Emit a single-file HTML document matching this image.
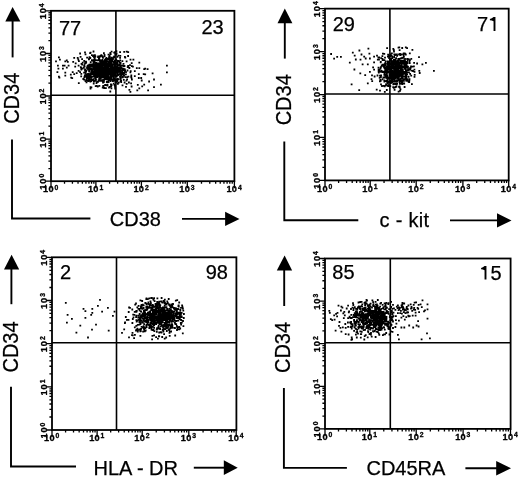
<!DOCTYPE html>
<html><head><meta charset="utf-8"><style>
html,body{margin:0;padding:0;background:#fff;}
svg{display:block;will-change:transform;}
text{font-family:"Liberation Sans", sans-serif;fill:#000;}
.big{stroke:#000;stroke-width:0.25px;}
</style></head><body>
<svg width="520" height="477" viewBox="0 0 520 477">
<rect width="520" height="477" fill="#fff"/>
<rect x="51.0" y="10.8" width="183.40" height="170.40" fill="none" stroke="#000" stroke-width="1.8"/>
<line x1="115.9" y1="10.8" x2="115.9" y2="181.2" stroke="#000" stroke-width="1.6"/>
<line x1="51.0" y1="95.3" x2="234.4" y2="95.3" stroke="#000" stroke-width="1.6"/>
<path d="M64.52 181.20v2.6 M51.00 168.56h-2.6 M72.42 181.20v2.6 M51.00 161.16h-2.6 M78.03 181.20v2.6 M51.00 155.91h-2.6 M82.38 181.20v2.6 M51.00 151.84h-2.6 M85.94 181.20v2.6 M51.00 148.52h-2.6 M88.94 181.20v2.6 M51.00 145.71h-2.6 M91.55 181.20v2.6 M51.00 143.27h-2.6 M93.85 181.20v2.6 M51.00 141.12h-2.6 M109.60 181.20v2.6 M51.00 126.20h-2.6 M117.61 181.20v2.6 M51.00 118.59h-2.6 M123.29 181.20v2.6 M51.00 113.19h-2.6 M127.70 181.20v2.6 M51.00 109.00h-2.6 M131.31 181.20v2.6 M51.00 105.58h-2.6 M134.35 181.20v2.6 M51.00 102.69h-2.6 M136.99 181.20v2.6 M51.00 100.19h-2.6 M139.32 181.20v2.6 M51.00 97.98h-2.6 M155.22 181.20v2.6 M51.00 83.21h-2.6 M163.30 181.20v2.6 M51.00 75.72h-2.6 M169.03 181.20v2.6 M51.00 70.41h-2.6 M173.48 181.20v2.6 M51.00 66.29h-2.6 M177.12 181.20v2.6 M51.00 62.93h-2.6 M180.19 181.20v2.6 M51.00 60.08h-2.6 M182.85 181.20v2.6 M51.00 57.62h-2.6 M185.20 181.20v2.6 M51.00 55.44h-2.6 M201.48 181.20v2.6 M51.00 40.65h-2.6 M209.77 181.20v2.6 M51.00 33.13h-2.6 M215.66 181.20v2.6 M51.00 27.79h-2.6 M220.22 181.20v2.6 M51.00 23.65h-2.6 M223.95 181.20v2.6 M51.00 20.27h-2.6 M227.10 181.20v2.6 M51.00 17.41h-2.6 M229.84 181.20v2.6 M51.00 14.94h-2.6 M232.24 181.20v2.6 M51.00 12.75h-2.6 M51.00 181.20v7 M51.00 181.20h-5.5 M95.90 181.20v7 M51.00 139.20h-5.5 M141.40 181.20v7 M51.00 96.00h-5.5 M187.30 181.20v7 M51.00 53.50h-5.5 M234.40 181.20v7 M51.00 10.80h-5.5" stroke="#000" stroke-width="1.3" fill="none"/>
<g font-family="Liberation Mono, monospace" font-weight="bold" stroke="#000" stroke-width="0.3" text-anchor="middle"><text x="45.60" y="192.40" font-size="9.2">1</text><text x="51.00" y="192.40" font-size="9.2">0</text><text x="56.40" y="189.50" font-size="6.8">0</text></g>
<g font-family="Liberation Mono, monospace" font-weight="bold" stroke="#000" stroke-width="0.3" text-anchor="middle"><text transform="translate(46.10 187.20) rotate(-90)" font-size="9.2">1</text><text transform="translate(46.10 181.20) rotate(-90)" font-size="9.2">0</text><text transform="translate(44.30 175.70) rotate(-90)" font-size="6.8">0</text></g>
<g font-family="Liberation Mono, monospace" font-weight="bold" stroke="#000" stroke-width="0.3" text-anchor="middle"><text x="90.50" y="192.40" font-size="9.2">1</text><text x="95.90" y="192.40" font-size="9.2">0</text><text x="101.30" y="189.50" font-size="6.8">1</text></g>
<g font-family="Liberation Mono, monospace" font-weight="bold" stroke="#000" stroke-width="0.3" text-anchor="middle"><text transform="translate(46.10 145.20) rotate(-90)" font-size="9.2">1</text><text transform="translate(46.10 139.20) rotate(-90)" font-size="9.2">0</text><text transform="translate(44.30 133.70) rotate(-90)" font-size="6.8">1</text></g>
<g font-family="Liberation Mono, monospace" font-weight="bold" stroke="#000" stroke-width="0.3" text-anchor="middle"><text x="136.00" y="192.40" font-size="9.2">1</text><text x="141.40" y="192.40" font-size="9.2">0</text><text x="146.80" y="189.50" font-size="6.8">2</text></g>
<g font-family="Liberation Mono, monospace" font-weight="bold" stroke="#000" stroke-width="0.3" text-anchor="middle"><text transform="translate(46.10 102.00) rotate(-90)" font-size="9.2">1</text><text transform="translate(46.10 96.00) rotate(-90)" font-size="9.2">0</text><text transform="translate(44.30 90.50) rotate(-90)" font-size="6.8">2</text></g>
<g font-family="Liberation Mono, monospace" font-weight="bold" stroke="#000" stroke-width="0.3" text-anchor="middle"><text x="181.90" y="192.40" font-size="9.2">1</text><text x="187.30" y="192.40" font-size="9.2">0</text><text x="192.70" y="189.50" font-size="6.8">3</text></g>
<g font-family="Liberation Mono, monospace" font-weight="bold" stroke="#000" stroke-width="0.3" text-anchor="middle"><text transform="translate(46.10 59.50) rotate(-90)" font-size="9.2">1</text><text transform="translate(46.10 53.50) rotate(-90)" font-size="9.2">0</text><text transform="translate(44.30 48.00) rotate(-90)" font-size="6.8">3</text></g>
<g font-family="Liberation Mono, monospace" font-weight="bold" stroke="#000" stroke-width="0.3" text-anchor="middle"><text x="229.00" y="192.40" font-size="9.2">1</text><text x="234.40" y="192.40" font-size="9.2">0</text><text x="239.80" y="189.50" font-size="6.8">4</text></g>
<g font-family="Liberation Mono, monospace" font-weight="bold" stroke="#000" stroke-width="0.3" text-anchor="middle"><text transform="translate(46.10 16.80) rotate(-90)" font-size="9.2">1</text><text transform="translate(46.10 10.80) rotate(-90)" font-size="9.2">0</text><text transform="translate(44.30 5.30) rotate(-90)" font-size="6.8">4</text></g>
<text class="big" x="58.98" y="34.50" font-size="20.0" >77</text>
<text class="big" x="201.50" y="34.00" font-size="20.0" >23</text>
<path d="M12.6 6.9L20.4 21.4L5.3 21.4Z" fill="#000"/>
<line x1="12.6" y1="20.4" x2="12.6" y2="57.4" stroke="#000" stroke-width="1.9"/>
<text transform="translate(18.90 123.84) rotate(-90) scale(1 1.08)" class="big" font-size="20.0">CD34</text>
<path d="M12.0 139.6V218.5H90.4" stroke="#000" stroke-width="1.9" fill="none"/>
<text class="big" x="109.78" y="226.00" font-size="20.0" >CD38</text>
<line x1="182.0" y1="218.9" x2="226.1" y2="218.9" stroke="#000" stroke-width="1.9"/>
<path d="M239.5 218.9L225.1 211.70L225.1 226.10Z" fill="#000"/>
<rect x="325.0" y="8.65" width="183.70" height="171.75" fill="none" stroke="#000" stroke-width="1.8"/>
<line x1="389.9" y1="8.65" x2="389.9" y2="180.4" stroke="#000" stroke-width="1.6"/>
<line x1="325.0" y1="94.0" x2="508.7" y2="94.0" stroke="#000" stroke-width="1.6"/>
<path d="M338.61 180.40v2.6 M325.00 167.47h-2.6 M346.57 180.40v2.6 M325.00 159.91h-2.6 M352.21 180.40v2.6 M325.00 154.55h-2.6 M356.59 180.40v2.6 M325.00 150.39h-2.6 M360.17 180.40v2.6 M325.00 146.99h-2.6 M363.20 180.40v2.6 M325.00 144.11h-2.6 M365.82 180.40v2.6 M325.00 141.62h-2.6 M368.13 180.40v2.6 M325.00 139.43h-2.6 M384.05 180.40v2.6 M325.00 124.54h-2.6 M392.15 180.40v2.6 M325.00 116.98h-2.6 M397.89 180.40v2.6 M325.00 111.61h-2.6 M402.35 180.40v2.6 M325.00 107.45h-2.6 M405.99 180.40v2.6 M325.00 104.05h-2.6 M409.07 180.40v2.6 M325.00 101.18h-2.6 M411.74 180.40v2.6 M325.00 98.69h-2.6 M414.10 180.40v2.6 M325.00 96.49h-2.6 M430.26 180.40v2.6 M325.00 81.60h-2.6 M438.48 180.40v2.6 M325.00 74.04h-2.6 M444.32 180.40v2.6 M325.00 68.67h-2.6 M448.84 180.40v2.6 M325.00 64.51h-2.6 M452.54 180.40v2.6 M325.00 61.11h-2.6 M455.67 180.40v2.6 M325.00 58.24h-2.6 M458.37 180.40v2.6 M325.00 55.75h-2.6 M460.76 180.40v2.6 M325.00 53.55h-2.6 M476.69 180.40v2.6 M325.00 38.66h-2.6 M484.75 180.40v2.6 M325.00 31.10h-2.6 M490.47 180.40v2.6 M325.00 25.74h-2.6 M494.91 180.40v2.6 M325.00 21.58h-2.6 M498.54 180.40v2.6 M325.00 18.18h-2.6 M501.61 180.40v2.6 M325.00 15.30h-2.6 M504.26 180.40v2.6 M325.00 12.81h-2.6 M506.60 180.40v2.6 M325.00 10.61h-2.6 M325.00 180.40v7 M325.00 180.40h-5.5 M370.20 180.40v7 M325.00 137.46h-5.5 M416.20 180.40v7 M325.00 94.53h-5.5 M462.90 180.40v7 M325.00 51.59h-5.5 M508.70 180.40v7 M325.00 8.65h-5.5" stroke="#000" stroke-width="1.3" fill="none"/>
<g font-family="Liberation Mono, monospace" font-weight="bold" stroke="#000" stroke-width="0.3" text-anchor="middle"><text x="319.60" y="191.60" font-size="9.2">1</text><text x="325.00" y="191.60" font-size="9.2">0</text><text x="330.40" y="188.70" font-size="6.8">0</text></g>
<g font-family="Liberation Mono, monospace" font-weight="bold" stroke="#000" stroke-width="0.3" text-anchor="middle"><text transform="translate(320.10 186.40) rotate(-90)" font-size="9.2">1</text><text transform="translate(320.10 180.40) rotate(-90)" font-size="9.2">0</text><text transform="translate(318.30 174.90) rotate(-90)" font-size="6.8">0</text></g>
<g font-family="Liberation Mono, monospace" font-weight="bold" stroke="#000" stroke-width="0.3" text-anchor="middle"><text x="364.80" y="191.60" font-size="9.2">1</text><text x="370.20" y="191.60" font-size="9.2">0</text><text x="375.60" y="188.70" font-size="6.8">1</text></g>
<g font-family="Liberation Mono, monospace" font-weight="bold" stroke="#000" stroke-width="0.3" text-anchor="middle"><text transform="translate(320.10 143.46) rotate(-90)" font-size="9.2">1</text><text transform="translate(320.10 137.46) rotate(-90)" font-size="9.2">0</text><text transform="translate(318.30 131.96) rotate(-90)" font-size="6.8">1</text></g>
<g font-family="Liberation Mono, monospace" font-weight="bold" stroke="#000" stroke-width="0.3" text-anchor="middle"><text x="410.80" y="191.60" font-size="9.2">1</text><text x="416.20" y="191.60" font-size="9.2">0</text><text x="421.60" y="188.70" font-size="6.8">2</text></g>
<g font-family="Liberation Mono, monospace" font-weight="bold" stroke="#000" stroke-width="0.3" text-anchor="middle"><text transform="translate(320.10 100.53) rotate(-90)" font-size="9.2">1</text><text transform="translate(320.10 94.53) rotate(-90)" font-size="9.2">0</text><text transform="translate(318.30 89.03) rotate(-90)" font-size="6.8">2</text></g>
<g font-family="Liberation Mono, monospace" font-weight="bold" stroke="#000" stroke-width="0.3" text-anchor="middle"><text x="457.50" y="191.60" font-size="9.2">1</text><text x="462.90" y="191.60" font-size="9.2">0</text><text x="468.30" y="188.70" font-size="6.8">3</text></g>
<g font-family="Liberation Mono, monospace" font-weight="bold" stroke="#000" stroke-width="0.3" text-anchor="middle"><text transform="translate(320.10 57.59) rotate(-90)" font-size="9.2">1</text><text transform="translate(320.10 51.59) rotate(-90)" font-size="9.2">0</text><text transform="translate(318.30 46.09) rotate(-90)" font-size="6.8">3</text></g>
<g font-family="Liberation Mono, monospace" font-weight="bold" stroke="#000" stroke-width="0.3" text-anchor="middle"><text x="503.30" y="191.60" font-size="9.2">1</text><text x="508.70" y="191.60" font-size="9.2">0</text><text x="514.10" y="188.70" font-size="6.8">4</text></g>
<g font-family="Liberation Mono, monospace" font-weight="bold" stroke="#000" stroke-width="0.3" text-anchor="middle"><text transform="translate(320.10 14.65) rotate(-90)" font-size="9.2">1</text><text transform="translate(320.10 8.65) rotate(-90)" font-size="9.2">0</text><text transform="translate(318.30 3.15) rotate(-90)" font-size="6.8">4</text></g>
<text class="big" x="332.70" y="30.90" font-size="20.0" >29</text>
<text class="big" x="477.08" y="31.00" font-size="20.0" >7</text>
<path d="M495.45 17.00V31.00H493.55V21.20Q491.90 20.40 489.90 20.30V18.90Q491.90 18.60 493.55 17.00Z" fill="#000"/>
<path d="M284.8 8.6L292.4 23.3L277.5 23.3Z" fill="#000"/>
<line x1="284.8" y1="22.3" x2="284.8" y2="58.6" stroke="#000" stroke-width="1.9"/>
<text transform="translate(291.30 125.34) rotate(-90) scale(1 1.08)" class="big" font-size="20.0">CD34</text>
<path d="M284.3 141.4V220.2H358.3" stroke="#000" stroke-width="1.9" fill="none"/>
<text class="big" x="379.56" y="227.30" font-size="20.0" letter-spacing="0.3">c - kit</text>
<line x1="450.0" y1="220.4" x2="498.0" y2="220.4" stroke="#000" stroke-width="1.9"/>
<path d="M511.5 220.4L497.0 213.20L497.0 227.60Z" fill="#000"/>
<rect x="52.0" y="257.3" width="184.40" height="172.70" fill="none" stroke="#000" stroke-width="1.8"/>
<line x1="116.5" y1="257.3" x2="116.5" y2="430.0" stroke="#000" stroke-width="1.6"/>
<line x1="52.0" y1="342.7" x2="236.4" y2="342.7" stroke="#000" stroke-width="1.6"/>
<path d="M65.58 430.00v2.6 M52.00 417.00h-2.6 M73.52 430.00v2.6 M52.00 409.40h-2.6 M79.15 430.00v2.6 M52.00 404.01h-2.6 M83.52 430.00v2.6 M52.00 399.82h-2.6 M87.09 430.00v2.6 M52.00 396.40h-2.6 M90.11 430.00v2.6 M52.00 393.51h-2.6 M92.73 430.00v2.6 M52.00 391.01h-2.6 M95.04 430.00v2.6 M52.00 388.80h-2.6 M110.68 430.00v2.6 M52.00 373.83h-2.6 M118.62 430.00v2.6 M52.00 366.23h-2.6 M124.25 430.00v2.6 M52.00 360.83h-2.6 M128.62 430.00v2.6 M52.00 356.65h-2.6 M132.19 430.00v2.6 M52.00 353.23h-2.6 M135.21 430.00v2.6 M52.00 350.34h-2.6 M137.83 430.00v2.6 M52.00 347.83h-2.6 M140.14 430.00v2.6 M52.00 345.63h-2.6 M156.23 430.00v2.6 M52.00 330.65h-2.6 M164.43 430.00v2.6 M52.00 323.05h-2.6 M170.26 430.00v2.6 M52.00 317.66h-2.6 M174.77 430.00v2.6 M52.00 313.47h-2.6 M178.46 430.00v2.6 M52.00 310.05h-2.6 M181.58 430.00v2.6 M52.00 307.16h-2.6 M184.28 430.00v2.6 M52.00 304.66h-2.6 M186.67 430.00v2.6 M52.00 302.45h-2.6 M203.07 430.00v2.6 M52.00 287.48h-2.6 M211.42 430.00v2.6 M52.00 279.88h-2.6 M217.34 430.00v2.6 M52.00 274.48h-2.6 M221.93 430.00v2.6 M52.00 270.30h-2.6 M225.68 430.00v2.6 M52.00 266.88h-2.6 M228.86 430.00v2.6 M52.00 263.99h-2.6 M231.61 430.00v2.6 M52.00 261.48h-2.6 M234.03 430.00v2.6 M52.00 259.28h-2.6 M52.00 430.00v7 M52.00 430.00h-5.5 M97.10 430.00v7 M52.00 386.82h-5.5 M142.20 430.00v7 M52.00 343.65h-5.5 M188.80 430.00v7 M52.00 300.48h-5.5 M236.20 430.00v7 M52.00 257.30h-5.5" stroke="#000" stroke-width="1.3" fill="none"/>
<g font-family="Liberation Mono, monospace" font-weight="bold" stroke="#000" stroke-width="0.3" text-anchor="middle"><text x="46.60" y="441.20" font-size="9.2">1</text><text x="52.00" y="441.20" font-size="9.2">0</text><text x="57.40" y="438.30" font-size="6.8">0</text></g>
<g font-family="Liberation Mono, monospace" font-weight="bold" stroke="#000" stroke-width="0.3" text-anchor="middle"><text transform="translate(47.10 436.00) rotate(-90)" font-size="9.2">1</text><text transform="translate(47.10 430.00) rotate(-90)" font-size="9.2">0</text><text transform="translate(45.30 424.50) rotate(-90)" font-size="6.8">0</text></g>
<g font-family="Liberation Mono, monospace" font-weight="bold" stroke="#000" stroke-width="0.3" text-anchor="middle"><text x="91.70" y="441.20" font-size="9.2">1</text><text x="97.10" y="441.20" font-size="9.2">0</text><text x="102.50" y="438.30" font-size="6.8">1</text></g>
<g font-family="Liberation Mono, monospace" font-weight="bold" stroke="#000" stroke-width="0.3" text-anchor="middle"><text transform="translate(47.10 392.82) rotate(-90)" font-size="9.2">1</text><text transform="translate(47.10 386.82) rotate(-90)" font-size="9.2">0</text><text transform="translate(45.30 381.32) rotate(-90)" font-size="6.8">1</text></g>
<g font-family="Liberation Mono, monospace" font-weight="bold" stroke="#000" stroke-width="0.3" text-anchor="middle"><text x="136.80" y="441.20" font-size="9.2">1</text><text x="142.20" y="441.20" font-size="9.2">0</text><text x="147.60" y="438.30" font-size="6.8">2</text></g>
<g font-family="Liberation Mono, monospace" font-weight="bold" stroke="#000" stroke-width="0.3" text-anchor="middle"><text transform="translate(47.10 349.65) rotate(-90)" font-size="9.2">1</text><text transform="translate(47.10 343.65) rotate(-90)" font-size="9.2">0</text><text transform="translate(45.30 338.15) rotate(-90)" font-size="6.8">2</text></g>
<g font-family="Liberation Mono, monospace" font-weight="bold" stroke="#000" stroke-width="0.3" text-anchor="middle"><text x="183.40" y="441.20" font-size="9.2">1</text><text x="188.80" y="441.20" font-size="9.2">0</text><text x="194.20" y="438.30" font-size="6.8">3</text></g>
<g font-family="Liberation Mono, monospace" font-weight="bold" stroke="#000" stroke-width="0.3" text-anchor="middle"><text transform="translate(47.10 306.48) rotate(-90)" font-size="9.2">1</text><text transform="translate(47.10 300.48) rotate(-90)" font-size="9.2">0</text><text transform="translate(45.30 294.98) rotate(-90)" font-size="6.8">3</text></g>
<g font-family="Liberation Mono, monospace" font-weight="bold" stroke="#000" stroke-width="0.3" text-anchor="middle"><text x="230.80" y="441.20" font-size="9.2">1</text><text x="236.20" y="441.20" font-size="9.2">0</text><text x="241.60" y="438.30" font-size="6.8">4</text></g>
<g font-family="Liberation Mono, monospace" font-weight="bold" stroke="#000" stroke-width="0.3" text-anchor="middle"><text transform="translate(47.10 263.30) rotate(-90)" font-size="9.2">1</text><text transform="translate(47.10 257.30) rotate(-90)" font-size="9.2">0</text><text transform="translate(45.30 251.80) rotate(-90)" font-size="6.8">4</text></g>
<text class="big" x="60.10" y="279.40" font-size="20.0" >2</text>
<text class="big" x="205.76" y="278.90" font-size="20.0" >98</text>
<path d="M11.6 254.8L19.2 269.6L4.0 269.6Z" fill="#000"/>
<line x1="11.4" y1="268.6" x2="11.4" y2="304.2" stroke="#000" stroke-width="1.9"/>
<text transform="translate(18.30 372.49) rotate(-90) scale(1 1.08)" class="big" font-size="20.0">CD34</text>
<path d="M11.0 386.8V466.5H76.0" stroke="#000" stroke-width="1.9" fill="none"/>
<text class="big" x="93.56" y="475.00" font-size="20.0" >HLA - DR</text>
<line x1="193.8" y1="467.7" x2="224.8" y2="467.7" stroke="#000" stroke-width="1.9"/>
<path d="M237.7 467.7L223.8 460.30L223.8 475.10Z" fill="#000"/>
<rect x="325.0" y="258.5" width="185.60" height="170.40" fill="none" stroke="#000" stroke-width="1.8"/>
<line x1="390.3" y1="258.5" x2="390.3" y2="428.9" stroke="#000" stroke-width="1.6"/>
<line x1="325.0" y1="342.7" x2="510.6" y2="342.7" stroke="#000" stroke-width="1.6"/>
<path d="M338.49 428.90v2.6 M325.00 416.08h-2.6 M346.38 428.90v2.6 M325.00 408.57h-2.6 M351.97 428.90v2.6 M325.00 403.25h-2.6 M356.31 428.90v2.6 M325.00 399.12h-2.6 M359.86 428.90v2.6 M325.00 395.75h-2.6 M362.86 428.90v2.6 M325.00 392.90h-2.6 M365.46 428.90v2.6 M325.00 390.43h-2.6 M367.75 428.90v2.6 M325.00 388.25h-2.6 M383.77 428.90v2.6 M325.00 373.48h-2.6 M391.94 428.90v2.6 M325.00 365.97h-2.6 M397.74 428.90v2.6 M325.00 360.65h-2.6 M402.23 428.90v2.6 M325.00 356.52h-2.6 M405.91 428.90v2.6 M325.00 353.15h-2.6 M409.01 428.90v2.6 M325.00 350.30h-2.6 M411.70 428.90v2.6 M325.00 347.83h-2.6 M414.08 428.90v2.6 M325.00 345.65h-2.6 M430.32 428.90v2.6 M325.00 330.88h-2.6 M438.58 428.90v2.6 M325.00 323.37h-2.6 M444.44 428.90v2.6 M325.00 318.05h-2.6 M448.98 428.90v2.6 M325.00 313.92h-2.6 M452.70 428.90v2.6 M325.00 310.55h-2.6 M455.84 428.90v2.6 M325.00 307.70h-2.6 M458.55 428.90v2.6 M325.00 305.23h-2.6 M460.95 428.90v2.6 M325.00 303.05h-2.6 M477.37 428.90v2.6 M325.00 288.28h-2.6 M485.72 428.90v2.6 M325.00 280.77h-2.6 M491.64 428.90v2.6 M325.00 275.45h-2.6 M496.23 428.90v2.6 M325.00 271.32h-2.6 M499.98 428.90v2.6 M325.00 267.95h-2.6 M503.16 428.90v2.6 M325.00 265.10h-2.6 M505.91 428.90v2.6 M325.00 262.63h-2.6 M508.33 428.90v2.6 M325.00 260.45h-2.6 M325.00 428.90v7 M325.00 428.90h-5.5 M369.80 428.90v7 M325.00 386.30h-5.5 M416.20 428.90v7 M325.00 343.70h-5.5 M463.10 428.90v7 M325.00 301.10h-5.5 M510.50 428.90v7 M325.00 258.50h-5.5" stroke="#000" stroke-width="1.3" fill="none"/>
<g font-family="Liberation Mono, monospace" font-weight="bold" stroke="#000" stroke-width="0.3" text-anchor="middle"><text x="319.60" y="440.10" font-size="9.2">1</text><text x="325.00" y="440.10" font-size="9.2">0</text><text x="330.40" y="437.20" font-size="6.8">0</text></g>
<g font-family="Liberation Mono, monospace" font-weight="bold" stroke="#000" stroke-width="0.3" text-anchor="middle"><text transform="translate(320.10 434.90) rotate(-90)" font-size="9.2">1</text><text transform="translate(320.10 428.90) rotate(-90)" font-size="9.2">0</text><text transform="translate(318.30 423.40) rotate(-90)" font-size="6.8">0</text></g>
<g font-family="Liberation Mono, monospace" font-weight="bold" stroke="#000" stroke-width="0.3" text-anchor="middle"><text x="364.40" y="440.10" font-size="9.2">1</text><text x="369.80" y="440.10" font-size="9.2">0</text><text x="375.20" y="437.20" font-size="6.8">1</text></g>
<g font-family="Liberation Mono, monospace" font-weight="bold" stroke="#000" stroke-width="0.3" text-anchor="middle"><text transform="translate(320.10 392.30) rotate(-90)" font-size="9.2">1</text><text transform="translate(320.10 386.30) rotate(-90)" font-size="9.2">0</text><text transform="translate(318.30 380.80) rotate(-90)" font-size="6.8">1</text></g>
<g font-family="Liberation Mono, monospace" font-weight="bold" stroke="#000" stroke-width="0.3" text-anchor="middle"><text x="410.80" y="440.10" font-size="9.2">1</text><text x="416.20" y="440.10" font-size="9.2">0</text><text x="421.60" y="437.20" font-size="6.8">2</text></g>
<g font-family="Liberation Mono, monospace" font-weight="bold" stroke="#000" stroke-width="0.3" text-anchor="middle"><text transform="translate(320.10 349.70) rotate(-90)" font-size="9.2">1</text><text transform="translate(320.10 343.70) rotate(-90)" font-size="9.2">0</text><text transform="translate(318.30 338.20) rotate(-90)" font-size="6.8">2</text></g>
<g font-family="Liberation Mono, monospace" font-weight="bold" stroke="#000" stroke-width="0.3" text-anchor="middle"><text x="457.70" y="440.10" font-size="9.2">1</text><text x="463.10" y="440.10" font-size="9.2">0</text><text x="468.50" y="437.20" font-size="6.8">3</text></g>
<g font-family="Liberation Mono, monospace" font-weight="bold" stroke="#000" stroke-width="0.3" text-anchor="middle"><text transform="translate(320.10 307.10) rotate(-90)" font-size="9.2">1</text><text transform="translate(320.10 301.10) rotate(-90)" font-size="9.2">0</text><text transform="translate(318.30 295.60) rotate(-90)" font-size="6.8">3</text></g>
<g font-family="Liberation Mono, monospace" font-weight="bold" stroke="#000" stroke-width="0.3" text-anchor="middle"><text x="505.10" y="440.10" font-size="9.2">1</text><text x="510.50" y="440.10" font-size="9.2">0</text><text x="515.90" y="437.20" font-size="6.8">4</text></g>
<g font-family="Liberation Mono, monospace" font-weight="bold" stroke="#000" stroke-width="0.3" text-anchor="middle"><text transform="translate(320.10 264.50) rotate(-90)" font-size="9.2">1</text><text transform="translate(320.10 258.50) rotate(-90)" font-size="9.2">0</text><text transform="translate(318.30 253.00) rotate(-90)" font-size="6.8">4</text></g>
<text class="big" x="332.34" y="278.90" font-size="20.0" >85</text>
<path d="M486.45 266.00V279.60H484.55V270.20Q482.90 269.40 481.10 269.30V267.90Q482.90 267.60 484.55 266.00Z" fill="#000"/>
<text class="big" x="490.45" y="279.70" font-size="20.0" >5</text>
<path d="M284.6 255.6L292.1 270.6L276.8 270.6Z" fill="#000"/>
<line x1="284.2" y1="269.6" x2="284.2" y2="306.0" stroke="#000" stroke-width="1.9"/>
<text transform="translate(289.70 372.99) rotate(-90) scale(1 1.08)" class="big" font-size="20.0">CD34</text>
<path d="M283.9 388.0V467.9H346.9" stroke="#000" stroke-width="1.9" fill="none"/>
<text class="big" x="366.48" y="475.20" font-size="20.0" >CD45RA</text>
<line x1="465.4" y1="468.2" x2="497.2" y2="468.2" stroke="#000" stroke-width="1.9"/>
<path d="M511.0 468.2L496.2 460.90L496.2 475.50Z" fill="#000"/>
<path d="M101.3 72.6h1.8v1.8h-1.8zM101.6 66.8h1.8v1.8h-1.8zM94.2 67.5h1.8v1.8h-1.8zM115.7 72.0h1.8v1.8h-1.8zM114.9 70.7h1.8v1.8h-1.8zM108.1 70.3h1.8v1.8h-1.8zM86.5 75.0h1.8v1.8h-1.8zM109.3 72.5h1.8v1.8h-1.8zM86.2 56.8h1.8v1.8h-1.8zM94.7 65.7h1.8v1.8h-1.8zM107.2 68.7h1.8v1.8h-1.8zM109.5 64.5h1.8v1.8h-1.8zM107.2 71.8h1.8v1.8h-1.8zM97.1 81.0h1.8v1.8h-1.8zM109.8 77.4h1.8v1.8h-1.8zM97.5 63.8h1.8v1.8h-1.8zM100.4 68.3h1.8v1.8h-1.8zM110.6 70.7h1.8v1.8h-1.8zM99.3 62.3h1.8v1.8h-1.8zM98.5 77.5h1.8v1.8h-1.8zM95.5 70.7h1.8v1.8h-1.8zM108.5 58.6h1.8v1.8h-1.8zM104.5 78.1h1.8v1.8h-1.8zM82.8 66.7h1.8v1.8h-1.8zM102.9 63.3h1.8v1.8h-1.8zM109.2 68.6h1.8v1.8h-1.8zM88.6 74.8h1.8v1.8h-1.8zM111.0 75.6h1.8v1.8h-1.8zM119.1 71.5h1.8v1.8h-1.8zM105.3 59.9h1.8v1.8h-1.8zM110.5 64.7h1.8v1.8h-1.8zM99.2 60.1h1.8v1.8h-1.8zM93.8 65.3h1.8v1.8h-1.8zM117.5 54.8h1.8v1.8h-1.8zM88.7 70.7h1.8v1.8h-1.8zM119.2 73.0h1.8v1.8h-1.8zM84.1 51.4h1.8v1.8h-1.8zM107.8 63.8h1.8v1.8h-1.8zM92.2 75.8h1.8v1.8h-1.8zM115.6 70.1h1.8v1.8h-1.8zM106.6 72.0h1.8v1.8h-1.8zM120.7 73.3h1.8v1.8h-1.8zM109.4 72.8h1.8v1.8h-1.8zM87.5 78.0h1.8v1.8h-1.8zM114.0 72.7h1.8v1.8h-1.8zM83.3 64.6h1.8v1.8h-1.8zM112.8 56.3h1.8v1.8h-1.8zM102.1 76.1h1.8v1.8h-1.8zM90.2 80.3h1.8v1.8h-1.8zM109.8 67.9h1.8v1.8h-1.8zM107.4 73.5h1.8v1.8h-1.8zM105.3 77.0h1.8v1.8h-1.8zM97.1 66.1h1.8v1.8h-1.8zM114.9 69.2h1.8v1.8h-1.8zM94.8 75.6h1.8v1.8h-1.8zM119.4 65.9h1.8v1.8h-1.8zM89.5 68.1h1.8v1.8h-1.8zM102.4 66.9h1.8v1.8h-1.8zM118.8 61.8h1.8v1.8h-1.8zM117.2 60.1h1.8v1.8h-1.8zM95.7 73.4h1.8v1.8h-1.8zM115.9 75.0h1.8v1.8h-1.8zM107.6 70.0h1.8v1.8h-1.8zM105.6 73.0h1.8v1.8h-1.8zM102.1 70.9h1.8v1.8h-1.8zM110.0 69.0h1.8v1.8h-1.8zM112.0 73.0h1.8v1.8h-1.8zM125.1 71.3h1.8v1.8h-1.8zM99.5 66.4h1.8v1.8h-1.8zM103.9 75.5h1.8v1.8h-1.8zM100.5 71.7h1.8v1.8h-1.8zM123.3 51.0h1.8v1.8h-1.8zM92.2 70.7h1.8v1.8h-1.8zM108.2 70.7h1.8v1.8h-1.8zM99.5 73.6h1.8v1.8h-1.8zM107.0 65.3h1.8v1.8h-1.8zM129.5 71.5h1.8v1.8h-1.8zM98.2 68.3h1.8v1.8h-1.8zM101.6 68.6h1.8v1.8h-1.8zM114.6 60.8h1.8v1.8h-1.8zM103.3 75.7h1.8v1.8h-1.8zM113.0 79.4h1.8v1.8h-1.8zM86.1 66.5h1.8v1.8h-1.8zM100.4 73.4h1.8v1.8h-1.8zM115.5 50.2h1.8v1.8h-1.8zM115.4 58.9h1.8v1.8h-1.8zM111.2 58.6h1.8v1.8h-1.8zM105.8 77.4h1.8v1.8h-1.8zM102.4 70.3h1.8v1.8h-1.8zM112.4 70.0h1.8v1.8h-1.8zM103.1 79.7h1.8v1.8h-1.8zM115.0 66.9h1.8v1.8h-1.8zM113.6 67.1h1.8v1.8h-1.8zM105.4 73.9h1.8v1.8h-1.8zM106.3 73.5h1.8v1.8h-1.8zM88.0 58.4h1.8v1.8h-1.8zM110.5 62.3h1.8v1.8h-1.8zM93.2 58.7h1.8v1.8h-1.8zM117.3 74.2h1.8v1.8h-1.8zM119.5 62.4h1.8v1.8h-1.8zM104.0 61.0h1.8v1.8h-1.8zM112.0 80.1h1.8v1.8h-1.8zM94.7 79.9h1.8v1.8h-1.8zM114.4 67.8h1.8v1.8h-1.8zM83.3 78.8h1.8v1.8h-1.8zM103.0 64.8h1.8v1.8h-1.8zM108.2 71.9h1.8v1.8h-1.8zM119.7 61.9h1.8v1.8h-1.8zM115.9 79.4h1.8v1.8h-1.8zM119.2 67.7h1.8v1.8h-1.8zM96.2 76.1h1.8v1.8h-1.8zM105.2 69.9h1.8v1.8h-1.8zM119.0 67.2h1.8v1.8h-1.8zM79.9 66.3h1.8v1.8h-1.8zM84.5 74.7h1.8v1.8h-1.8zM107.3 64.7h1.8v1.8h-1.8zM103.9 74.8h1.8v1.8h-1.8zM104.8 78.3h1.8v1.8h-1.8zM103.4 76.3h1.8v1.8h-1.8zM119.7 80.3h1.8v1.8h-1.8zM96.9 75.2h1.8v1.8h-1.8zM84.3 61.4h1.8v1.8h-1.8zM83.4 76.5h1.8v1.8h-1.8zM91.1 68.9h1.8v1.8h-1.8zM102.0 68.8h1.8v1.8h-1.8zM97.8 70.6h1.8v1.8h-1.8zM122.8 69.3h1.8v1.8h-1.8zM109.6 76.0h1.8v1.8h-1.8zM101.9 60.2h1.8v1.8h-1.8zM98.2 76.5h1.8v1.8h-1.8zM86.7 64.8h1.8v1.8h-1.8zM114.6 74.5h1.8v1.8h-1.8zM104.1 74.6h1.8v1.8h-1.8zM105.7 60.7h1.8v1.8h-1.8zM87.6 64.5h1.8v1.8h-1.8zM113.7 65.0h1.8v1.8h-1.8zM94.5 63.6h1.8v1.8h-1.8zM87.9 68.2h1.8v1.8h-1.8zM91.6 71.5h1.8v1.8h-1.8zM79.2 71.3h1.8v1.8h-1.8zM97.3 55.4h1.8v1.8h-1.8zM111.6 67.1h1.8v1.8h-1.8zM80.6 62.9h1.8v1.8h-1.8zM107.1 65.8h1.8v1.8h-1.8zM112.2 74.2h1.8v1.8h-1.8zM111.0 71.3h1.8v1.8h-1.8zM118.0 73.6h1.8v1.8h-1.8zM108.7 54.4h1.8v1.8h-1.8zM113.4 78.2h1.8v1.8h-1.8zM100.9 65.7h1.8v1.8h-1.8zM124.4 56.7h1.8v1.8h-1.8zM108.9 86.0h1.8v1.8h-1.8zM94.3 73.8h1.8v1.8h-1.8zM123.8 68.2h1.8v1.8h-1.8zM109.9 75.3h1.8v1.8h-1.8zM94.5 68.4h1.8v1.8h-1.8zM107.1 74.8h1.8v1.8h-1.8zM103.6 67.6h1.8v1.8h-1.8zM93.3 66.5h1.8v1.8h-1.8zM113.4 69.7h1.8v1.8h-1.8zM95.0 63.1h1.8v1.8h-1.8zM110.7 50.8h1.8v1.8h-1.8zM110.5 72.4h1.8v1.8h-1.8zM121.7 72.0h1.8v1.8h-1.8zM103.3 72.7h1.8v1.8h-1.8zM83.6 76.2h1.8v1.8h-1.8zM107.4 64.1h1.8v1.8h-1.8zM117.9 81.7h1.8v1.8h-1.8zM89.3 64.3h1.8v1.8h-1.8zM107.1 70.3h1.8v1.8h-1.8zM99.8 62.2h1.8v1.8h-1.8zM126.3 76.3h1.8v1.8h-1.8zM91.5 59.6h1.8v1.8h-1.8zM121.9 75.9h1.8v1.8h-1.8zM123.1 74.7h1.8v1.8h-1.8zM94.8 70.8h1.8v1.8h-1.8zM81.3 63.8h1.8v1.8h-1.8zM103.4 72.7h1.8v1.8h-1.8zM96.4 68.1h1.8v1.8h-1.8zM108.8 71.6h1.8v1.8h-1.8zM110.7 70.5h1.8v1.8h-1.8zM100.6 74.5h1.8v1.8h-1.8zM104.5 63.2h1.8v1.8h-1.8zM97.4 69.0h1.8v1.8h-1.8zM102.8 70.1h1.8v1.8h-1.8zM104.0 70.2h1.8v1.8h-1.8zM102.6 60.2h1.8v1.8h-1.8zM108.4 76.4h1.8v1.8h-1.8zM108.6 67.7h1.8v1.8h-1.8zM108.7 62.2h1.8v1.8h-1.8zM84.1 69.4h1.8v1.8h-1.8zM94.2 74.2h1.8v1.8h-1.8zM92.6 50.6h1.8v1.8h-1.8zM93.1 80.0h1.8v1.8h-1.8zM100.0 59.4h1.8v1.8h-1.8zM96.0 72.6h1.8v1.8h-1.8zM109.2 70.2h1.8v1.8h-1.8zM119.6 73.9h1.8v1.8h-1.8zM103.8 73.2h1.8v1.8h-1.8zM121.4 75.8h1.8v1.8h-1.8zM114.7 61.4h1.8v1.8h-1.8zM102.4 74.1h1.8v1.8h-1.8zM100.9 76.5h1.8v1.8h-1.8zM110.3 75.4h1.8v1.8h-1.8zM101.8 86.8h1.8v1.8h-1.8zM117.0 67.5h1.8v1.8h-1.8zM105.0 87.2h1.8v1.8h-1.8zM100.4 75.1h1.8v1.8h-1.8zM114.3 69.0h1.8v1.8h-1.8zM91.7 70.3h1.8v1.8h-1.8zM107.8 76.9h1.8v1.8h-1.8zM112.2 69.2h1.8v1.8h-1.8zM113.0 72.8h1.8v1.8h-1.8zM106.2 69.4h1.8v1.8h-1.8zM101.4 73.8h1.8v1.8h-1.8zM92.9 64.6h1.8v1.8h-1.8zM104.1 58.8h1.8v1.8h-1.8zM99.4 54.9h1.8v1.8h-1.8zM96.8 73.0h1.8v1.8h-1.8zM109.9 68.6h1.8v1.8h-1.8zM101.6 59.1h1.8v1.8h-1.8zM123.2 72.6h1.8v1.8h-1.8zM115.5 62.8h1.8v1.8h-1.8zM102.1 56.3h1.8v1.8h-1.8zM112.2 75.5h1.8v1.8h-1.8zM84.1 68.6h1.8v1.8h-1.8zM110.6 56.7h1.8v1.8h-1.8zM84.8 61.5h1.8v1.8h-1.8zM97.4 59.2h1.8v1.8h-1.8zM104.3 70.7h1.8v1.8h-1.8zM110.7 73.9h1.8v1.8h-1.8zM119.8 77.2h1.8v1.8h-1.8zM90.2 65.5h1.8v1.8h-1.8zM92.9 61.5h1.8v1.8h-1.8zM103.1 69.0h1.8v1.8h-1.8zM109.1 57.9h1.8v1.8h-1.8zM91.0 68.8h1.8v1.8h-1.8zM101.9 66.8h1.8v1.8h-1.8zM103.3 63.7h1.8v1.8h-1.8zM111.4 71.5h1.8v1.8h-1.8zM103.1 64.3h1.8v1.8h-1.8zM93.7 69.3h1.8v1.8h-1.8zM88.2 70.4h1.8v1.8h-1.8zM105.5 59.4h1.8v1.8h-1.8zM101.4 66.8h1.8v1.8h-1.8zM108.8 73.3h1.8v1.8h-1.8zM103.6 63.0h1.8v1.8h-1.8zM102.5 68.5h1.8v1.8h-1.8zM111.7 71.1h1.8v1.8h-1.8zM96.4 59.5h1.8v1.8h-1.8zM100.1 63.8h1.8v1.8h-1.8zM92.3 68.2h1.8v1.8h-1.8zM98.8 69.7h1.8v1.8h-1.8zM109.5 66.1h1.8v1.8h-1.8zM128.4 66.7h1.8v1.8h-1.8zM115.6 69.9h1.8v1.8h-1.8zM115.7 52.4h1.8v1.8h-1.8zM96.1 70.7h1.8v1.8h-1.8zM110.3 85.4h1.8v1.8h-1.8zM107.4 78.0h1.8v1.8h-1.8zM112.0 75.6h1.8v1.8h-1.8zM109.4 67.9h1.8v1.8h-1.8zM109.3 61.5h1.8v1.8h-1.8zM116.4 61.9h1.8v1.8h-1.8zM106.6 83.8h1.8v1.8h-1.8zM101.7 69.1h1.8v1.8h-1.8zM116.2 69.2h1.8v1.8h-1.8zM95.5 70.8h1.8v1.8h-1.8zM110.1 74.0h1.8v1.8h-1.8zM95.9 81.3h1.8v1.8h-1.8zM121.5 69.1h1.8v1.8h-1.8zM106.8 66.0h1.8v1.8h-1.8zM118.8 64.1h1.8v1.8h-1.8zM111.1 65.6h1.8v1.8h-1.8zM96.7 74.0h1.8v1.8h-1.8zM118.0 68.9h1.8v1.8h-1.8zM96.9 74.7h1.8v1.8h-1.8zM103.5 71.2h1.8v1.8h-1.8zM120.0 76.9h1.8v1.8h-1.8zM98.5 85.0h1.8v1.8h-1.8zM104.0 74.5h1.8v1.8h-1.8zM97.2 68.7h1.8v1.8h-1.8zM85.6 81.5h1.8v1.8h-1.8zM118.3 60.5h1.8v1.8h-1.8zM88.2 57.7h1.8v1.8h-1.8zM116.3 65.8h1.8v1.8h-1.8zM103.4 66.8h1.8v1.8h-1.8zM102.7 61.4h1.8v1.8h-1.8zM104.3 58.9h1.8v1.8h-1.8zM103.2 71.2h1.8v1.8h-1.8zM108.9 67.4h1.8v1.8h-1.8zM94.5 70.1h1.8v1.8h-1.8zM98.9 80.0h1.8v1.8h-1.8zM112.1 68.2h1.8v1.8h-1.8zM99.1 64.1h1.8v1.8h-1.8zM94.2 66.5h1.8v1.8h-1.8zM107.1 72.6h1.8v1.8h-1.8zM110.0 83.7h1.8v1.8h-1.8zM96.6 69.1h1.8v1.8h-1.8zM98.5 70.2h1.8v1.8h-1.8zM105.6 71.9h1.8v1.8h-1.8zM101.5 71.6h1.8v1.8h-1.8zM104.6 74.4h1.8v1.8h-1.8zM84.1 62.8h1.8v1.8h-1.8zM104.0 61.8h1.8v1.8h-1.8zM93.0 73.4h1.8v1.8h-1.8zM97.2 73.4h1.8v1.8h-1.8zM111.8 71.1h1.8v1.8h-1.8zM109.3 68.3h1.8v1.8h-1.8zM89.2 68.8h1.8v1.8h-1.8zM108.8 65.3h1.8v1.8h-1.8zM103.0 74.2h1.8v1.8h-1.8zM94.8 73.5h1.8v1.8h-1.8zM123.6 65.1h1.8v1.8h-1.8zM105.5 67.9h1.8v1.8h-1.8zM120.2 71.2h1.8v1.8h-1.8zM113.4 64.2h1.8v1.8h-1.8zM103.8 68.9h1.8v1.8h-1.8zM85.4 79.1h1.8v1.8h-1.8zM113.4 56.8h1.8v1.8h-1.8zM111.8 68.1h1.8v1.8h-1.8zM108.7 71.6h1.8v1.8h-1.8zM88.3 67.5h1.8v1.8h-1.8zM119.7 65.0h1.8v1.8h-1.8zM93.3 59.5h1.8v1.8h-1.8zM91.2 71.3h1.8v1.8h-1.8zM121.8 72.0h1.8v1.8h-1.8zM106.6 84.6h1.8v1.8h-1.8zM98.5 64.3h1.8v1.8h-1.8zM109.5 72.8h1.8v1.8h-1.8zM93.3 60.8h1.8v1.8h-1.8zM107.1 70.7h1.8v1.8h-1.8zM90.3 67.6h1.8v1.8h-1.8zM98.3 72.2h1.8v1.8h-1.8zM102.8 68.4h1.8v1.8h-1.8zM100.3 76.4h1.8v1.8h-1.8zM118.6 66.4h1.8v1.8h-1.8zM112.9 63.7h1.8v1.8h-1.8zM104.8 74.2h1.8v1.8h-1.8zM119.9 66.3h1.8v1.8h-1.8zM103.2 70.4h1.8v1.8h-1.8zM88.3 69.1h1.8v1.8h-1.8zM96.9 71.6h1.8v1.8h-1.8zM92.1 55.2h1.8v1.8h-1.8zM104.4 70.8h1.8v1.8h-1.8zM98.2 75.2h1.8v1.8h-1.8zM101.1 64.8h1.8v1.8h-1.8zM109.0 58.0h1.8v1.8h-1.8zM96.9 68.9h1.8v1.8h-1.8zM112.9 67.9h1.8v1.8h-1.8zM107.2 64.4h1.8v1.8h-1.8zM107.2 80.6h1.8v1.8h-1.8zM96.8 85.6h1.8v1.8h-1.8zM97.2 69.1h1.8v1.8h-1.8zM105.8 76.2h1.8v1.8h-1.8zM91.0 54.3h1.8v1.8h-1.8zM110.4 74.6h1.8v1.8h-1.8zM110.5 87.4h1.8v1.8h-1.8zM106.2 70.8h1.8v1.8h-1.8zM113.8 71.6h1.8v1.8h-1.8zM121.5 60.3h1.8v1.8h-1.8zM112.5 66.4h1.8v1.8h-1.8zM113.7 84.1h1.8v1.8h-1.8zM103.9 67.2h1.8v1.8h-1.8zM98.8 63.1h1.8v1.8h-1.8zM97.4 73.5h1.8v1.8h-1.8zM104.4 69.5h1.8v1.8h-1.8zM102.2 75.4h1.8v1.8h-1.8zM109.2 68.0h1.8v1.8h-1.8zM111.0 67.9h1.8v1.8h-1.8zM91.9 79.2h1.8v1.8h-1.8zM108.9 62.3h1.8v1.8h-1.8zM115.3 71.4h1.8v1.8h-1.8zM87.6 80.3h1.8v1.8h-1.8zM107.5 75.2h1.8v1.8h-1.8zM106.1 68.0h1.8v1.8h-1.8zM87.7 75.8h1.8v1.8h-1.8zM104.3 67.0h1.8v1.8h-1.8zM107.7 69.5h1.8v1.8h-1.8zM111.1 66.4h1.8v1.8h-1.8zM103.6 54.0h1.8v1.8h-1.8zM99.6 73.7h1.8v1.8h-1.8zM118.0 66.5h1.8v1.8h-1.8zM102.7 80.1h1.8v1.8h-1.8zM100.6 74.1h1.8v1.8h-1.8zM121.6 69.3h1.8v1.8h-1.8zM116.9 64.0h1.8v1.8h-1.8zM106.2 68.5h1.8v1.8h-1.8zM105.2 76.9h1.8v1.8h-1.8zM129.1 64.3h1.8v1.8h-1.8zM98.0 72.5h1.8v1.8h-1.8zM92.9 72.5h1.8v1.8h-1.8zM110.0 67.1h1.8v1.8h-1.8zM109.6 58.2h1.8v1.8h-1.8zM112.0 58.2h1.8v1.8h-1.8zM96.7 65.1h1.8v1.8h-1.8zM99.8 75.0h1.8v1.8h-1.8zM104.9 66.2h1.8v1.8h-1.8zM109.7 80.1h1.8v1.8h-1.8zM104.1 71.6h1.8v1.8h-1.8zM117.0 70.9h1.8v1.8h-1.8zM90.5 86.4h1.8v1.8h-1.8zM127.2 55.1h1.8v1.8h-1.8zM103.6 71.9h1.8v1.8h-1.8zM114.1 73.7h1.8v1.8h-1.8zM101.1 61.6h1.8v1.8h-1.8zM105.1 76.2h1.8v1.8h-1.8zM92.6 61.8h1.8v1.8h-1.8zM103.7 55.4h1.8v1.8h-1.8zM101.3 65.9h1.8v1.8h-1.8zM108.7 64.1h1.8v1.8h-1.8zM94.7 66.2h1.8v1.8h-1.8zM103.5 64.3h1.8v1.8h-1.8zM104.1 74.3h1.8v1.8h-1.8zM116.4 80.9h1.8v1.8h-1.8zM95.8 66.1h1.8v1.8h-1.8zM77.9 82.3h1.8v1.8h-1.8zM96.4 68.8h1.8v1.8h-1.8zM109.5 59.5h1.8v1.8h-1.8zM108.9 68.8h1.8v1.8h-1.8zM84.8 71.0h1.8v1.8h-1.8zM116.5 55.9h1.8v1.8h-1.8zM112.5 70.5h1.8v1.8h-1.8zM109.0 72.1h1.8v1.8h-1.8zM117.7 67.4h1.8v1.8h-1.8zM113.2 66.1h1.8v1.8h-1.8zM111.6 63.3h1.8v1.8h-1.8zM102.9 81.1h1.8v1.8h-1.8zM108.7 67.9h1.8v1.8h-1.8zM92.0 63.5h1.8v1.8h-1.8zM106.0 75.6h1.8v1.8h-1.8zM108.5 72.7h1.8v1.8h-1.8zM103.6 78.5h1.8v1.8h-1.8zM99.9 65.2h1.8v1.8h-1.8zM113.3 69.4h1.8v1.8h-1.8zM101.1 65.0h1.8v1.8h-1.8zM101.3 73.4h1.8v1.8h-1.8zM107.7 60.5h1.8v1.8h-1.8zM108.5 70.3h1.8v1.8h-1.8zM93.5 74.4h1.8v1.8h-1.8zM101.1 66.7h1.8v1.8h-1.8zM112.4 78.2h1.8v1.8h-1.8zM96.8 72.1h1.8v1.8h-1.8zM94.8 85.2h1.8v1.8h-1.8zM98.8 77.4h1.8v1.8h-1.8zM97.2 74.7h1.8v1.8h-1.8zM127.3 51.2h1.8v1.8h-1.8zM99.4 72.5h1.8v1.8h-1.8zM103.0 64.3h1.8v1.8h-1.8zM126.6 69.6h1.8v1.8h-1.8zM86.7 75.0h1.8v1.8h-1.8zM85.9 77.1h1.8v1.8h-1.8zM97.9 70.0h1.8v1.8h-1.8zM117.2 69.8h1.8v1.8h-1.8zM89.4 57.1h1.8v1.8h-1.8zM116.4 74.2h1.8v1.8h-1.8zM95.4 75.0h1.8v1.8h-1.8zM109.2 73.5h1.8v1.8h-1.8zM80.3 66.9h1.8v1.8h-1.8zM113.5 74.1h1.8v1.8h-1.8zM113.3 51.8h1.8v1.8h-1.8zM105.8 72.4h1.8v1.8h-1.8zM130.8 62.3h1.8v1.8h-1.8zM100.5 69.3h1.8v1.8h-1.8zM113.3 65.9h1.8v1.8h-1.8zM116.0 63.5h1.8v1.8h-1.8zM106.8 65.3h1.8v1.8h-1.8zM105.7 64.2h1.8v1.8h-1.8zM87.2 76.7h1.8v1.8h-1.8zM107.2 65.1h1.8v1.8h-1.8zM106.1 75.9h1.8v1.8h-1.8zM93.7 68.2h1.8v1.8h-1.8zM109.7 72.7h1.8v1.8h-1.8zM100.5 54.3h1.8v1.8h-1.8zM117.1 71.3h1.8v1.8h-1.8zM104.1 67.1h1.8v1.8h-1.8zM106.8 66.0h1.8v1.8h-1.8zM93.2 63.8h1.8v1.8h-1.8zM97.7 64.7h1.8v1.8h-1.8zM91.8 73.5h1.8v1.8h-1.8zM90.2 73.6h1.8v1.8h-1.8zM93.3 71.5h1.8v1.8h-1.8zM118.4 70.4h1.8v1.8h-1.8zM96.3 69.3h1.8v1.8h-1.8zM105.6 56.9h1.8v1.8h-1.8zM97.6 70.1h1.8v1.8h-1.8zM99.1 69.6h1.8v1.8h-1.8zM111.7 74.4h1.8v1.8h-1.8zM113.5 73.1h1.8v1.8h-1.8zM101.0 68.9h1.8v1.8h-1.8zM101.2 66.8h1.8v1.8h-1.8zM102.1 56.9h1.8v1.8h-1.8zM100.5 68.8h1.8v1.8h-1.8zM93.8 68.8h1.8v1.8h-1.8zM109.4 67.8h1.8v1.8h-1.8zM125.8 50.8h1.8v1.8h-1.8zM101.8 56.2h1.8v1.8h-1.8zM114.3 87.6h1.8v1.8h-1.8zM77.7 69.9h1.8v1.8h-1.8zM109.5 66.9h1.8v1.8h-1.8zM109.8 53.3h1.8v1.8h-1.8zM112.9 71.6h1.8v1.8h-1.8zM104.2 64.9h1.8v1.8h-1.8zM110.7 65.6h1.8v1.8h-1.8zM106.3 65.4h1.8v1.8h-1.8zM80.4 68.8h1.8v1.8h-1.8zM106.1 74.3h1.8v1.8h-1.8zM94.8 68.8h1.8v1.8h-1.8zM110.5 70.0h1.8v1.8h-1.8zM117.0 82.9h1.8v1.8h-1.8zM94.5 55.6h1.8v1.8h-1.8zM113.0 79.7h1.8v1.8h-1.8zM113.7 74.7h1.8v1.8h-1.8zM97.5 64.0h1.8v1.8h-1.8zM113.3 62.6h1.8v1.8h-1.8zM85.0 62.0h1.8v1.8h-1.8zM130.2 82.5h1.8v1.8h-1.8zM96.8 63.9h1.8v1.8h-1.8zM106.4 63.8h1.8v1.8h-1.8zM117.8 68.5h1.8v1.8h-1.8zM92.6 78.2h1.8v1.8h-1.8zM97.9 70.5h1.8v1.8h-1.8zM103.9 66.8h1.8v1.8h-1.8zM107.4 64.2h1.8v1.8h-1.8zM84.6 53.5h1.8v1.8h-1.8zM90.7 63.7h1.8v1.8h-1.8zM103.8 69.4h1.8v1.8h-1.8zM109.8 69.8h1.8v1.8h-1.8zM95.7 64.0h1.8v1.8h-1.8zM81.8 67.8h1.8v1.8h-1.8zM109.1 72.7h1.8v1.8h-1.8zM102.7 67.8h1.8v1.8h-1.8zM113.8 69.1h1.8v1.8h-1.8zM111.7 73.1h1.8v1.8h-1.8zM106.2 78.1h1.8v1.8h-1.8zM98.0 66.5h1.8v1.8h-1.8zM95.5 63.4h1.8v1.8h-1.8zM120.3 81.3h1.8v1.8h-1.8zM104.2 73.0h1.8v1.8h-1.8zM116.3 74.7h1.8v1.8h-1.8zM116.7 60.2h1.8v1.8h-1.8zM97.3 72.2h1.8v1.8h-1.8zM119.1 69.7h1.8v1.8h-1.8zM95.0 66.5h1.8v1.8h-1.8zM97.1 63.0h1.8v1.8h-1.8zM119.8 64.6h1.8v1.8h-1.8zM104.2 84.1h1.8v1.8h-1.8zM116.4 71.4h1.8v1.8h-1.8zM97.6 71.9h1.8v1.8h-1.8zM121.0 73.4h1.8v1.8h-1.8zM117.2 69.7h1.8v1.8h-1.8zM109.4 67.6h1.8v1.8h-1.8zM108.5 78.1h1.8v1.8h-1.8zM89.0 68.6h1.8v1.8h-1.8zM106.5 65.0h1.8v1.8h-1.8zM100.8 74.5h1.8v1.8h-1.8zM125.0 73.4h1.8v1.8h-1.8zM107.4 58.1h1.8v1.8h-1.8zM124.2 69.5h1.8v1.8h-1.8zM103.6 61.2h1.8v1.8h-1.8zM103.4 61.3h1.8v1.8h-1.8zM104.7 72.3h1.8v1.8h-1.8zM104.3 71.0h1.8v1.8h-1.8zM95.1 79.0h1.8v1.8h-1.8zM97.1 56.3h1.8v1.8h-1.8zM102.0 63.7h1.8v1.8h-1.8zM93.4 66.5h1.8v1.8h-1.8zM107.1 60.7h1.8v1.8h-1.8zM102.6 79.0h1.8v1.8h-1.8zM111.2 67.9h1.8v1.8h-1.8zM105.3 68.2h1.8v1.8h-1.8zM103.5 74.1h1.8v1.8h-1.8zM103.0 52.2h1.8v1.8h-1.8zM103.8 62.8h1.8v1.8h-1.8zM110.8 64.7h1.8v1.8h-1.8zM105.6 84.2h1.8v1.8h-1.8zM93.0 61.1h1.8v1.8h-1.8zM89.2 52.2h1.8v1.8h-1.8zM84.3 71.6h1.8v1.8h-1.8zM97.3 55.9h1.8v1.8h-1.8zM88.4 73.3h1.8v1.8h-1.8zM95.9 66.4h1.8v1.8h-1.8zM107.5 78.5h1.8v1.8h-1.8zM124.4 76.2h1.8v1.8h-1.8zM105.5 70.3h1.8v1.8h-1.8zM122.9 79.0h1.8v1.8h-1.8zM100.7 72.2h1.8v1.8h-1.8zM107.0 69.4h1.8v1.8h-1.8zM98.7 59.7h1.8v1.8h-1.8zM98.4 58.2h1.8v1.8h-1.8zM116.8 72.8h1.8v1.8h-1.8zM91.3 78.8h1.8v1.8h-1.8zM113.4 55.6h1.8v1.8h-1.8zM123.3 74.7h1.8v1.8h-1.8zM125.7 60.4h1.8v1.8h-1.8zM109.6 72.0h1.8v1.8h-1.8zM106.1 70.2h1.8v1.8h-1.8zM115.1 58.5h1.8v1.8h-1.8zM91.0 59.2h1.8v1.8h-1.8zM98.1 64.8h1.8v1.8h-1.8zM107.9 70.9h1.8v1.8h-1.8zM104.3 64.3h1.8v1.8h-1.8zM99.4 75.7h1.8v1.8h-1.8zM112.0 69.7h1.8v1.8h-1.8zM100.6 79.9h1.8v1.8h-1.8zM97.8 73.5h1.8v1.8h-1.8zM116.1 67.1h1.8v1.8h-1.8zM112.7 61.2h1.8v1.8h-1.8zM114.6 70.4h1.8v1.8h-1.8zM87.3 73.7h1.8v1.8h-1.8zM94.6 78.0h1.8v1.8h-1.8zM96.9 67.8h1.8v1.8h-1.8zM107.0 66.7h1.8v1.8h-1.8zM106.7 65.1h1.8v1.8h-1.8zM111.1 69.0h1.8v1.8h-1.8zM116.2 69.2h1.8v1.8h-1.8zM85.3 69.7h1.8v1.8h-1.8zM108.9 76.5h1.8v1.8h-1.8zM92.6 79.8h1.8v1.8h-1.8zM102.3 85.8h1.8v1.8h-1.8zM102.5 73.8h1.8v1.8h-1.8zM100.2 61.2h1.8v1.8h-1.8zM115.5 75.3h1.8v1.8h-1.8zM120.2 75.0h1.8v1.8h-1.8zM98.0 57.4h1.8v1.8h-1.8zM97.2 64.3h1.8v1.8h-1.8zM95.4 73.1h1.8v1.8h-1.8zM107.4 67.1h1.8v1.8h-1.8zM105.8 68.0h1.8v1.8h-1.8zM106.2 74.3h1.8v1.8h-1.8zM114.1 64.2h1.8v1.8h-1.8zM88.2 79.0h1.8v1.8h-1.8zM105.2 76.7h1.8v1.8h-1.8zM86.7 66.7h1.8v1.8h-1.8zM104.3 58.9h1.8v1.8h-1.8zM98.6 74.1h1.8v1.8h-1.8zM115.3 80.2h1.8v1.8h-1.8zM94.9 59.2h1.8v1.8h-1.8zM109.5 75.6h1.8v1.8h-1.8zM106.0 59.9h1.8v1.8h-1.8zM112.2 74.5h1.8v1.8h-1.8zM109.8 65.6h1.8v1.8h-1.8zM107.2 74.5h1.8v1.8h-1.8zM98.1 56.1h1.8v1.8h-1.8zM107.5 72.4h1.8v1.8h-1.8zM104.1 75.2h1.8v1.8h-1.8zM97.8 68.4h1.8v1.8h-1.8zM100.8 73.0h1.8v1.8h-1.8zM120.8 67.2h1.8v1.8h-1.8zM125.6 79.7h1.8v1.8h-1.8zM112.3 73.1h1.8v1.8h-1.8zM122.6 67.7h1.8v1.8h-1.8zM102.8 61.6h1.8v1.8h-1.8zM109.0 78.4h1.8v1.8h-1.8zM109.6 72.0h1.8v1.8h-1.8zM101.9 70.2h1.8v1.8h-1.8zM89.0 76.3h1.8v1.8h-1.8zM99.7 61.3h1.8v1.8h-1.8zM96.1 63.2h1.8v1.8h-1.8zM113.0 76.4h1.8v1.8h-1.8zM89.7 75.5h1.8v1.8h-1.8zM113.3 64.9h1.8v1.8h-1.8zM88.4 63.8h1.8v1.8h-1.8zM97.3 71.4h1.8v1.8h-1.8zM100.2 54.8h1.8v1.8h-1.8zM106.5 58.3h1.8v1.8h-1.8zM113.5 60.6h1.8v1.8h-1.8zM96.7 63.0h1.8v1.8h-1.8zM98.3 78.1h1.8v1.8h-1.8zM112.9 73.2h1.8v1.8h-1.8zM107.4 58.2h1.8v1.8h-1.8zM98.5 65.1h1.8v1.8h-1.8zM93.7 72.6h1.8v1.8h-1.8zM96.2 64.0h1.8v1.8h-1.8zM93.0 54.6h1.8v1.8h-1.8zM110.3 78.3h1.8v1.8h-1.8zM105.8 62.2h1.8v1.8h-1.8zM116.8 71.1h1.8v1.8h-1.8zM113.7 79.3h1.8v1.8h-1.8zM115.8 65.9h1.8v1.8h-1.8zM115.1 74.4h1.8v1.8h-1.8zM87.9 66.2h1.8v1.8h-1.8zM89.0 68.2h1.8v1.8h-1.8zM110.1 61.5h1.8v1.8h-1.8zM82.4 78.1h1.8v1.8h-1.8zM108.0 79.3h1.8v1.8h-1.8zM90.1 76.4h1.8v1.8h-1.8zM125.8 83.0h1.8v1.8h-1.8zM101.8 70.9h1.8v1.8h-1.8zM102.4 76.0h1.8v1.8h-1.8zM114.9 69.6h1.8v1.8h-1.8zM89.7 74.2h1.8v1.8h-1.8zM99.1 73.4h1.8v1.8h-1.8zM106.8 80.4h1.8v1.8h-1.8zM115.9 65.8h1.8v1.8h-1.8zM107.7 81.3h1.8v1.8h-1.8zM98.4 72.0h1.8v1.8h-1.8zM116.5 77.8h1.8v1.8h-1.8zM109.4 59.8h1.8v1.8h-1.8zM90.8 70.7h1.8v1.8h-1.8zM108.1 86.8h1.8v1.8h-1.8zM95.0 77.0h1.8v1.8h-1.8zM112.1 57.3h1.8v1.8h-1.8zM95.4 70.2h1.8v1.8h-1.8zM98.8 67.9h1.8v1.8h-1.8zM108.9 63.3h1.8v1.8h-1.8zM108.9 64.5h1.8v1.8h-1.8zM98.3 72.8h1.8v1.8h-1.8zM98.0 71.0h1.8v1.8h-1.8zM120.8 69.2h1.8v1.8h-1.8zM102.5 74.1h1.8v1.8h-1.8zM100.2 76.6h1.8v1.8h-1.8zM90.5 73.3h1.8v1.8h-1.8zM98.6 63.4h1.8v1.8h-1.8zM122.6 63.0h1.8v1.8h-1.8zM122.4 73.6h1.8v1.8h-1.8zM119.3 62.2h1.8v1.8h-1.8zM116.6 79.2h1.8v1.8h-1.8zM102.8 68.1h1.8v1.8h-1.8zM129.8 70.2h1.8v1.8h-1.8zM99.6 64.6h1.8v1.8h-1.8zM108.7 71.3h1.8v1.8h-1.8zM105.9 81.1h1.8v1.8h-1.8zM100.6 72.3h1.8v1.8h-1.8zM119.3 62.0h1.8v1.8h-1.8zM114.9 81.8h1.8v1.8h-1.8zM89.8 61.3h1.8v1.8h-1.8zM93.1 56.1h1.8v1.8h-1.8zM108.8 56.0h1.8v1.8h-1.8zM109.2 79.2h1.8v1.8h-1.8zM87.0 66.8h1.8v1.8h-1.8zM83.9 74.5h1.8v1.8h-1.8zM96.3 67.1h1.8v1.8h-1.8zM104.6 72.8h1.8v1.8h-1.8zM100.4 69.1h1.8v1.8h-1.8zM98.3 69.8h1.8v1.8h-1.8zM91.7 69.4h1.8v1.8h-1.8zM83.7 65.6h1.8v1.8h-1.8zM124.1 69.6h1.8v1.8h-1.8zM90.8 70.8h1.8v1.8h-1.8zM93.8 57.4h1.8v1.8h-1.8zM96.3 74.2h1.8v1.8h-1.8zM108.0 68.3h1.8v1.8h-1.8zM94.3 61.4h1.8v1.8h-1.8zM118.2 70.7h1.8v1.8h-1.8zM94.0 54.2h1.8v1.8h-1.8zM89.6 86.3h1.8v1.8h-1.8zM91.9 68.5h1.8v1.8h-1.8zM106.2 67.9h1.8v1.8h-1.8zM101.1 59.4h1.8v1.8h-1.8zM93.0 80.8h1.8v1.8h-1.8zM96.1 74.9h1.8v1.8h-1.8zM86.2 67.1h1.8v1.8h-1.8zM106.7 76.3h1.8v1.8h-1.8zM92.2 73.2h1.8v1.8h-1.8zM108.1 63.8h1.8v1.8h-1.8zM109.0 62.7h1.8v1.8h-1.8zM95.6 68.9h1.8v1.8h-1.8zM93.5 58.8h1.8v1.8h-1.8zM99.5 74.3h1.8v1.8h-1.8zM99.8 77.9h1.8v1.8h-1.8zM91.8 59.8h1.8v1.8h-1.8zM120.3 71.8h1.8v1.8h-1.8zM113.9 63.2h1.8v1.8h-1.8zM112.4 70.8h1.8v1.8h-1.8zM110.8 69.2h1.8v1.8h-1.8zM116.7 64.5h1.8v1.8h-1.8zM93.9 58.7h1.8v1.8h-1.8zM116.2 63.8h1.8v1.8h-1.8zM93.0 62.4h1.8v1.8h-1.8zM99.3 60.1h1.8v1.8h-1.8zM101.0 64.6h1.8v1.8h-1.8zM98.2 62.3h1.8v1.8h-1.8zM104.4 65.8h1.8v1.8h-1.8zM105.2 70.7h1.8v1.8h-1.8zM107.6 53.7h1.8v1.8h-1.8zM98.4 63.4h1.8v1.8h-1.8zM112.1 58.0h1.8v1.8h-1.8zM96.5 66.9h1.8v1.8h-1.8zM100.5 75.9h1.8v1.8h-1.8zM99.4 75.8h1.8v1.8h-1.8zM88.6 56.3h1.8v1.8h-1.8zM116.8 72.0h1.8v1.8h-1.8zM109.1 69.9h1.8v1.8h-1.8zM109.1 60.5h1.8v1.8h-1.8zM114.0 65.3h1.8v1.8h-1.8zM114.3 69.6h1.8v1.8h-1.8zM83.3 60.0h1.8v1.8h-1.8zM115.8 68.0h1.8v1.8h-1.8zM99.8 70.7h1.8v1.8h-1.8zM99.5 65.2h1.8v1.8h-1.8zM105.1 70.0h1.8v1.8h-1.8zM119.9 69.3h1.8v1.8h-1.8zM123.7 81.6h1.8v1.8h-1.8zM122.0 76.4h1.8v1.8h-1.8zM105.4 70.0h1.8v1.8h-1.8zM102.5 63.9h1.8v1.8h-1.8zM103.3 64.5h1.8v1.8h-1.8zM121.2 72.7h1.8v1.8h-1.8zM99.3 55.6h1.8v1.8h-1.8zM103.4 66.1h1.8v1.8h-1.8zM92.6 61.0h1.8v1.8h-1.8zM80.4 73.0h1.8v1.8h-1.8zM103.3 87.1h1.8v1.8h-1.8zM103.7 68.0h1.8v1.8h-1.8zM119.2 69.9h1.8v1.8h-1.8zM105.8 66.4h1.8v1.8h-1.8zM97.6 79.5h1.8v1.8h-1.8zM114.5 81.0h1.8v1.8h-1.8zM100.3 69.2h1.8v1.8h-1.8zM94.8 75.8h1.8v1.8h-1.8zM89.4 73.0h1.8v1.8h-1.8zM115.5 78.9h1.8v1.8h-1.8zM94.1 76.6h1.8v1.8h-1.8zM96.5 63.7h1.8v1.8h-1.8zM90.1 77.1h1.8v1.8h-1.8zM121.3 64.8h1.8v1.8h-1.8zM96.0 66.6h1.8v1.8h-1.8zM130.3 76.0h1.8v1.8h-1.8zM98.3 56.4h1.8v1.8h-1.8zM92.9 80.7h1.8v1.8h-1.8zM92.6 65.4h1.8v1.8h-1.8zM86.7 79.6h1.8v1.8h-1.8zM77.4 58.6h1.8v1.8h-1.8zM107.3 63.1h1.8v1.8h-1.8zM114.7 70.1h1.8v1.8h-1.8zM85.4 75.6h1.8v1.8h-1.8zM115.6 52.8h1.8v1.8h-1.8zM130.4 74.5h1.8v1.8h-1.8zM114.4 53.3h1.8v1.8h-1.8zM92.2 66.9h1.8v1.8h-1.8zM119.2 56.9h1.8v1.8h-1.8zM89.7 51.7h1.8v1.8h-1.8zM99.4 73.1h1.8v1.8h-1.8zM77.7 64.7h1.8v1.8h-1.8zM110.7 84.3h1.8v1.8h-1.8zM113.0 67.3h1.8v1.8h-1.8zM85.3 61.6h1.8v1.8h-1.8zM93.0 71.3h1.8v1.8h-1.8zM102.3 85.0h1.8v1.8h-1.8zM107.3 60.4h1.8v1.8h-1.8zM126.2 78.5h1.8v1.8h-1.8zM104.5 63.5h1.8v1.8h-1.8zM116.7 62.8h1.8v1.8h-1.8zM83.2 71.8h1.8v1.8h-1.8zM106.7 75.5h1.8v1.8h-1.8zM112.8 82.7h1.8v1.8h-1.8zM90.4 78.8h1.8v1.8h-1.8zM88.2 76.2h1.8v1.8h-1.8zM105.7 72.2h1.8v1.8h-1.8zM117.5 69.8h1.8v1.8h-1.8zM119.7 77.9h1.8v1.8h-1.8zM105.0 64.9h1.8v1.8h-1.8zM91.7 65.3h1.8v1.8h-1.8zM100.0 69.8h1.8v1.8h-1.8zM114.5 62.3h1.8v1.8h-1.8zM92.3 67.1h1.8v1.8h-1.8zM105.9 60.7h1.8v1.8h-1.8zM127.2 64.9h1.8v1.8h-1.8zM102.9 72.5h1.8v1.8h-1.8zM105.9 75.4h1.8v1.8h-1.8zM107.2 71.5h1.8v1.8h-1.8zM107.6 68.2h1.8v1.8h-1.8zM90.7 64.8h1.8v1.8h-1.8zM130.7 85.6h1.8v1.8h-1.8zM102.1 81.6h1.8v1.8h-1.8zM79.2 52.6h1.8v1.8h-1.8zM95.8 62.1h1.8v1.8h-1.8zM94.6 71.7h1.8v1.8h-1.8zM103.7 72.5h1.8v1.8h-1.8zM102.5 78.4h1.8v1.8h-1.8zM129.6 58.8h1.8v1.8h-1.8zM105.4 67.6h1.8v1.8h-1.8zM108.3 56.2h1.8v1.8h-1.8zM110.9 71.7h1.8v1.8h-1.8zM97.4 63.2h1.8v1.8h-1.8zM81.8 61.8h1.8v1.8h-1.8zM113.5 74.9h1.8v1.8h-1.8zM102.7 74.6h1.8v1.8h-1.8zM93.9 70.6h1.8v1.8h-1.8zM103.6 75.0h1.8v1.8h-1.8zM102.0 68.7h1.8v1.8h-1.8zM101.0 64.2h1.8v1.8h-1.8zM109.4 90.6h1.8v1.8h-1.8zM124.0 56.0h1.8v1.8h-1.8zM113.4 77.5h1.8v1.8h-1.8zM114.6 59.4h1.8v1.8h-1.8zM89.9 72.4h1.8v1.8h-1.8zM110.6 60.8h1.8v1.8h-1.8zM97.2 66.4h1.8v1.8h-1.8zM103.9 73.0h1.8v1.8h-1.8zM98.7 58.9h1.8v1.8h-1.8zM121.6 84.4h1.8v1.8h-1.8zM101.4 79.2h1.8v1.8h-1.8zM109.7 75.9h1.8v1.8h-1.8zM110.2 63.1h1.8v1.8h-1.8zM111.6 79.1h1.8v1.8h-1.8zM89.6 87.7h1.8v1.8h-1.8zM97.9 64.6h1.8v1.8h-1.8zM90.8 71.0h1.8v1.8h-1.8zM102.5 76.0h1.8v1.8h-1.8zM113.1 74.3h1.8v1.8h-1.8zM107.1 68.1h1.8v1.8h-1.8zM101.2 62.6h1.8v1.8h-1.8zM105.7 69.8h1.8v1.8h-1.8zM107.8 62.3h1.8v1.8h-1.8zM103.6 70.4h1.8v1.8h-1.8zM112.1 60.4h1.8v1.8h-1.8zM109.3 78.8h1.8v1.8h-1.8zM112.0 66.7h1.8v1.8h-1.8zM95.6 67.9h1.8v1.8h-1.8zM113.9 84.0h1.8v1.8h-1.8zM100.6 64.2h1.8v1.8h-1.8zM108.6 71.8h1.8v1.8h-1.8zM89.4 63.4h1.8v1.8h-1.8zM101.5 76.0h1.8v1.8h-1.8zM85.1 60.8h1.8v1.8h-1.8zM110.5 59.0h1.8v1.8h-1.8zM104.6 73.2h1.8v1.8h-1.8zM101.3 60.8h1.8v1.8h-1.8zM102.1 67.0h1.8v1.8h-1.8zM108.0 62.5h1.8v1.8h-1.8zM119.4 54.9h1.8v1.8h-1.8zM100.4 70.1h1.8v1.8h-1.8zM117.4 64.5h1.8v1.8h-1.8zM111.2 64.9h1.8v1.8h-1.8zM114.1 85.6h1.8v1.8h-1.8zM97.0 74.0h1.8v1.8h-1.8zM89.1 78.8h1.8v1.8h-1.8zM121.2 70.3h1.8v1.8h-1.8zM86.0 73.6h1.8v1.8h-1.8zM120.2 79.8h1.8v1.8h-1.8zM115.2 53.5h1.8v1.8h-1.8zM92.8 82.8h1.8v1.8h-1.8zM84.6 80.2h1.8v1.8h-1.8zM119.8 67.0h1.8v1.8h-1.8zM84.6 69.1h1.8v1.8h-1.8zM100.0 69.6h1.8v1.8h-1.8zM113.5 68.7h1.8v1.8h-1.8zM105.9 73.8h1.8v1.8h-1.8zM102.9 86.6h1.8v1.8h-1.8zM109.6 70.8h1.8v1.8h-1.8zM99.9 64.4h1.8v1.8h-1.8zM123.2 71.4h1.8v1.8h-1.8zM86.8 64.9h1.8v1.8h-1.8zM101.0 66.0h1.8v1.8h-1.8zM119.3 59.5h1.8v1.8h-1.8zM110.4 71.3h1.8v1.8h-1.8zM85.3 70.4h1.8v1.8h-1.8zM101.6 74.5h1.8v1.8h-1.8zM96.2 72.7h1.8v1.8h-1.8zM78.0 60.2h1.8v1.8h-1.8zM114.8 79.4h1.8v1.8h-1.8zM102.8 64.6h1.8v1.8h-1.8zM119.2 51.2h1.8v1.8h-1.8zM91.0 76.0h1.8v1.8h-1.8zM112.8 60.7h1.8v1.8h-1.8zM105.3 61.9h1.8v1.8h-1.8zM103.8 78.1h1.8v1.8h-1.8zM114.1 51.3h1.8v1.8h-1.8zM114.6 54.0h1.8v1.8h-1.8zM120.1 73.6h1.8v1.8h-1.8zM103.1 79.4h1.8v1.8h-1.8zM93.4 63.7h1.8v1.8h-1.8zM97.4 69.3h1.8v1.8h-1.8zM86.8 74.4h1.8v1.8h-1.8zM111.1 70.6h1.8v1.8h-1.8zM128.5 67.1h1.8v1.8h-1.8zM122.6 65.1h1.8v1.8h-1.8zM114.3 52.6h1.8v1.8h-1.8zM106.0 68.4h1.8v1.8h-1.8zM95.6 64.5h1.8v1.8h-1.8zM97.8 63.5h1.8v1.8h-1.8zM94.8 65.3h1.8v1.8h-1.8zM87.1 68.8h1.8v1.8h-1.8zM114.8 67.7h1.8v1.8h-1.8zM95.6 82.2h1.8v1.8h-1.8zM117.7 78.3h1.8v1.8h-1.8zM120.3 67.1h1.8v1.8h-1.8zM101.1 80.0h1.8v1.8h-1.8zM94.7 68.9h1.8v1.8h-1.8zM108.7 73.4h1.8v1.8h-1.8zM98.9 78.9h1.8v1.8h-1.8zM100.3 76.5h1.8v1.8h-1.8zM119.1 75.9h1.8v1.8h-1.8zM114.0 59.6h1.8v1.8h-1.8zM83.3 64.4h1.8v1.8h-1.8zM110.1 83.5h1.8v1.8h-1.8zM84.7 72.8h1.8v1.8h-1.8zM90.2 63.4h1.8v1.8h-1.8zM98.9 76.2h1.8v1.8h-1.8zM106.2 80.6h1.8v1.8h-1.8zM88.2 78.0h1.8v1.8h-1.8zM117.0 70.6h1.8v1.8h-1.8zM110.2 64.9h1.8v1.8h-1.8zM86.7 66.4h1.8v1.8h-1.8zM95.7 84.9h1.8v1.8h-1.8zM106.0 72.8h1.8v1.8h-1.8zM114.2 63.0h1.8v1.8h-1.8zM116.7 73.4h1.8v1.8h-1.8zM80.3 75.4h1.8v1.8h-1.8zM111.3 74.1h1.8v1.8h-1.8zM126.8 66.3h1.8v1.8h-1.8zM110.7 76.7h1.8v1.8h-1.8zM89.5 80.8h1.8v1.8h-1.8zM81.2 58.3h1.8v1.8h-1.8zM110.8 60.2h1.8v1.8h-1.8zM101.3 55.2h1.8v1.8h-1.8zM104.0 59.8h1.8v1.8h-1.8zM108.1 56.2h1.8v1.8h-1.8zM109.7 67.6h1.8v1.8h-1.8zM104.0 69.4h1.8v1.8h-1.8zM105.0 58.1h1.8v1.8h-1.8zM89.0 65.9h1.8v1.8h-1.8zM109.4 52.1h1.8v1.8h-1.8zM91.6 64.5h1.8v1.8h-1.8zM87.1 72.9h1.8v1.8h-1.8zM100.9 62.6h1.8v1.8h-1.8zM88.2 77.3h1.8v1.8h-1.8zM93.1 75.3h1.8v1.8h-1.8zM58.0 56.5h1.8v1.8h-1.8zM59.0 58.7h1.8v1.8h-1.8zM55.1 60.4h1.8v1.8h-1.8zM57.0 64.7h1.8v1.8h-1.8zM57.5 67.8h1.8v1.8h-1.8zM56.5 71.3h1.8v1.8h-1.8zM58.0 75.7h1.8v1.8h-1.8zM58.5 76.7h1.8v1.8h-1.8zM62.0 64.7h1.8v1.8h-1.8zM63.7 64.7h1.8v1.8h-1.8zM64.4 60.4h1.8v1.8h-1.8zM65.9 59.4h1.8v1.8h-1.8zM66.9 60.9h1.8v1.8h-1.8zM67.7 64.7h1.8v1.8h-1.8zM62.0 67.8h1.8v1.8h-1.8zM64.4 71.8h1.8v1.8h-1.8zM64.4 74.7h1.8v1.8h-1.8zM65.9 66.8h1.8v1.8h-1.8zM69.9 73.7h1.8v1.8h-1.8zM71.3 77.2h1.8v1.8h-1.8zM70.3 76.7h1.8v1.8h-1.8zM72.3 60.9h1.8v1.8h-1.8zM73.3 57.0h1.8v1.8h-1.8zM74.8 62.4h1.8v1.8h-1.8zM74.3 65.8h1.8v1.8h-1.8zM71.8 71.3h1.8v1.8h-1.8zM73.3 73.2h1.8v1.8h-1.8zM75.8 72.2h1.8v1.8h-1.8zM76.8 57.0h1.8v1.8h-1.8zM79.7 56.0h1.8v1.8h-1.8zM132.5 58.7h1.8v1.8h-1.8zM138.4 61.7h1.8v1.8h-1.8zM131.0 65.3h1.8v1.8h-1.8zM132.0 65.8h1.8v1.8h-1.8zM135.9 67.3h1.8v1.8h-1.8zM138.4 67.3h1.8v1.8h-1.8zM143.3 68.3h1.8v1.8h-1.8zM144.3 67.8h1.8v1.8h-1.8zM146.7 68.3h1.8v1.8h-1.8zM133.9 70.3h1.8v1.8h-1.8zM137.9 73.2h1.8v1.8h-1.8zM142.8 73.2h1.8v1.8h-1.8zM144.3 73.5h1.8v1.8h-1.8zM151.7 72.5h1.8v1.8h-1.8zM133.9 75.2h1.8v1.8h-1.8zM137.9 77.1h1.8v1.8h-1.8zM140.3 77.1h1.8v1.8h-1.8zM140.8 79.6h1.8v1.8h-1.8zM148.2 80.6h1.8v1.8h-1.8zM153.1 78.6h1.8v1.8h-1.8zM136.9 84.0h1.8v1.8h-1.8zM143.3 83.8h1.8v1.8h-1.8zM141.3 85.5h1.8v1.8h-1.8zM138.4 87.5h1.8v1.8h-1.8zM136.4 89.5h1.8v1.8h-1.8zM147.2 89.5h1.8v1.8h-1.8zM153.1 86.3h1.8v1.8h-1.8zM160.0 83.8h1.8v1.8h-1.8zM166.0 64.8h1.8v1.8h-1.8zM166.0 71.5h1.8v1.8h-1.8zM130.5 76.7h1.8v1.8h-1.8zM131.0 78.6h1.8v1.8h-1.8zM127.5 75.7h1.8v1.8h-1.8zM128.0 81.6h1.8v1.8h-1.8zM125.1 86.0h1.8v1.8h-1.8zM128.5 89.0h1.8v1.8h-1.8zM129.5 90.9h1.8v1.8h-1.8z" fill="#000"/>
<path d="M398.1 53.5h1.8v1.8h-1.8zM385.8 69.0h1.8v1.8h-1.8zM397.2 75.4h1.8v1.8h-1.8zM400.9 77.5h1.8v1.8h-1.8zM391.5 67.3h1.8v1.8h-1.8zM400.7 65.5h1.8v1.8h-1.8zM403.0 56.0h1.8v1.8h-1.8zM399.7 67.6h1.8v1.8h-1.8zM378.8 77.0h1.8v1.8h-1.8zM397.0 69.2h1.8v1.8h-1.8zM385.9 65.2h1.8v1.8h-1.8zM406.6 62.2h1.8v1.8h-1.8zM384.9 67.9h1.8v1.8h-1.8zM391.4 61.5h1.8v1.8h-1.8zM387.8 77.6h1.8v1.8h-1.8zM383.0 85.0h1.8v1.8h-1.8zM390.1 60.0h1.8v1.8h-1.8zM400.8 73.6h1.8v1.8h-1.8zM386.2 75.1h1.8v1.8h-1.8zM379.8 61.4h1.8v1.8h-1.8zM403.5 66.9h1.8v1.8h-1.8zM384.1 73.2h1.8v1.8h-1.8zM401.8 68.8h1.8v1.8h-1.8zM380.0 66.2h1.8v1.8h-1.8zM397.8 75.3h1.8v1.8h-1.8zM409.3 66.9h1.8v1.8h-1.8zM390.6 68.7h1.8v1.8h-1.8zM404.1 61.3h1.8v1.8h-1.8zM404.9 46.5h1.8v1.8h-1.8zM400.9 63.5h1.8v1.8h-1.8zM398.2 74.6h1.8v1.8h-1.8zM385.0 68.3h1.8v1.8h-1.8zM396.4 73.8h1.8v1.8h-1.8zM387.1 60.9h1.8v1.8h-1.8zM379.1 89.8h1.8v1.8h-1.8zM393.0 67.2h1.8v1.8h-1.8zM382.5 76.6h1.8v1.8h-1.8zM390.2 80.8h1.8v1.8h-1.8zM401.3 69.2h1.8v1.8h-1.8zM400.3 59.9h1.8v1.8h-1.8zM391.9 64.3h1.8v1.8h-1.8zM384.3 69.1h1.8v1.8h-1.8zM393.3 80.8h1.8v1.8h-1.8zM387.2 65.2h1.8v1.8h-1.8zM397.9 72.3h1.8v1.8h-1.8zM394.7 65.1h1.8v1.8h-1.8zM398.5 72.0h1.8v1.8h-1.8zM379.8 66.8h1.8v1.8h-1.8zM383.5 59.3h1.8v1.8h-1.8zM395.7 69.5h1.8v1.8h-1.8zM395.4 61.8h1.8v1.8h-1.8zM392.9 61.5h1.8v1.8h-1.8zM397.6 74.6h1.8v1.8h-1.8zM408.5 79.4h1.8v1.8h-1.8zM388.1 65.2h1.8v1.8h-1.8zM387.0 71.5h1.8v1.8h-1.8zM410.3 74.8h1.8v1.8h-1.8zM376.9 58.7h1.8v1.8h-1.8zM384.2 73.2h1.8v1.8h-1.8zM394.5 71.5h1.8v1.8h-1.8zM408.8 62.2h1.8v1.8h-1.8zM387.7 85.1h1.8v1.8h-1.8zM397.2 62.6h1.8v1.8h-1.8zM378.3 56.5h1.8v1.8h-1.8zM394.9 77.1h1.8v1.8h-1.8zM393.4 63.3h1.8v1.8h-1.8zM388.6 84.6h1.8v1.8h-1.8zM380.4 70.4h1.8v1.8h-1.8zM394.7 74.1h1.8v1.8h-1.8zM391.3 73.1h1.8v1.8h-1.8zM401.0 67.8h1.8v1.8h-1.8zM390.8 67.5h1.8v1.8h-1.8zM386.8 67.3h1.8v1.8h-1.8zM392.1 70.7h1.8v1.8h-1.8zM405.2 79.7h1.8v1.8h-1.8zM390.9 73.9h1.8v1.8h-1.8zM396.9 75.2h1.8v1.8h-1.8zM394.7 71.2h1.8v1.8h-1.8zM390.7 62.6h1.8v1.8h-1.8zM401.5 79.7h1.8v1.8h-1.8zM399.8 72.6h1.8v1.8h-1.8zM396.6 65.3h1.8v1.8h-1.8zM380.2 74.4h1.8v1.8h-1.8zM396.1 64.5h1.8v1.8h-1.8zM386.8 79.5h1.8v1.8h-1.8zM380.1 83.4h1.8v1.8h-1.8zM399.6 88.4h1.8v1.8h-1.8zM388.8 68.8h1.8v1.8h-1.8zM390.4 70.3h1.8v1.8h-1.8zM392.8 62.9h1.8v1.8h-1.8zM403.1 62.6h1.8v1.8h-1.8zM390.4 73.5h1.8v1.8h-1.8zM390.2 65.4h1.8v1.8h-1.8zM397.3 66.0h1.8v1.8h-1.8zM384.5 68.2h1.8v1.8h-1.8zM392.7 83.0h1.8v1.8h-1.8zM385.7 76.9h1.8v1.8h-1.8zM388.2 66.1h1.8v1.8h-1.8zM391.9 71.2h1.8v1.8h-1.8zM401.4 83.3h1.8v1.8h-1.8zM389.4 79.9h1.8v1.8h-1.8zM402.5 75.7h1.8v1.8h-1.8zM388.4 76.4h1.8v1.8h-1.8zM393.6 71.9h1.8v1.8h-1.8zM392.3 74.4h1.8v1.8h-1.8zM403.4 78.3h1.8v1.8h-1.8zM392.9 77.2h1.8v1.8h-1.8zM406.1 61.3h1.8v1.8h-1.8zM406.3 58.1h1.8v1.8h-1.8zM398.8 73.9h1.8v1.8h-1.8zM406.4 71.3h1.8v1.8h-1.8zM390.7 62.5h1.8v1.8h-1.8zM384.5 75.3h1.8v1.8h-1.8zM392.6 63.1h1.8v1.8h-1.8zM398.8 62.7h1.8v1.8h-1.8zM391.0 65.2h1.8v1.8h-1.8zM407.7 81.0h1.8v1.8h-1.8zM393.2 56.1h1.8v1.8h-1.8zM396.7 69.6h1.8v1.8h-1.8zM397.3 73.6h1.8v1.8h-1.8zM391.9 76.6h1.8v1.8h-1.8zM401.2 70.7h1.8v1.8h-1.8zM391.2 65.1h1.8v1.8h-1.8zM400.0 60.0h1.8v1.8h-1.8zM393.2 62.9h1.8v1.8h-1.8zM383.4 74.0h1.8v1.8h-1.8zM394.3 69.3h1.8v1.8h-1.8zM401.5 56.7h1.8v1.8h-1.8zM394.0 71.4h1.8v1.8h-1.8zM401.2 60.1h1.8v1.8h-1.8zM400.2 70.8h1.8v1.8h-1.8zM405.3 78.3h1.8v1.8h-1.8zM398.9 86.6h1.8v1.8h-1.8zM394.5 65.5h1.8v1.8h-1.8zM391.8 61.3h1.8v1.8h-1.8zM394.3 53.6h1.8v1.8h-1.8zM393.8 72.5h1.8v1.8h-1.8zM402.4 66.2h1.8v1.8h-1.8zM405.6 63.7h1.8v1.8h-1.8zM393.4 53.6h1.8v1.8h-1.8zM388.4 62.5h1.8v1.8h-1.8zM406.2 73.2h1.8v1.8h-1.8zM385.9 73.3h1.8v1.8h-1.8zM398.3 67.1h1.8v1.8h-1.8zM394.7 66.6h1.8v1.8h-1.8zM390.3 54.8h1.8v1.8h-1.8zM393.8 79.3h1.8v1.8h-1.8zM405.7 66.8h1.8v1.8h-1.8zM388.7 67.3h1.8v1.8h-1.8zM401.5 71.8h1.8v1.8h-1.8zM389.9 71.9h1.8v1.8h-1.8zM392.9 73.1h1.8v1.8h-1.8zM391.3 57.2h1.8v1.8h-1.8zM395.0 75.1h1.8v1.8h-1.8zM385.9 68.1h1.8v1.8h-1.8zM401.3 66.0h1.8v1.8h-1.8zM389.4 85.2h1.8v1.8h-1.8zM401.0 77.2h1.8v1.8h-1.8zM387.1 82.0h1.8v1.8h-1.8zM381.6 64.9h1.8v1.8h-1.8zM400.3 79.6h1.8v1.8h-1.8zM387.3 63.7h1.8v1.8h-1.8zM396.0 53.6h1.8v1.8h-1.8zM399.5 73.5h1.8v1.8h-1.8zM391.0 73.3h1.8v1.8h-1.8zM400.5 71.5h1.8v1.8h-1.8zM398.6 81.1h1.8v1.8h-1.8zM390.8 70.3h1.8v1.8h-1.8zM390.4 77.2h1.8v1.8h-1.8zM391.3 72.8h1.8v1.8h-1.8zM395.6 69.5h1.8v1.8h-1.8zM407.8 68.3h1.8v1.8h-1.8zM405.5 75.6h1.8v1.8h-1.8zM404.7 67.7h1.8v1.8h-1.8zM401.7 75.0h1.8v1.8h-1.8zM389.7 71.1h1.8v1.8h-1.8zM393.5 68.7h1.8v1.8h-1.8zM404.6 63.3h1.8v1.8h-1.8zM381.5 55.2h1.8v1.8h-1.8zM391.0 63.9h1.8v1.8h-1.8zM394.6 73.5h1.8v1.8h-1.8zM408.1 71.4h1.8v1.8h-1.8zM398.1 63.2h1.8v1.8h-1.8zM399.0 79.8h1.8v1.8h-1.8zM404.8 53.5h1.8v1.8h-1.8zM401.4 81.5h1.8v1.8h-1.8zM400.9 57.2h1.8v1.8h-1.8zM392.1 73.6h1.8v1.8h-1.8zM397.7 62.6h1.8v1.8h-1.8zM387.6 76.6h1.8v1.8h-1.8zM384.2 80.3h1.8v1.8h-1.8zM394.7 71.4h1.8v1.8h-1.8zM384.2 64.3h1.8v1.8h-1.8zM399.8 57.4h1.8v1.8h-1.8zM410.4 57.9h1.8v1.8h-1.8zM385.1 69.3h1.8v1.8h-1.8zM398.2 74.8h1.8v1.8h-1.8zM391.6 67.4h1.8v1.8h-1.8zM392.7 64.5h1.8v1.8h-1.8zM396.4 70.3h1.8v1.8h-1.8zM389.7 71.0h1.8v1.8h-1.8zM394.4 68.4h1.8v1.8h-1.8zM403.0 55.4h1.8v1.8h-1.8zM396.4 60.6h1.8v1.8h-1.8zM392.1 80.8h1.8v1.8h-1.8zM386.2 68.2h1.8v1.8h-1.8zM390.0 76.5h1.8v1.8h-1.8zM387.0 55.7h1.8v1.8h-1.8zM398.4 66.2h1.8v1.8h-1.8zM392.0 77.5h1.8v1.8h-1.8zM387.7 66.1h1.8v1.8h-1.8zM395.6 72.3h1.8v1.8h-1.8zM390.5 77.2h1.8v1.8h-1.8zM411.7 65.8h1.8v1.8h-1.8zM408.9 52.4h1.8v1.8h-1.8zM405.3 66.3h1.8v1.8h-1.8zM395.6 66.3h1.8v1.8h-1.8zM389.6 58.9h1.8v1.8h-1.8zM391.5 79.2h1.8v1.8h-1.8zM403.3 66.3h1.8v1.8h-1.8zM390.4 63.5h1.8v1.8h-1.8zM385.3 83.2h1.8v1.8h-1.8zM399.6 69.9h1.8v1.8h-1.8zM390.7 61.0h1.8v1.8h-1.8zM404.6 75.1h1.8v1.8h-1.8zM387.2 76.8h1.8v1.8h-1.8zM386.0 74.1h1.8v1.8h-1.8zM387.1 65.7h1.8v1.8h-1.8zM398.3 72.4h1.8v1.8h-1.8zM402.3 62.4h1.8v1.8h-1.8zM406.6 79.6h1.8v1.8h-1.8zM394.4 72.7h1.8v1.8h-1.8zM388.5 67.8h1.8v1.8h-1.8zM384.4 69.7h1.8v1.8h-1.8zM396.0 79.6h1.8v1.8h-1.8zM401.8 75.4h1.8v1.8h-1.8zM391.7 67.2h1.8v1.8h-1.8zM391.9 70.7h1.8v1.8h-1.8zM379.7 75.1h1.8v1.8h-1.8zM382.5 64.9h1.8v1.8h-1.8zM394.7 65.0h1.8v1.8h-1.8zM407.3 68.2h1.8v1.8h-1.8zM406.6 78.2h1.8v1.8h-1.8zM390.7 72.2h1.8v1.8h-1.8zM404.5 66.4h1.8v1.8h-1.8zM395.2 64.6h1.8v1.8h-1.8zM395.0 66.2h1.8v1.8h-1.8zM395.1 76.9h1.8v1.8h-1.8zM405.2 70.0h1.8v1.8h-1.8zM396.1 75.7h1.8v1.8h-1.8zM392.3 60.7h1.8v1.8h-1.8zM403.0 61.6h1.8v1.8h-1.8zM401.6 61.4h1.8v1.8h-1.8zM408.6 60.8h1.8v1.8h-1.8zM401.0 80.8h1.8v1.8h-1.8zM387.1 80.7h1.8v1.8h-1.8zM388.2 55.1h1.8v1.8h-1.8zM400.0 74.5h1.8v1.8h-1.8zM392.9 49.1h1.8v1.8h-1.8zM394.1 66.6h1.8v1.8h-1.8zM391.6 66.7h1.8v1.8h-1.8zM380.8 64.5h1.8v1.8h-1.8zM408.3 81.2h1.8v1.8h-1.8zM391.7 63.4h1.8v1.8h-1.8zM397.5 77.4h1.8v1.8h-1.8zM400.1 59.8h1.8v1.8h-1.8zM395.7 70.1h1.8v1.8h-1.8zM405.5 78.4h1.8v1.8h-1.8zM398.5 78.6h1.8v1.8h-1.8zM391.5 81.1h1.8v1.8h-1.8zM391.2 72.1h1.8v1.8h-1.8zM401.6 61.8h1.8v1.8h-1.8zM389.1 55.2h1.8v1.8h-1.8zM395.8 68.6h1.8v1.8h-1.8zM392.0 72.9h1.8v1.8h-1.8zM378.2 68.8h1.8v1.8h-1.8zM395.2 66.9h1.8v1.8h-1.8zM400.6 82.8h1.8v1.8h-1.8zM391.1 61.6h1.8v1.8h-1.8zM389.9 69.7h1.8v1.8h-1.8zM399.0 62.2h1.8v1.8h-1.8zM402.2 60.9h1.8v1.8h-1.8zM400.9 72.4h1.8v1.8h-1.8zM398.1 86.0h1.8v1.8h-1.8zM392.5 67.7h1.8v1.8h-1.8zM398.2 75.8h1.8v1.8h-1.8zM384.2 71.2h1.8v1.8h-1.8zM388.8 74.0h1.8v1.8h-1.8zM405.0 69.4h1.8v1.8h-1.8zM393.7 70.4h1.8v1.8h-1.8zM398.8 70.3h1.8v1.8h-1.8zM391.5 63.2h1.8v1.8h-1.8zM393.1 78.6h1.8v1.8h-1.8zM393.7 79.6h1.8v1.8h-1.8zM396.6 68.9h1.8v1.8h-1.8zM381.8 63.8h1.8v1.8h-1.8zM404.1 58.8h1.8v1.8h-1.8zM386.9 60.4h1.8v1.8h-1.8zM390.3 74.1h1.8v1.8h-1.8zM399.1 53.0h1.8v1.8h-1.8zM405.7 64.3h1.8v1.8h-1.8zM390.0 82.1h1.8v1.8h-1.8zM393.9 59.2h1.8v1.8h-1.8zM389.6 63.3h1.8v1.8h-1.8zM386.7 66.4h1.8v1.8h-1.8zM401.2 71.8h1.8v1.8h-1.8zM383.9 90.9h1.8v1.8h-1.8zM386.9 69.9h1.8v1.8h-1.8zM394.7 75.0h1.8v1.8h-1.8zM392.0 72.6h1.8v1.8h-1.8zM410.7 69.8h1.8v1.8h-1.8zM386.2 71.6h1.8v1.8h-1.8zM388.3 66.1h1.8v1.8h-1.8zM395.9 71.7h1.8v1.8h-1.8zM392.3 75.7h1.8v1.8h-1.8zM393.0 58.7h1.8v1.8h-1.8zM401.2 66.1h1.8v1.8h-1.8zM403.8 63.8h1.8v1.8h-1.8zM398.9 71.5h1.8v1.8h-1.8zM385.9 80.1h1.8v1.8h-1.8zM380.0 76.2h1.8v1.8h-1.8zM402.9 72.9h1.8v1.8h-1.8zM399.7 65.1h1.8v1.8h-1.8zM394.4 70.8h1.8v1.8h-1.8zM397.7 74.6h1.8v1.8h-1.8zM392.9 63.5h1.8v1.8h-1.8zM390.2 72.2h1.8v1.8h-1.8zM381.7 59.1h1.8v1.8h-1.8zM391.3 64.6h1.8v1.8h-1.8zM392.4 48.0h1.8v1.8h-1.8zM391.9 67.0h1.8v1.8h-1.8zM400.5 53.4h1.8v1.8h-1.8zM392.1 72.7h1.8v1.8h-1.8zM398.3 78.4h1.8v1.8h-1.8zM402.6 60.7h1.8v1.8h-1.8zM399.4 66.4h1.8v1.8h-1.8zM388.3 81.1h1.8v1.8h-1.8zM389.7 62.3h1.8v1.8h-1.8zM391.4 62.3h1.8v1.8h-1.8zM402.2 72.0h1.8v1.8h-1.8zM405.3 72.2h1.8v1.8h-1.8zM389.8 77.3h1.8v1.8h-1.8zM389.5 65.4h1.8v1.8h-1.8zM393.2 69.3h1.8v1.8h-1.8zM403.7 64.2h1.8v1.8h-1.8zM397.2 68.8h1.8v1.8h-1.8zM384.8 60.4h1.8v1.8h-1.8zM392.8 72.2h1.8v1.8h-1.8zM397.0 72.8h1.8v1.8h-1.8zM394.9 65.5h1.8v1.8h-1.8zM397.8 61.1h1.8v1.8h-1.8zM384.2 66.4h1.8v1.8h-1.8zM383.5 64.9h1.8v1.8h-1.8zM388.7 64.6h1.8v1.8h-1.8zM394.2 62.7h1.8v1.8h-1.8zM391.2 55.5h1.8v1.8h-1.8zM395.6 62.0h1.8v1.8h-1.8zM397.6 46.7h1.8v1.8h-1.8zM388.3 70.9h1.8v1.8h-1.8zM395.2 69.8h1.8v1.8h-1.8zM383.0 70.8h1.8v1.8h-1.8zM395.6 61.3h1.8v1.8h-1.8zM400.2 68.6h1.8v1.8h-1.8zM394.6 65.4h1.8v1.8h-1.8zM398.7 69.8h1.8v1.8h-1.8zM403.3 72.6h1.8v1.8h-1.8zM389.7 67.2h1.8v1.8h-1.8zM401.6 66.1h1.8v1.8h-1.8zM397.5 73.1h1.8v1.8h-1.8zM393.1 50.6h1.8v1.8h-1.8zM395.5 70.7h1.8v1.8h-1.8zM395.5 63.0h1.8v1.8h-1.8zM403.8 67.9h1.8v1.8h-1.8zM389.7 63.3h1.8v1.8h-1.8zM397.3 60.4h1.8v1.8h-1.8zM386.8 84.9h1.8v1.8h-1.8zM404.6 77.4h1.8v1.8h-1.8zM405.1 73.7h1.8v1.8h-1.8zM381.5 78.5h1.8v1.8h-1.8zM404.1 72.9h1.8v1.8h-1.8zM379.4 78.9h1.8v1.8h-1.8zM405.1 65.1h1.8v1.8h-1.8zM395.5 75.2h1.8v1.8h-1.8zM393.8 77.7h1.8v1.8h-1.8zM395.1 74.5h1.8v1.8h-1.8zM395.2 57.3h1.8v1.8h-1.8zM396.7 79.4h1.8v1.8h-1.8zM403.3 82.6h1.8v1.8h-1.8zM398.8 64.3h1.8v1.8h-1.8zM394.6 53.7h1.8v1.8h-1.8zM393.0 76.2h1.8v1.8h-1.8zM377.7 70.6h1.8v1.8h-1.8zM400.9 79.6h1.8v1.8h-1.8zM387.3 63.8h1.8v1.8h-1.8zM379.9 60.9h1.8v1.8h-1.8zM398.6 85.5h1.8v1.8h-1.8zM385.6 80.0h1.8v1.8h-1.8zM397.8 65.1h1.8v1.8h-1.8zM411.5 48.9h1.8v1.8h-1.8zM394.0 70.7h1.8v1.8h-1.8zM411.0 83.3h1.8v1.8h-1.8zM412.1 70.1h1.8v1.8h-1.8zM402.1 79.9h1.8v1.8h-1.8zM398.5 71.9h1.8v1.8h-1.8zM393.1 65.7h1.8v1.8h-1.8zM384.9 84.5h1.8v1.8h-1.8zM391.0 52.4h1.8v1.8h-1.8zM396.6 68.7h1.8v1.8h-1.8zM395.9 83.5h1.8v1.8h-1.8zM393.7 66.9h1.8v1.8h-1.8zM388.7 68.8h1.8v1.8h-1.8zM391.1 70.6h1.8v1.8h-1.8zM418.8 72.1h1.8v1.8h-1.8zM387.8 84.4h1.8v1.8h-1.8zM401.2 75.5h1.8v1.8h-1.8zM400.1 75.5h1.8v1.8h-1.8zM399.8 80.2h1.8v1.8h-1.8zM402.3 79.8h1.8v1.8h-1.8zM390.6 69.0h1.8v1.8h-1.8zM388.8 76.6h1.8v1.8h-1.8zM401.0 65.3h1.8v1.8h-1.8zM399.1 90.0h1.8v1.8h-1.8zM404.1 60.1h1.8v1.8h-1.8zM393.8 74.1h1.8v1.8h-1.8zM394.2 72.1h1.8v1.8h-1.8zM403.7 71.6h1.8v1.8h-1.8zM386.0 74.7h1.8v1.8h-1.8zM393.7 69.9h1.8v1.8h-1.8zM390.1 58.0h1.8v1.8h-1.8zM384.8 66.2h1.8v1.8h-1.8zM386.2 47.3h1.8v1.8h-1.8zM403.4 59.7h1.8v1.8h-1.8zM388.9 73.2h1.8v1.8h-1.8zM388.5 74.3h1.8v1.8h-1.8zM390.7 71.4h1.8v1.8h-1.8zM395.3 69.0h1.8v1.8h-1.8zM380.3 57.3h1.8v1.8h-1.8zM394.2 80.3h1.8v1.8h-1.8zM390.2 73.3h1.8v1.8h-1.8zM395.8 72.9h1.8v1.8h-1.8zM402.2 57.0h1.8v1.8h-1.8zM396.6 67.6h1.8v1.8h-1.8zM392.1 62.2h1.8v1.8h-1.8zM388.4 60.8h1.8v1.8h-1.8zM385.9 89.1h1.8v1.8h-1.8zM407.7 69.1h1.8v1.8h-1.8zM400.3 61.2h1.8v1.8h-1.8zM395.6 80.5h1.8v1.8h-1.8zM394.2 61.0h1.8v1.8h-1.8zM392.6 61.0h1.8v1.8h-1.8zM383.6 67.1h1.8v1.8h-1.8zM391.4 62.5h1.8v1.8h-1.8zM387.6 61.6h1.8v1.8h-1.8zM396.3 80.1h1.8v1.8h-1.8zM392.9 86.9h1.8v1.8h-1.8zM381.9 71.2h1.8v1.8h-1.8zM385.5 67.7h1.8v1.8h-1.8zM395.3 73.5h1.8v1.8h-1.8zM403.3 64.6h1.8v1.8h-1.8zM384.8 67.5h1.8v1.8h-1.8zM396.8 63.4h1.8v1.8h-1.8zM401.5 82.5h1.8v1.8h-1.8zM383.4 71.9h1.8v1.8h-1.8zM402.4 53.6h1.8v1.8h-1.8zM396.1 67.2h1.8v1.8h-1.8zM383.4 79.5h1.8v1.8h-1.8zM396.2 65.2h1.8v1.8h-1.8zM398.0 74.1h1.8v1.8h-1.8zM400.5 73.6h1.8v1.8h-1.8zM397.7 59.6h1.8v1.8h-1.8zM391.2 70.0h1.8v1.8h-1.8zM391.5 60.6h1.8v1.8h-1.8zM380.3 71.0h1.8v1.8h-1.8zM394.8 64.3h1.8v1.8h-1.8zM391.3 61.9h1.8v1.8h-1.8zM388.7 68.2h1.8v1.8h-1.8zM389.5 74.4h1.8v1.8h-1.8zM393.4 70.1h1.8v1.8h-1.8zM397.7 79.2h1.8v1.8h-1.8zM399.2 70.8h1.8v1.8h-1.8zM393.2 62.6h1.8v1.8h-1.8zM391.8 74.5h1.8v1.8h-1.8zM396.3 65.9h1.8v1.8h-1.8zM384.1 56.8h1.8v1.8h-1.8zM397.0 77.2h1.8v1.8h-1.8zM397.4 58.0h1.8v1.8h-1.8zM392.8 70.8h1.8v1.8h-1.8zM387.3 71.8h1.8v1.8h-1.8zM392.9 62.3h1.8v1.8h-1.8zM384.8 75.5h1.8v1.8h-1.8zM397.3 61.9h1.8v1.8h-1.8zM386.6 76.1h1.8v1.8h-1.8zM399.1 66.6h1.8v1.8h-1.8zM406.9 66.7h1.8v1.8h-1.8zM386.3 77.7h1.8v1.8h-1.8zM393.0 71.8h1.8v1.8h-1.8zM394.8 61.0h1.8v1.8h-1.8zM385.2 67.4h1.8v1.8h-1.8zM405.5 61.0h1.8v1.8h-1.8zM405.1 70.8h1.8v1.8h-1.8zM385.8 71.1h1.8v1.8h-1.8zM398.9 61.8h1.8v1.8h-1.8zM377.9 71.8h1.8v1.8h-1.8zM385.9 72.5h1.8v1.8h-1.8zM379.6 67.9h1.8v1.8h-1.8zM388.2 57.2h1.8v1.8h-1.8zM392.6 70.4h1.8v1.8h-1.8zM390.2 59.6h1.8v1.8h-1.8zM396.2 55.0h1.8v1.8h-1.8zM398.7 72.9h1.8v1.8h-1.8zM407.6 76.0h1.8v1.8h-1.8zM397.3 71.1h1.8v1.8h-1.8zM394.7 58.4h1.8v1.8h-1.8zM405.9 73.2h1.8v1.8h-1.8zM392.3 59.9h1.8v1.8h-1.8zM406.0 73.2h1.8v1.8h-1.8zM385.3 74.4h1.8v1.8h-1.8zM409.2 68.8h1.8v1.8h-1.8zM397.6 65.7h1.8v1.8h-1.8zM389.6 77.6h1.8v1.8h-1.8zM418.4 69.9h1.8v1.8h-1.8zM393.5 75.3h1.8v1.8h-1.8zM392.1 74.8h1.8v1.8h-1.8zM400.9 60.9h1.8v1.8h-1.8zM386.2 68.4h1.8v1.8h-1.8zM401.0 71.2h1.8v1.8h-1.8zM404.1 58.0h1.8v1.8h-1.8zM398.3 64.0h1.8v1.8h-1.8zM395.3 71.6h1.8v1.8h-1.8zM387.0 67.2h1.8v1.8h-1.8zM385.5 71.1h1.8v1.8h-1.8zM387.9 65.1h1.8v1.8h-1.8zM396.2 63.8h1.8v1.8h-1.8zM403.4 63.9h1.8v1.8h-1.8zM401.1 71.3h1.8v1.8h-1.8zM386.5 67.3h1.8v1.8h-1.8zM388.0 66.1h1.8v1.8h-1.8zM392.4 83.5h1.8v1.8h-1.8zM391.2 81.5h1.8v1.8h-1.8zM398.0 58.6h1.8v1.8h-1.8zM376.6 74.4h1.8v1.8h-1.8zM379.1 74.7h1.8v1.8h-1.8zM402.5 72.1h1.8v1.8h-1.8zM392.9 67.0h1.8v1.8h-1.8zM396.5 66.6h1.8v1.8h-1.8zM390.4 66.1h1.8v1.8h-1.8zM403.6 64.1h1.8v1.8h-1.8zM397.4 59.9h1.8v1.8h-1.8zM389.0 58.1h1.8v1.8h-1.8zM393.0 74.4h1.8v1.8h-1.8zM396.9 65.1h1.8v1.8h-1.8zM399.2 66.2h1.8v1.8h-1.8zM397.4 71.2h1.8v1.8h-1.8zM398.7 49.3h1.8v1.8h-1.8zM384.4 75.1h1.8v1.8h-1.8zM393.7 86.8h1.8v1.8h-1.8zM392.7 64.6h1.8v1.8h-1.8zM406.1 73.4h1.8v1.8h-1.8zM409.2 73.0h1.8v1.8h-1.8zM392.9 74.7h1.8v1.8h-1.8zM388.4 65.5h1.8v1.8h-1.8zM390.2 67.2h1.8v1.8h-1.8zM400.5 65.2h1.8v1.8h-1.8zM397.0 65.0h1.8v1.8h-1.8zM401.3 47.1h1.8v1.8h-1.8zM392.9 70.3h1.8v1.8h-1.8zM386.2 77.0h1.8v1.8h-1.8zM396.2 79.2h1.8v1.8h-1.8zM401.9 74.1h1.8v1.8h-1.8zM393.3 60.4h1.8v1.8h-1.8zM392.8 65.4h1.8v1.8h-1.8zM396.4 65.3h1.8v1.8h-1.8zM418.1 56.3h1.8v1.8h-1.8zM403.6 65.3h1.8v1.8h-1.8zM392.6 76.3h1.8v1.8h-1.8zM394.5 59.4h1.8v1.8h-1.8zM397.7 67.5h1.8v1.8h-1.8zM378.6 70.6h1.8v1.8h-1.8zM386.3 63.1h1.8v1.8h-1.8zM398.2 71.4h1.8v1.8h-1.8zM392.3 86.2h1.8v1.8h-1.8zM397.7 64.1h1.8v1.8h-1.8zM396.3 68.0h1.8v1.8h-1.8zM377.5 56.5h1.8v1.8h-1.8zM383.8 85.4h1.8v1.8h-1.8zM393.1 66.8h1.8v1.8h-1.8zM390.1 76.8h1.8v1.8h-1.8zM394.7 82.5h1.8v1.8h-1.8zM400.6 82.0h1.8v1.8h-1.8zM393.6 72.0h1.8v1.8h-1.8zM391.2 67.7h1.8v1.8h-1.8zM381.1 64.4h1.8v1.8h-1.8zM387.2 63.8h1.8v1.8h-1.8zM403.9 71.1h1.8v1.8h-1.8zM404.0 75.8h1.8v1.8h-1.8zM401.6 76.9h1.8v1.8h-1.8zM389.8 75.3h1.8v1.8h-1.8zM392.0 64.8h1.8v1.8h-1.8zM403.7 86.1h1.8v1.8h-1.8zM387.0 82.7h1.8v1.8h-1.8zM400.9 62.3h1.8v1.8h-1.8zM396.6 71.9h1.8v1.8h-1.8zM397.4 66.2h1.8v1.8h-1.8zM384.6 69.2h1.8v1.8h-1.8zM401.1 75.2h1.8v1.8h-1.8zM399.6 77.7h1.8v1.8h-1.8zM386.9 68.7h1.8v1.8h-1.8zM397.1 76.9h1.8v1.8h-1.8zM395.7 73.1h1.8v1.8h-1.8zM395.5 85.6h1.8v1.8h-1.8zM377.7 68.8h1.8v1.8h-1.8zM413.6 70.9h1.8v1.8h-1.8zM380.4 70.1h1.8v1.8h-1.8zM383.5 63.6h1.8v1.8h-1.8zM396.2 82.5h1.8v1.8h-1.8zM398.1 74.3h1.8v1.8h-1.8zM402.3 70.6h1.8v1.8h-1.8zM387.9 68.2h1.8v1.8h-1.8zM397.1 66.8h1.8v1.8h-1.8zM389.4 66.2h1.8v1.8h-1.8zM378.1 58.6h1.8v1.8h-1.8zM393.0 65.4h1.8v1.8h-1.8zM394.4 83.2h1.8v1.8h-1.8zM397.2 68.7h1.8v1.8h-1.8zM381.6 58.1h1.8v1.8h-1.8zM398.0 60.2h1.8v1.8h-1.8zM398.5 58.1h1.8v1.8h-1.8zM395.4 68.3h1.8v1.8h-1.8zM404.5 65.0h1.8v1.8h-1.8zM390.1 71.5h1.8v1.8h-1.8zM394.6 86.1h1.8v1.8h-1.8zM391.3 63.6h1.8v1.8h-1.8zM390.6 73.8h1.8v1.8h-1.8zM396.5 76.0h1.8v1.8h-1.8zM413.5 68.7h1.8v1.8h-1.8zM381.2 70.6h1.8v1.8h-1.8zM398.4 46.4h1.8v1.8h-1.8zM394.1 54.1h1.8v1.8h-1.8zM398.9 83.0h1.8v1.8h-1.8zM404.9 53.8h1.8v1.8h-1.8zM408.6 78.2h1.8v1.8h-1.8zM390.2 74.1h1.8v1.8h-1.8zM410.1 65.6h1.8v1.8h-1.8zM393.8 63.3h1.8v1.8h-1.8zM406.2 47.2h1.8v1.8h-1.8zM409.0 59.2h1.8v1.8h-1.8zM403.8 52.6h1.8v1.8h-1.8zM384.1 63.0h1.8v1.8h-1.8zM402.8 52.6h1.8v1.8h-1.8zM400.4 62.6h1.8v1.8h-1.8zM407.1 65.9h1.8v1.8h-1.8zM399.1 67.3h1.8v1.8h-1.8zM413.0 65.4h1.8v1.8h-1.8zM393.7 89.0h1.8v1.8h-1.8zM394.8 75.9h1.8v1.8h-1.8zM386.2 71.0h1.8v1.8h-1.8zM387.2 53.8h1.8v1.8h-1.8zM379.0 80.5h1.8v1.8h-1.8zM398.5 53.7h1.8v1.8h-1.8zM413.2 62.0h1.8v1.8h-1.8zM390.1 71.5h1.8v1.8h-1.8zM382.0 52.7h1.8v1.8h-1.8zM386.1 80.9h1.8v1.8h-1.8zM404.1 53.0h1.8v1.8h-1.8zM406.7 69.3h1.8v1.8h-1.8zM399.3 69.5h1.8v1.8h-1.8zM398.4 58.9h1.8v1.8h-1.8zM384.4 61.9h1.8v1.8h-1.8zM390.1 75.3h1.8v1.8h-1.8zM381.1 85.1h1.8v1.8h-1.8zM387.3 63.1h1.8v1.8h-1.8zM401.4 73.4h1.8v1.8h-1.8zM390.4 58.2h1.8v1.8h-1.8zM383.4 52.9h1.8v1.8h-1.8zM406.1 79.9h1.8v1.8h-1.8zM413.8 74.0h1.8v1.8h-1.8zM397.5 76.7h1.8v1.8h-1.8zM404.1 66.4h1.8v1.8h-1.8zM397.7 90.8h1.8v1.8h-1.8zM376.1 54.8h1.8v1.8h-1.8zM383.8 76.6h1.8v1.8h-1.8zM406.6 65.6h1.8v1.8h-1.8zM401.1 68.5h1.8v1.8h-1.8zM397.2 63.5h1.8v1.8h-1.8zM393.7 69.0h1.8v1.8h-1.8zM393.9 78.8h1.8v1.8h-1.8zM405.2 76.9h1.8v1.8h-1.8zM402.6 59.4h1.8v1.8h-1.8zM406.8 59.4h1.8v1.8h-1.8zM407.7 75.7h1.8v1.8h-1.8zM383.5 80.8h1.8v1.8h-1.8zM386.8 61.5h1.8v1.8h-1.8zM377.6 66.8h1.8v1.8h-1.8zM404.8 62.2h1.8v1.8h-1.8zM413.6 76.0h1.8v1.8h-1.8zM388.3 56.7h1.8v1.8h-1.8zM376.6 74.6h1.8v1.8h-1.8zM407.8 58.3h1.8v1.8h-1.8zM394.0 66.2h1.8v1.8h-1.8zM391.3 74.1h1.8v1.8h-1.8zM416.2 62.6h1.8v1.8h-1.8zM403.0 80.0h1.8v1.8h-1.8zM391.0 67.5h1.8v1.8h-1.8zM379.8 79.9h1.8v1.8h-1.8zM388.4 62.4h1.8v1.8h-1.8zM394.7 60.3h1.8v1.8h-1.8zM382.9 66.0h1.8v1.8h-1.8zM409.8 66.9h1.8v1.8h-1.8zM399.6 54.2h1.8v1.8h-1.8zM389.8 53.4h1.8v1.8h-1.8zM392.9 75.1h1.8v1.8h-1.8zM396.8 59.7h1.8v1.8h-1.8zM402.5 78.7h1.8v1.8h-1.8zM398.7 64.7h1.8v1.8h-1.8zM393.5 62.6h1.8v1.8h-1.8zM392.6 72.2h1.8v1.8h-1.8zM390.8 78.9h1.8v1.8h-1.8zM421.5 63.5h1.8v1.8h-1.8zM397.6 77.3h1.8v1.8h-1.8zM400.8 66.6h1.8v1.8h-1.8zM330.2 53.1h1.8v1.8h-1.8zM333.2 57.8h1.8v1.8h-1.8zM336.3 55.9h1.8v1.8h-1.8zM340.0 55.9h1.8v1.8h-1.8zM351.9 51.7h1.8v1.8h-1.8zM358.5 49.6h1.8v1.8h-1.8zM367.5 47.8h1.8v1.8h-1.8zM353.8 54.8h1.8v1.8h-1.8zM360.6 53.6h1.8v1.8h-1.8zM354.9 58.6h1.8v1.8h-1.8zM348.9 61.7h1.8v1.8h-1.8zM359.6 58.8h1.8v1.8h-1.8zM363.3 55.7h1.8v1.8h-1.8zM364.8 57.6h1.8v1.8h-1.8zM368.5 52.7h1.8v1.8h-1.8zM369.0 57.6h1.8v1.8h-1.8zM361.7 63.5h1.8v1.8h-1.8zM366.9 63.5h1.8v1.8h-1.8zM373.2 55.7h1.8v1.8h-1.8zM353.5 68.6h1.8v1.8h-1.8zM359.4 72.5h1.8v1.8h-1.8zM364.3 74.3h1.8v1.8h-1.8zM369.0 70.9h1.8v1.8h-1.8zM373.2 68.8h1.8v1.8h-1.8zM371.1 74.5h1.8v1.8h-1.8zM370.6 78.2h1.8v1.8h-1.8zM371.3 80.3h1.8v1.8h-1.8zM366.9 82.4h1.8v1.8h-1.8zM350.7 83.5h1.8v1.8h-1.8zM358.3 89.2h1.8v1.8h-1.8zM375.8 88.7h1.8v1.8h-1.8zM373.2 61.4h1.8v1.8h-1.8zM372.2 66.4h1.8v1.8h-1.8zM373.7 75.6h1.8v1.8h-1.8zM425.0 62.0h1.8v1.8h-1.8zM433.0 70.0h1.8v1.8h-1.8z" fill="#000"/>
<path d="M153.9 322.0h1.8v1.8h-1.8zM165.6 318.5h1.8v1.8h-1.8zM150.5 319.4h1.8v1.8h-1.8zM167.4 313.7h1.8v1.8h-1.8zM165.9 330.1h1.8v1.8h-1.8zM139.1 319.2h1.8v1.8h-1.8zM146.6 305.5h1.8v1.8h-1.8zM156.5 318.8h1.8v1.8h-1.8zM159.6 306.9h1.8v1.8h-1.8zM143.7 311.1h1.8v1.8h-1.8zM159.1 309.2h1.8v1.8h-1.8zM143.0 327.2h1.8v1.8h-1.8zM150.1 313.9h1.8v1.8h-1.8zM153.2 310.9h1.8v1.8h-1.8zM159.4 312.9h1.8v1.8h-1.8zM165.6 306.7h1.8v1.8h-1.8zM143.2 328.6h1.8v1.8h-1.8zM158.2 320.4h1.8v1.8h-1.8zM171.6 318.9h1.8v1.8h-1.8zM159.4 304.2h1.8v1.8h-1.8zM142.0 321.8h1.8v1.8h-1.8zM166.2 319.0h1.8v1.8h-1.8zM141.3 300.1h1.8v1.8h-1.8zM147.7 306.8h1.8v1.8h-1.8zM160.7 307.9h1.8v1.8h-1.8zM175.9 310.7h1.8v1.8h-1.8zM153.0 321.0h1.8v1.8h-1.8zM162.5 308.7h1.8v1.8h-1.8zM167.8 328.4h1.8v1.8h-1.8zM145.9 313.3h1.8v1.8h-1.8zM147.5 301.4h1.8v1.8h-1.8zM165.7 319.9h1.8v1.8h-1.8zM169.4 318.0h1.8v1.8h-1.8zM137.5 314.8h1.8v1.8h-1.8zM151.9 306.8h1.8v1.8h-1.8zM147.2 320.3h1.8v1.8h-1.8zM155.8 328.7h1.8v1.8h-1.8zM164.0 301.7h1.8v1.8h-1.8zM168.6 323.7h1.8v1.8h-1.8zM159.3 306.5h1.8v1.8h-1.8zM177.9 305.8h1.8v1.8h-1.8zM158.1 301.7h1.8v1.8h-1.8zM145.6 303.1h1.8v1.8h-1.8zM170.7 323.3h1.8v1.8h-1.8zM154.7 305.5h1.8v1.8h-1.8zM158.4 317.7h1.8v1.8h-1.8zM142.7 306.9h1.8v1.8h-1.8zM157.9 319.9h1.8v1.8h-1.8zM159.8 318.2h1.8v1.8h-1.8zM145.6 297.5h1.8v1.8h-1.8zM162.3 308.6h1.8v1.8h-1.8zM157.7 312.4h1.8v1.8h-1.8zM164.2 309.6h1.8v1.8h-1.8zM174.5 315.2h1.8v1.8h-1.8zM164.7 319.4h1.8v1.8h-1.8zM170.1 317.8h1.8v1.8h-1.8zM140.2 310.6h1.8v1.8h-1.8zM179.0 318.3h1.8v1.8h-1.8zM165.0 318.3h1.8v1.8h-1.8zM152.1 310.2h1.8v1.8h-1.8zM152.0 323.2h1.8v1.8h-1.8zM162.9 327.5h1.8v1.8h-1.8zM164.4 328.3h1.8v1.8h-1.8zM163.9 306.7h1.8v1.8h-1.8zM177.7 317.4h1.8v1.8h-1.8zM171.8 316.5h1.8v1.8h-1.8zM155.5 316.2h1.8v1.8h-1.8zM146.9 306.6h1.8v1.8h-1.8zM149.4 311.3h1.8v1.8h-1.8zM144.4 314.3h1.8v1.8h-1.8zM162.3 329.3h1.8v1.8h-1.8zM178.9 314.6h1.8v1.8h-1.8zM168.5 313.5h1.8v1.8h-1.8zM163.2 314.8h1.8v1.8h-1.8zM153.2 315.5h1.8v1.8h-1.8zM143.0 318.1h1.8v1.8h-1.8zM155.9 307.3h1.8v1.8h-1.8zM155.1 318.9h1.8v1.8h-1.8zM151.7 318.4h1.8v1.8h-1.8zM165.2 326.0h1.8v1.8h-1.8zM147.2 314.2h1.8v1.8h-1.8zM164.5 325.6h1.8v1.8h-1.8zM161.8 320.3h1.8v1.8h-1.8zM143.1 310.9h1.8v1.8h-1.8zM177.0 313.0h1.8v1.8h-1.8zM182.4 309.8h1.8v1.8h-1.8zM156.0 303.7h1.8v1.8h-1.8zM165.9 316.9h1.8v1.8h-1.8zM180.9 316.2h1.8v1.8h-1.8zM156.3 305.0h1.8v1.8h-1.8zM158.1 321.7h1.8v1.8h-1.8zM167.0 323.7h1.8v1.8h-1.8zM168.4 314.7h1.8v1.8h-1.8zM165.6 316.2h1.8v1.8h-1.8zM144.5 327.2h1.8v1.8h-1.8zM163.1 307.5h1.8v1.8h-1.8zM163.2 317.0h1.8v1.8h-1.8zM169.8 325.3h1.8v1.8h-1.8zM126.0 318.9h1.8v1.8h-1.8zM175.6 308.3h1.8v1.8h-1.8zM138.8 317.0h1.8v1.8h-1.8zM162.7 317.5h1.8v1.8h-1.8zM146.9 311.7h1.8v1.8h-1.8zM161.1 320.3h1.8v1.8h-1.8zM182.9 317.1h1.8v1.8h-1.8zM152.4 298.2h1.8v1.8h-1.8zM170.7 314.1h1.8v1.8h-1.8zM157.8 308.0h1.8v1.8h-1.8zM167.0 302.2h1.8v1.8h-1.8zM160.2 315.9h1.8v1.8h-1.8zM162.3 324.3h1.8v1.8h-1.8zM157.9 315.7h1.8v1.8h-1.8zM168.3 303.9h1.8v1.8h-1.8zM155.8 315.5h1.8v1.8h-1.8zM169.4 309.3h1.8v1.8h-1.8zM167.8 317.7h1.8v1.8h-1.8zM142.8 304.4h1.8v1.8h-1.8zM143.4 316.0h1.8v1.8h-1.8zM161.3 320.2h1.8v1.8h-1.8zM168.0 311.1h1.8v1.8h-1.8zM170.7 320.9h1.8v1.8h-1.8zM164.2 318.4h1.8v1.8h-1.8zM144.9 317.6h1.8v1.8h-1.8zM147.7 306.5h1.8v1.8h-1.8zM155.2 316.0h1.8v1.8h-1.8zM158.4 312.6h1.8v1.8h-1.8zM148.1 316.3h1.8v1.8h-1.8zM150.9 304.9h1.8v1.8h-1.8zM160.0 325.4h1.8v1.8h-1.8zM154.6 307.4h1.8v1.8h-1.8zM174.1 327.3h1.8v1.8h-1.8zM155.8 313.5h1.8v1.8h-1.8zM161.3 336.1h1.8v1.8h-1.8zM160.5 322.1h1.8v1.8h-1.8zM163.9 302.0h1.8v1.8h-1.8zM146.9 306.2h1.8v1.8h-1.8zM163.7 315.8h1.8v1.8h-1.8zM178.6 313.1h1.8v1.8h-1.8zM162.4 315.5h1.8v1.8h-1.8zM160.5 331.6h1.8v1.8h-1.8zM162.1 325.6h1.8v1.8h-1.8zM173.2 310.6h1.8v1.8h-1.8zM166.5 312.3h1.8v1.8h-1.8zM160.2 316.1h1.8v1.8h-1.8zM159.2 311.6h1.8v1.8h-1.8zM176.1 313.1h1.8v1.8h-1.8zM166.7 327.0h1.8v1.8h-1.8zM165.9 322.4h1.8v1.8h-1.8zM174.2 322.8h1.8v1.8h-1.8zM177.8 304.8h1.8v1.8h-1.8zM180.5 315.2h1.8v1.8h-1.8zM139.8 310.4h1.8v1.8h-1.8zM143.7 314.8h1.8v1.8h-1.8zM142.7 307.8h1.8v1.8h-1.8zM162.2 316.1h1.8v1.8h-1.8zM150.2 313.3h1.8v1.8h-1.8zM157.9 315.5h1.8v1.8h-1.8zM158.9 313.4h1.8v1.8h-1.8zM168.6 303.5h1.8v1.8h-1.8zM153.6 316.0h1.8v1.8h-1.8zM154.6 311.0h1.8v1.8h-1.8zM154.2 316.5h1.8v1.8h-1.8zM172.7 313.7h1.8v1.8h-1.8zM156.1 317.6h1.8v1.8h-1.8zM156.3 301.1h1.8v1.8h-1.8zM161.9 312.3h1.8v1.8h-1.8zM152.7 319.5h1.8v1.8h-1.8zM159.5 310.9h1.8v1.8h-1.8zM135.1 302.6h1.8v1.8h-1.8zM159.2 314.2h1.8v1.8h-1.8zM163.8 316.6h1.8v1.8h-1.8zM153.7 305.9h1.8v1.8h-1.8zM147.0 314.0h1.8v1.8h-1.8zM146.4 320.4h1.8v1.8h-1.8zM144.4 302.1h1.8v1.8h-1.8zM156.9 302.2h1.8v1.8h-1.8zM176.9 307.9h1.8v1.8h-1.8zM158.4 313.2h1.8v1.8h-1.8zM150.0 302.3h1.8v1.8h-1.8zM138.5 321.2h1.8v1.8h-1.8zM170.2 330.6h1.8v1.8h-1.8zM142.9 319.0h1.8v1.8h-1.8zM158.8 321.1h1.8v1.8h-1.8zM153.3 320.2h1.8v1.8h-1.8zM168.9 319.4h1.8v1.8h-1.8zM174.9 313.7h1.8v1.8h-1.8zM176.0 310.0h1.8v1.8h-1.8zM159.1 309.2h1.8v1.8h-1.8zM159.0 322.4h1.8v1.8h-1.8zM166.9 315.7h1.8v1.8h-1.8zM177.7 304.4h1.8v1.8h-1.8zM150.0 325.9h1.8v1.8h-1.8zM162.6 300.1h1.8v1.8h-1.8zM162.7 306.5h1.8v1.8h-1.8zM175.3 323.2h1.8v1.8h-1.8zM153.0 324.3h1.8v1.8h-1.8zM149.8 321.6h1.8v1.8h-1.8zM165.4 314.1h1.8v1.8h-1.8zM143.4 313.0h1.8v1.8h-1.8zM133.8 310.9h1.8v1.8h-1.8zM138.6 323.8h1.8v1.8h-1.8zM148.4 297.5h1.8v1.8h-1.8zM165.4 317.7h1.8v1.8h-1.8zM153.4 330.2h1.8v1.8h-1.8zM167.5 315.5h1.8v1.8h-1.8zM164.3 321.9h1.8v1.8h-1.8zM152.5 304.8h1.8v1.8h-1.8zM158.5 303.0h1.8v1.8h-1.8zM159.1 320.6h1.8v1.8h-1.8zM175.6 316.9h1.8v1.8h-1.8zM161.2 320.4h1.8v1.8h-1.8zM174.4 312.7h1.8v1.8h-1.8zM145.5 309.3h1.8v1.8h-1.8zM145.2 308.6h1.8v1.8h-1.8zM157.7 317.5h1.8v1.8h-1.8zM160.7 315.5h1.8v1.8h-1.8zM155.1 318.0h1.8v1.8h-1.8zM168.7 320.5h1.8v1.8h-1.8zM175.5 312.9h1.8v1.8h-1.8zM156.2 327.2h1.8v1.8h-1.8zM161.2 318.0h1.8v1.8h-1.8zM155.3 322.0h1.8v1.8h-1.8zM154.6 307.7h1.8v1.8h-1.8zM158.3 311.8h1.8v1.8h-1.8zM168.2 312.3h1.8v1.8h-1.8zM160.4 313.4h1.8v1.8h-1.8zM162.7 310.5h1.8v1.8h-1.8zM171.2 304.7h1.8v1.8h-1.8zM154.8 309.9h1.8v1.8h-1.8zM166.1 315.3h1.8v1.8h-1.8zM164.3 312.6h1.8v1.8h-1.8zM151.1 306.9h1.8v1.8h-1.8zM155.3 311.1h1.8v1.8h-1.8zM162.1 317.6h1.8v1.8h-1.8zM169.7 314.2h1.8v1.8h-1.8zM150.8 307.4h1.8v1.8h-1.8zM159.7 317.6h1.8v1.8h-1.8zM180.4 316.3h1.8v1.8h-1.8zM178.3 328.5h1.8v1.8h-1.8zM147.5 323.7h1.8v1.8h-1.8zM171.5 324.7h1.8v1.8h-1.8zM158.9 321.9h1.8v1.8h-1.8zM153.7 314.5h1.8v1.8h-1.8zM159.2 327.8h1.8v1.8h-1.8zM156.6 321.9h1.8v1.8h-1.8zM159.7 309.9h1.8v1.8h-1.8zM161.7 319.8h1.8v1.8h-1.8zM151.2 319.6h1.8v1.8h-1.8zM151.2 308.7h1.8v1.8h-1.8zM161.4 313.3h1.8v1.8h-1.8zM148.2 303.3h1.8v1.8h-1.8zM159.3 316.8h1.8v1.8h-1.8zM153.9 316.3h1.8v1.8h-1.8zM142.2 317.8h1.8v1.8h-1.8zM163.6 317.0h1.8v1.8h-1.8zM152.3 315.6h1.8v1.8h-1.8zM160.4 322.7h1.8v1.8h-1.8zM162.0 316.8h1.8v1.8h-1.8zM151.0 321.2h1.8v1.8h-1.8zM171.9 311.4h1.8v1.8h-1.8zM166.0 317.2h1.8v1.8h-1.8zM158.5 305.7h1.8v1.8h-1.8zM178.3 301.6h1.8v1.8h-1.8zM162.3 312.3h1.8v1.8h-1.8zM171.6 312.0h1.8v1.8h-1.8zM159.4 319.4h1.8v1.8h-1.8zM164.0 311.3h1.8v1.8h-1.8zM166.5 317.8h1.8v1.8h-1.8zM169.9 311.3h1.8v1.8h-1.8zM158.5 312.2h1.8v1.8h-1.8zM149.8 316.8h1.8v1.8h-1.8zM163.5 325.2h1.8v1.8h-1.8zM155.4 317.8h1.8v1.8h-1.8zM171.5 314.2h1.8v1.8h-1.8zM159.7 316.0h1.8v1.8h-1.8zM151.4 307.9h1.8v1.8h-1.8zM171.3 316.2h1.8v1.8h-1.8zM158.2 306.1h1.8v1.8h-1.8zM160.3 323.4h1.8v1.8h-1.8zM146.4 308.6h1.8v1.8h-1.8zM171.2 325.3h1.8v1.8h-1.8zM176.0 311.0h1.8v1.8h-1.8zM165.6 309.6h1.8v1.8h-1.8zM164.7 312.4h1.8v1.8h-1.8zM161.1 324.6h1.8v1.8h-1.8zM162.7 313.3h1.8v1.8h-1.8zM159.6 316.9h1.8v1.8h-1.8zM153.4 316.5h1.8v1.8h-1.8zM165.6 326.2h1.8v1.8h-1.8zM136.4 306.5h1.8v1.8h-1.8zM145.5 321.3h1.8v1.8h-1.8zM160.3 323.2h1.8v1.8h-1.8zM132.3 313.7h1.8v1.8h-1.8zM124.9 316.1h1.8v1.8h-1.8zM153.4 311.5h1.8v1.8h-1.8zM162.7 310.8h1.8v1.8h-1.8zM171.1 315.0h1.8v1.8h-1.8zM163.2 333.2h1.8v1.8h-1.8zM154.1 321.6h1.8v1.8h-1.8zM150.0 323.9h1.8v1.8h-1.8zM169.5 316.0h1.8v1.8h-1.8zM169.8 326.5h1.8v1.8h-1.8zM174.0 315.0h1.8v1.8h-1.8zM158.4 322.9h1.8v1.8h-1.8zM142.9 310.7h1.8v1.8h-1.8zM164.3 319.1h1.8v1.8h-1.8zM179.3 327.6h1.8v1.8h-1.8zM162.5 318.2h1.8v1.8h-1.8zM144.6 313.7h1.8v1.8h-1.8zM161.8 313.4h1.8v1.8h-1.8zM159.7 319.3h1.8v1.8h-1.8zM148.6 311.0h1.8v1.8h-1.8zM139.6 323.2h1.8v1.8h-1.8zM147.5 302.9h1.8v1.8h-1.8zM167.4 313.5h1.8v1.8h-1.8zM169.5 312.4h1.8v1.8h-1.8zM182.1 320.1h1.8v1.8h-1.8zM160.6 315.8h1.8v1.8h-1.8zM156.8 320.8h1.8v1.8h-1.8zM180.8 312.0h1.8v1.8h-1.8zM147.2 319.3h1.8v1.8h-1.8zM170.6 304.4h1.8v1.8h-1.8zM151.5 307.9h1.8v1.8h-1.8zM165.1 318.6h1.8v1.8h-1.8zM151.0 307.0h1.8v1.8h-1.8zM166.4 300.4h1.8v1.8h-1.8zM166.0 313.9h1.8v1.8h-1.8zM179.9 322.1h1.8v1.8h-1.8zM152.7 313.1h1.8v1.8h-1.8zM156.0 309.8h1.8v1.8h-1.8zM159.9 321.9h1.8v1.8h-1.8zM142.6 313.4h1.8v1.8h-1.8zM175.2 320.3h1.8v1.8h-1.8zM150.2 309.3h1.8v1.8h-1.8zM149.7 303.6h1.8v1.8h-1.8zM171.5 315.5h1.8v1.8h-1.8zM151.4 304.8h1.8v1.8h-1.8zM154.8 311.4h1.8v1.8h-1.8zM177.7 311.7h1.8v1.8h-1.8zM160.3 322.6h1.8v1.8h-1.8zM166.2 313.7h1.8v1.8h-1.8zM135.4 324.9h1.8v1.8h-1.8zM165.5 311.9h1.8v1.8h-1.8zM158.0 308.2h1.8v1.8h-1.8zM149.3 304.5h1.8v1.8h-1.8zM164.4 318.7h1.8v1.8h-1.8zM160.9 320.5h1.8v1.8h-1.8zM164.8 315.9h1.8v1.8h-1.8zM149.4 319.2h1.8v1.8h-1.8zM171.8 319.5h1.8v1.8h-1.8zM172.5 311.7h1.8v1.8h-1.8zM148.4 323.9h1.8v1.8h-1.8zM152.7 316.7h1.8v1.8h-1.8zM156.9 315.2h1.8v1.8h-1.8zM156.1 311.2h1.8v1.8h-1.8zM139.7 328.5h1.8v1.8h-1.8zM161.2 301.4h1.8v1.8h-1.8zM149.2 307.0h1.8v1.8h-1.8zM151.0 297.0h1.8v1.8h-1.8zM165.2 326.6h1.8v1.8h-1.8zM156.3 320.3h1.8v1.8h-1.8zM165.5 306.2h1.8v1.8h-1.8zM172.1 303.1h1.8v1.8h-1.8zM152.8 312.5h1.8v1.8h-1.8zM172.5 315.8h1.8v1.8h-1.8zM157.7 309.3h1.8v1.8h-1.8zM160.0 315.3h1.8v1.8h-1.8zM166.9 324.8h1.8v1.8h-1.8zM166.9 315.1h1.8v1.8h-1.8zM157.4 326.3h1.8v1.8h-1.8zM161.2 314.9h1.8v1.8h-1.8zM178.4 326.1h1.8v1.8h-1.8zM165.1 314.2h1.8v1.8h-1.8zM152.2 322.5h1.8v1.8h-1.8zM154.1 321.8h1.8v1.8h-1.8zM150.6 315.7h1.8v1.8h-1.8zM163.3 316.0h1.8v1.8h-1.8zM161.5 317.7h1.8v1.8h-1.8zM146.9 307.2h1.8v1.8h-1.8zM157.4 327.7h1.8v1.8h-1.8zM157.7 308.5h1.8v1.8h-1.8zM151.9 315.2h1.8v1.8h-1.8zM171.7 311.0h1.8v1.8h-1.8zM165.0 316.3h1.8v1.8h-1.8zM155.2 308.4h1.8v1.8h-1.8zM157.4 309.9h1.8v1.8h-1.8zM164.8 302.6h1.8v1.8h-1.8zM171.1 320.3h1.8v1.8h-1.8zM165.2 325.5h1.8v1.8h-1.8zM165.5 303.0h1.8v1.8h-1.8zM159.6 318.2h1.8v1.8h-1.8zM151.7 307.0h1.8v1.8h-1.8zM163.7 318.6h1.8v1.8h-1.8zM154.4 313.3h1.8v1.8h-1.8zM153.6 311.0h1.8v1.8h-1.8zM158.4 322.5h1.8v1.8h-1.8zM141.7 312.6h1.8v1.8h-1.8zM176.3 317.2h1.8v1.8h-1.8zM160.7 320.9h1.8v1.8h-1.8zM148.2 306.5h1.8v1.8h-1.8zM141.2 304.8h1.8v1.8h-1.8zM161.7 321.0h1.8v1.8h-1.8zM154.5 310.2h1.8v1.8h-1.8zM163.3 319.3h1.8v1.8h-1.8zM161.8 301.6h1.8v1.8h-1.8zM153.2 297.2h1.8v1.8h-1.8zM161.6 309.0h1.8v1.8h-1.8zM152.0 325.5h1.8v1.8h-1.8zM173.2 318.4h1.8v1.8h-1.8zM162.0 316.2h1.8v1.8h-1.8zM152.7 314.6h1.8v1.8h-1.8zM179.5 308.9h1.8v1.8h-1.8zM151.9 316.1h1.8v1.8h-1.8zM168.6 320.8h1.8v1.8h-1.8zM148.6 314.1h1.8v1.8h-1.8zM156.2 306.4h1.8v1.8h-1.8zM159.8 311.6h1.8v1.8h-1.8zM168.8 318.0h1.8v1.8h-1.8zM150.7 315.6h1.8v1.8h-1.8zM155.2 310.6h1.8v1.8h-1.8zM153.8 322.5h1.8v1.8h-1.8zM154.6 303.0h1.8v1.8h-1.8zM150.7 320.7h1.8v1.8h-1.8zM182.0 307.6h1.8v1.8h-1.8zM155.2 312.7h1.8v1.8h-1.8zM143.9 317.8h1.8v1.8h-1.8zM158.5 317.0h1.8v1.8h-1.8zM183.0 313.1h1.8v1.8h-1.8zM167.5 320.8h1.8v1.8h-1.8zM152.2 310.9h1.8v1.8h-1.8zM175.7 320.0h1.8v1.8h-1.8zM160.5 307.3h1.8v1.8h-1.8zM168.4 318.7h1.8v1.8h-1.8zM182.5 325.3h1.8v1.8h-1.8zM167.6 316.9h1.8v1.8h-1.8zM159.7 311.1h1.8v1.8h-1.8zM162.3 316.7h1.8v1.8h-1.8zM166.0 322.6h1.8v1.8h-1.8zM162.3 311.2h1.8v1.8h-1.8zM167.6 325.9h1.8v1.8h-1.8zM150.1 317.9h1.8v1.8h-1.8zM164.9 318.8h1.8v1.8h-1.8zM164.4 314.4h1.8v1.8h-1.8zM157.9 326.8h1.8v1.8h-1.8zM177.5 305.2h1.8v1.8h-1.8zM131.9 318.1h1.8v1.8h-1.8zM151.8 311.4h1.8v1.8h-1.8zM142.0 317.5h1.8v1.8h-1.8zM158.4 311.2h1.8v1.8h-1.8zM168.6 332.0h1.8v1.8h-1.8zM174.8 323.2h1.8v1.8h-1.8zM154.6 319.6h1.8v1.8h-1.8zM158.6 323.1h1.8v1.8h-1.8zM165.2 314.8h1.8v1.8h-1.8zM164.9 310.0h1.8v1.8h-1.8zM167.5 325.5h1.8v1.8h-1.8zM155.1 318.9h1.8v1.8h-1.8zM141.2 321.6h1.8v1.8h-1.8zM168.4 307.9h1.8v1.8h-1.8zM177.6 315.8h1.8v1.8h-1.8zM140.5 305.4h1.8v1.8h-1.8zM168.3 313.1h1.8v1.8h-1.8zM170.8 304.2h1.8v1.8h-1.8zM157.9 321.8h1.8v1.8h-1.8zM151.8 319.8h1.8v1.8h-1.8zM155.2 317.4h1.8v1.8h-1.8zM162.5 330.6h1.8v1.8h-1.8zM145.8 320.5h1.8v1.8h-1.8zM173.0 307.1h1.8v1.8h-1.8zM159.9 331.2h1.8v1.8h-1.8zM156.5 303.0h1.8v1.8h-1.8zM162.2 309.9h1.8v1.8h-1.8zM153.0 309.1h1.8v1.8h-1.8zM162.1 311.7h1.8v1.8h-1.8zM149.3 313.4h1.8v1.8h-1.8zM163.3 309.0h1.8v1.8h-1.8zM170.9 303.4h1.8v1.8h-1.8zM163.4 312.3h1.8v1.8h-1.8zM175.8 310.5h1.8v1.8h-1.8zM151.9 305.6h1.8v1.8h-1.8zM180.2 319.3h1.8v1.8h-1.8zM147.4 312.7h1.8v1.8h-1.8zM148.8 325.7h1.8v1.8h-1.8zM163.5 300.8h1.8v1.8h-1.8zM161.2 321.4h1.8v1.8h-1.8zM159.0 318.3h1.8v1.8h-1.8zM157.8 316.5h1.8v1.8h-1.8zM161.3 310.1h1.8v1.8h-1.8zM162.7 316.2h1.8v1.8h-1.8zM158.6 310.2h1.8v1.8h-1.8zM148.2 316.7h1.8v1.8h-1.8zM167.8 298.1h1.8v1.8h-1.8zM153.3 324.5h1.8v1.8h-1.8zM168.8 310.0h1.8v1.8h-1.8zM173.5 308.1h1.8v1.8h-1.8zM150.6 328.6h1.8v1.8h-1.8zM154.3 313.5h1.8v1.8h-1.8zM141.4 307.9h1.8v1.8h-1.8zM146.4 314.0h1.8v1.8h-1.8zM139.4 322.4h1.8v1.8h-1.8zM155.2 310.8h1.8v1.8h-1.8zM152.2 320.2h1.8v1.8h-1.8zM175.4 312.1h1.8v1.8h-1.8zM176.3 326.3h1.8v1.8h-1.8zM173.4 317.1h1.8v1.8h-1.8zM143.1 319.7h1.8v1.8h-1.8zM154.6 316.4h1.8v1.8h-1.8zM138.8 313.0h1.8v1.8h-1.8zM161.5 308.4h1.8v1.8h-1.8zM162.1 326.7h1.8v1.8h-1.8zM161.5 310.2h1.8v1.8h-1.8zM149.2 317.9h1.8v1.8h-1.8zM152.7 298.9h1.8v1.8h-1.8zM161.8 320.8h1.8v1.8h-1.8zM150.5 325.3h1.8v1.8h-1.8zM164.4 323.4h1.8v1.8h-1.8zM142.7 315.0h1.8v1.8h-1.8zM176.1 329.1h1.8v1.8h-1.8zM173.1 315.0h1.8v1.8h-1.8zM161.0 310.6h1.8v1.8h-1.8zM170.8 310.1h1.8v1.8h-1.8zM160.3 300.5h1.8v1.8h-1.8zM142.9 327.5h1.8v1.8h-1.8zM159.6 316.5h1.8v1.8h-1.8zM135.5 314.8h1.8v1.8h-1.8zM181.2 304.5h1.8v1.8h-1.8zM133.5 313.9h1.8v1.8h-1.8zM153.3 313.5h1.8v1.8h-1.8zM145.5 305.5h1.8v1.8h-1.8zM145.7 319.5h1.8v1.8h-1.8zM158.5 320.8h1.8v1.8h-1.8zM147.4 319.1h1.8v1.8h-1.8zM154.3 315.6h1.8v1.8h-1.8zM169.0 315.2h1.8v1.8h-1.8zM155.2 303.3h1.8v1.8h-1.8zM159.7 320.5h1.8v1.8h-1.8zM152.2 314.5h1.8v1.8h-1.8zM140.0 305.6h1.8v1.8h-1.8zM163.3 324.1h1.8v1.8h-1.8zM155.7 303.2h1.8v1.8h-1.8zM154.9 304.0h1.8v1.8h-1.8zM156.0 328.6h1.8v1.8h-1.8zM162.2 313.9h1.8v1.8h-1.8zM170.2 312.3h1.8v1.8h-1.8zM162.6 316.4h1.8v1.8h-1.8zM163.8 304.6h1.8v1.8h-1.8zM166.7 321.2h1.8v1.8h-1.8zM149.3 325.5h1.8v1.8h-1.8zM159.2 319.8h1.8v1.8h-1.8zM165.0 321.3h1.8v1.8h-1.8zM152.1 310.9h1.8v1.8h-1.8zM163.1 319.3h1.8v1.8h-1.8zM165.2 317.4h1.8v1.8h-1.8zM153.8 322.8h1.8v1.8h-1.8zM164.1 322.5h1.8v1.8h-1.8zM131.5 322.1h1.8v1.8h-1.8zM132.6 316.5h1.8v1.8h-1.8zM151.8 315.9h1.8v1.8h-1.8zM153.8 312.8h1.8v1.8h-1.8zM161.1 317.5h1.8v1.8h-1.8zM150.4 297.1h1.8v1.8h-1.8zM150.6 318.8h1.8v1.8h-1.8zM149.9 318.0h1.8v1.8h-1.8zM155.0 308.3h1.8v1.8h-1.8zM171.7 326.8h1.8v1.8h-1.8zM157.9 314.6h1.8v1.8h-1.8zM169.4 305.6h1.8v1.8h-1.8zM149.5 323.0h1.8v1.8h-1.8zM168.8 311.5h1.8v1.8h-1.8zM150.6 317.5h1.8v1.8h-1.8zM143.7 311.5h1.8v1.8h-1.8zM156.5 297.5h1.8v1.8h-1.8zM165.4 320.4h1.8v1.8h-1.8zM170.6 304.8h1.8v1.8h-1.8zM145.0 309.2h1.8v1.8h-1.8zM144.8 329.6h1.8v1.8h-1.8zM148.4 312.8h1.8v1.8h-1.8zM161.2 318.2h1.8v1.8h-1.8zM174.8 307.2h1.8v1.8h-1.8zM168.6 316.1h1.8v1.8h-1.8zM146.2 316.1h1.8v1.8h-1.8zM143.7 326.6h1.8v1.8h-1.8zM151.0 322.2h1.8v1.8h-1.8zM173.2 310.6h1.8v1.8h-1.8zM149.2 315.9h1.8v1.8h-1.8zM147.6 321.4h1.8v1.8h-1.8zM160.9 309.5h1.8v1.8h-1.8zM151.5 320.2h1.8v1.8h-1.8zM143.2 327.1h1.8v1.8h-1.8zM150.4 313.6h1.8v1.8h-1.8zM148.9 326.6h1.8v1.8h-1.8zM168.0 324.3h1.8v1.8h-1.8zM166.1 315.6h1.8v1.8h-1.8zM177.5 319.8h1.8v1.8h-1.8zM163.8 319.1h1.8v1.8h-1.8zM167.1 317.0h1.8v1.8h-1.8zM157.2 303.6h1.8v1.8h-1.8zM181.5 305.7h1.8v1.8h-1.8zM135.4 309.9h1.8v1.8h-1.8zM180.2 323.7h1.8v1.8h-1.8zM152.4 316.9h1.8v1.8h-1.8zM158.7 300.8h1.8v1.8h-1.8zM155.3 317.1h1.8v1.8h-1.8zM171.8 306.4h1.8v1.8h-1.8zM134.3 303.7h1.8v1.8h-1.8zM162.6 315.6h1.8v1.8h-1.8zM160.6 316.1h1.8v1.8h-1.8zM155.0 305.2h1.8v1.8h-1.8zM164.0 317.8h1.8v1.8h-1.8zM165.3 324.0h1.8v1.8h-1.8zM145.4 298.2h1.8v1.8h-1.8zM139.4 330.4h1.8v1.8h-1.8zM149.0 317.9h1.8v1.8h-1.8zM158.8 320.2h1.8v1.8h-1.8zM157.1 310.7h1.8v1.8h-1.8zM161.7 318.7h1.8v1.8h-1.8zM148.3 324.5h1.8v1.8h-1.8zM171.6 318.2h1.8v1.8h-1.8zM157.8 313.3h1.8v1.8h-1.8zM140.9 319.7h1.8v1.8h-1.8zM148.3 311.4h1.8v1.8h-1.8zM170.0 308.4h1.8v1.8h-1.8zM153.3 321.2h1.8v1.8h-1.8zM179.4 310.0h1.8v1.8h-1.8zM171.1 310.3h1.8v1.8h-1.8zM163.3 318.5h1.8v1.8h-1.8zM146.5 322.4h1.8v1.8h-1.8zM178.8 315.4h1.8v1.8h-1.8zM162.0 306.6h1.8v1.8h-1.8zM178.7 315.5h1.8v1.8h-1.8zM145.0 320.5h1.8v1.8h-1.8zM142.9 310.1h1.8v1.8h-1.8zM135.6 324.9h1.8v1.8h-1.8zM151.8 310.8h1.8v1.8h-1.8zM152.8 319.0h1.8v1.8h-1.8zM175.0 307.7h1.8v1.8h-1.8zM163.8 302.0h1.8v1.8h-1.8zM175.8 314.4h1.8v1.8h-1.8zM151.3 326.0h1.8v1.8h-1.8zM157.8 324.9h1.8v1.8h-1.8zM170.8 326.9h1.8v1.8h-1.8zM150.2 315.4h1.8v1.8h-1.8zM163.1 313.6h1.8v1.8h-1.8zM175.8 309.9h1.8v1.8h-1.8zM170.0 324.8h1.8v1.8h-1.8zM137.5 308.0h1.8v1.8h-1.8zM149.1 311.1h1.8v1.8h-1.8zM163.3 313.7h1.8v1.8h-1.8zM159.9 311.7h1.8v1.8h-1.8zM158.1 318.5h1.8v1.8h-1.8zM167.2 309.4h1.8v1.8h-1.8zM157.7 309.5h1.8v1.8h-1.8zM157.0 304.7h1.8v1.8h-1.8zM169.5 319.8h1.8v1.8h-1.8zM157.7 310.1h1.8v1.8h-1.8zM154.0 310.2h1.8v1.8h-1.8zM142.0 326.8h1.8v1.8h-1.8zM146.2 319.2h1.8v1.8h-1.8zM165.7 303.7h1.8v1.8h-1.8zM137.9 318.9h1.8v1.8h-1.8zM121.1 331.9h1.8v1.8h-1.8zM146.6 317.9h1.8v1.8h-1.8zM154.9 311.1h1.8v1.8h-1.8zM152.6 313.9h1.8v1.8h-1.8zM176.2 316.0h1.8v1.8h-1.8zM154.5 311.4h1.8v1.8h-1.8zM144.2 309.3h1.8v1.8h-1.8zM155.2 336.3h1.8v1.8h-1.8zM174.0 319.5h1.8v1.8h-1.8zM158.5 315.3h1.8v1.8h-1.8zM136.3 319.6h1.8v1.8h-1.8zM149.6 300.4h1.8v1.8h-1.8zM133.2 337.3h1.8v1.8h-1.8zM158.6 322.2h1.8v1.8h-1.8zM158.4 312.1h1.8v1.8h-1.8zM162.8 328.4h1.8v1.8h-1.8zM149.8 322.4h1.8v1.8h-1.8zM172.4 311.9h1.8v1.8h-1.8zM157.9 309.2h1.8v1.8h-1.8zM165.3 313.1h1.8v1.8h-1.8zM174.5 309.0h1.8v1.8h-1.8zM140.7 307.5h1.8v1.8h-1.8zM166.3 308.0h1.8v1.8h-1.8zM163.8 302.1h1.8v1.8h-1.8zM154.6 309.4h1.8v1.8h-1.8zM124.2 321.5h1.8v1.8h-1.8zM168.8 330.5h1.8v1.8h-1.8zM138.7 313.4h1.8v1.8h-1.8zM159.6 322.0h1.8v1.8h-1.8zM135.5 319.3h1.8v1.8h-1.8zM153.2 327.0h1.8v1.8h-1.8zM127.8 311.1h1.8v1.8h-1.8zM146.4 313.7h1.8v1.8h-1.8zM167.3 310.4h1.8v1.8h-1.8zM169.3 327.7h1.8v1.8h-1.8zM171.4 314.9h1.8v1.8h-1.8zM140.9 314.3h1.8v1.8h-1.8zM166.3 318.3h1.8v1.8h-1.8zM164.9 323.0h1.8v1.8h-1.8zM140.0 307.2h1.8v1.8h-1.8zM179.5 311.9h1.8v1.8h-1.8zM128.1 336.5h1.8v1.8h-1.8zM140.8 307.2h1.8v1.8h-1.8zM171.4 305.1h1.8v1.8h-1.8zM140.2 328.0h1.8v1.8h-1.8zM157.2 317.6h1.8v1.8h-1.8zM144.1 314.7h1.8v1.8h-1.8zM146.5 316.8h1.8v1.8h-1.8zM168.1 303.7h1.8v1.8h-1.8zM180.6 316.2h1.8v1.8h-1.8zM154.8 316.4h1.8v1.8h-1.8zM172.1 320.4h1.8v1.8h-1.8zM169.5 315.2h1.8v1.8h-1.8zM152.9 316.4h1.8v1.8h-1.8zM123.3 328.4h1.8v1.8h-1.8zM128.2 306.6h1.8v1.8h-1.8zM166.4 317.6h1.8v1.8h-1.8zM168.8 334.9h1.8v1.8h-1.8zM151.2 338.5h1.8v1.8h-1.8zM140.0 316.1h1.8v1.8h-1.8zM171.9 314.8h1.8v1.8h-1.8zM152.9 313.3h1.8v1.8h-1.8zM176.6 328.1h1.8v1.8h-1.8zM153.8 322.9h1.8v1.8h-1.8zM138.5 328.6h1.8v1.8h-1.8zM178.7 316.4h1.8v1.8h-1.8zM149.3 311.9h1.8v1.8h-1.8zM151.8 303.9h1.8v1.8h-1.8zM131.9 334.5h1.8v1.8h-1.8zM154.7 322.8h1.8v1.8h-1.8zM160.3 322.0h1.8v1.8h-1.8zM129.1 307.0h1.8v1.8h-1.8zM165.8 327.5h1.8v1.8h-1.8zM135.5 310.9h1.8v1.8h-1.8zM136.8 323.9h1.8v1.8h-1.8zM160.9 317.3h1.8v1.8h-1.8zM144.0 320.6h1.8v1.8h-1.8zM155.5 309.2h1.8v1.8h-1.8zM160.7 310.0h1.8v1.8h-1.8zM171.2 323.6h1.8v1.8h-1.8zM143.3 323.2h1.8v1.8h-1.8zM156.1 309.6h1.8v1.8h-1.8zM139.5 299.5h1.8v1.8h-1.8zM135.8 320.6h1.8v1.8h-1.8zM175.5 310.4h1.8v1.8h-1.8zM157.7 320.6h1.8v1.8h-1.8zM168.3 321.7h1.8v1.8h-1.8zM175.9 325.0h1.8v1.8h-1.8zM142.0 321.2h1.8v1.8h-1.8zM155.3 323.1h1.8v1.8h-1.8zM149.9 325.7h1.8v1.8h-1.8zM177.5 308.2h1.8v1.8h-1.8zM145.8 319.7h1.8v1.8h-1.8zM163.3 318.5h1.8v1.8h-1.8zM169.1 304.6h1.8v1.8h-1.8zM168.2 329.2h1.8v1.8h-1.8zM173.9 321.5h1.8v1.8h-1.8zM151.0 321.2h1.8v1.8h-1.8zM153.7 300.3h1.8v1.8h-1.8zM144.7 316.6h1.8v1.8h-1.8zM146.2 307.2h1.8v1.8h-1.8zM151.1 313.1h1.8v1.8h-1.8zM156.2 316.5h1.8v1.8h-1.8zM157.9 327.4h1.8v1.8h-1.8zM157.3 321.3h1.8v1.8h-1.8zM148.2 324.1h1.8v1.8h-1.8zM149.2 310.5h1.8v1.8h-1.8zM133.9 326.4h1.8v1.8h-1.8zM146.0 319.6h1.8v1.8h-1.8zM174.2 322.6h1.8v1.8h-1.8zM171.3 324.3h1.8v1.8h-1.8zM143.9 317.5h1.8v1.8h-1.8zM145.4 306.2h1.8v1.8h-1.8zM160.1 308.9h1.8v1.8h-1.8zM145.7 318.0h1.8v1.8h-1.8zM146.2 317.6h1.8v1.8h-1.8zM144.7 302.1h1.8v1.8h-1.8zM180.9 321.7h1.8v1.8h-1.8zM157.6 312.1h1.8v1.8h-1.8zM152.5 320.1h1.8v1.8h-1.8zM131.4 308.6h1.8v1.8h-1.8zM139.9 330.2h1.8v1.8h-1.8zM137.0 329.3h1.8v1.8h-1.8zM153.7 317.3h1.8v1.8h-1.8zM178.0 326.2h1.8v1.8h-1.8zM171.0 305.8h1.8v1.8h-1.8zM174.3 334.6h1.8v1.8h-1.8zM153.3 311.9h1.8v1.8h-1.8zM136.4 327.7h1.8v1.8h-1.8zM160.0 317.1h1.8v1.8h-1.8zM134.0 334.0h1.8v1.8h-1.8zM169.9 316.8h1.8v1.8h-1.8zM180.1 307.0h1.8v1.8h-1.8zM170.0 306.5h1.8v1.8h-1.8zM179.0 314.1h1.8v1.8h-1.8zM175.8 312.6h1.8v1.8h-1.8zM161.8 329.0h1.8v1.8h-1.8zM139.7 318.0h1.8v1.8h-1.8zM140.7 325.9h1.8v1.8h-1.8zM144.7 313.1h1.8v1.8h-1.8zM151.6 329.2h1.8v1.8h-1.8zM137.3 316.7h1.8v1.8h-1.8zM149.4 311.2h1.8v1.8h-1.8zM141.6 315.3h1.8v1.8h-1.8zM158.3 300.8h1.8v1.8h-1.8zM159.0 304.6h1.8v1.8h-1.8zM138.6 316.3h1.8v1.8h-1.8zM150.7 327.3h1.8v1.8h-1.8zM146.9 298.3h1.8v1.8h-1.8zM127.6 318.9h1.8v1.8h-1.8zM159.3 328.2h1.8v1.8h-1.8zM145.9 324.0h1.8v1.8h-1.8zM136.9 330.6h1.8v1.8h-1.8zM153.8 309.9h1.8v1.8h-1.8zM158.0 335.3h1.8v1.8h-1.8zM140.6 304.0h1.8v1.8h-1.8zM137.7 304.9h1.8v1.8h-1.8zM154.1 320.7h1.8v1.8h-1.8zM152.2 319.1h1.8v1.8h-1.8zM175.1 314.0h1.8v1.8h-1.8zM159.1 309.9h1.8v1.8h-1.8zM150.8 321.3h1.8v1.8h-1.8zM162.9 300.5h1.8v1.8h-1.8zM138.7 317.8h1.8v1.8h-1.8zM152.6 329.0h1.8v1.8h-1.8zM174.9 299.8h1.8v1.8h-1.8zM138.5 321.1h1.8v1.8h-1.8zM159.1 322.6h1.8v1.8h-1.8zM164.2 309.5h1.8v1.8h-1.8zM176.3 299.3h1.8v1.8h-1.8zM145.0 320.0h1.8v1.8h-1.8zM157.3 306.9h1.8v1.8h-1.8zM181.9 332.5h1.8v1.8h-1.8zM139.1 320.9h1.8v1.8h-1.8zM144.2 312.5h1.8v1.8h-1.8zM171.8 318.3h1.8v1.8h-1.8zM153.2 318.1h1.8v1.8h-1.8zM135.1 329.8h1.8v1.8h-1.8zM142.2 330.7h1.8v1.8h-1.8zM147.2 312.2h1.8v1.8h-1.8zM180.3 319.0h1.8v1.8h-1.8zM144.1 311.4h1.8v1.8h-1.8zM165.3 336.6h1.8v1.8h-1.8zM165.4 312.9h1.8v1.8h-1.8zM135.9 309.9h1.8v1.8h-1.8zM153.0 319.6h1.8v1.8h-1.8zM143.9 330.4h1.8v1.8h-1.8zM138.7 309.5h1.8v1.8h-1.8zM163.5 322.0h1.8v1.8h-1.8zM148.4 327.1h1.8v1.8h-1.8zM131.1 334.2h1.8v1.8h-1.8zM157.0 337.7h1.8v1.8h-1.8zM155.9 331.0h1.8v1.8h-1.8zM151.6 319.0h1.8v1.8h-1.8zM163.9 298.7h1.8v1.8h-1.8zM151.5 335.0h1.8v1.8h-1.8zM170.7 320.4h1.8v1.8h-1.8zM158.3 331.6h1.8v1.8h-1.8zM160.7 297.1h1.8v1.8h-1.8zM138.9 313.9h1.8v1.8h-1.8zM157.5 312.3h1.8v1.8h-1.8zM153.2 334.5h1.8v1.8h-1.8zM170.9 323.3h1.8v1.8h-1.8zM155.3 317.7h1.8v1.8h-1.8zM161.2 319.5h1.8v1.8h-1.8zM142.7 325.2h1.8v1.8h-1.8zM141.0 316.6h1.8v1.8h-1.8zM148.9 304.9h1.8v1.8h-1.8zM165.3 316.3h1.8v1.8h-1.8zM135.2 316.2h1.8v1.8h-1.8zM131.6 332.0h1.8v1.8h-1.8zM163.8 337.8h1.8v1.8h-1.8zM145.4 324.4h1.8v1.8h-1.8zM138.6 308.1h1.8v1.8h-1.8zM153.5 321.3h1.8v1.8h-1.8zM170.7 314.2h1.8v1.8h-1.8zM173.7 327.1h1.8v1.8h-1.8zM140.2 315.1h1.8v1.8h-1.8zM139.5 334.9h1.8v1.8h-1.8zM145.7 326.3h1.8v1.8h-1.8zM170.5 314.3h1.8v1.8h-1.8zM146.7 320.6h1.8v1.8h-1.8zM141.9 303.8h1.8v1.8h-1.8zM138.6 320.5h1.8v1.8h-1.8zM158.3 335.4h1.8v1.8h-1.8zM124.0 322.3h1.8v1.8h-1.8zM135.5 329.1h1.8v1.8h-1.8zM166.8 318.3h1.8v1.8h-1.8zM180.0 313.1h1.8v1.8h-1.8zM146.0 306.0h1.8v1.8h-1.8zM64.9 302.0h1.8v1.8h-1.8zM99.1 298.9h1.8v1.8h-1.8zM97.0 305.0h1.8v1.8h-1.8zM107.0 307.0h1.8v1.8h-1.8zM82.6 307.9h1.8v1.8h-1.8zM84.5 310.2h1.8v1.8h-1.8zM91.4 307.9h1.8v1.8h-1.8zM91.4 311.9h1.8v1.8h-1.8zM90.3 314.0h1.8v1.8h-1.8zM101.2 310.8h1.8v1.8h-1.8zM113.6 310.8h1.8v1.8h-1.8zM112.0 314.9h1.8v1.8h-1.8zM66.7 313.9h1.8v1.8h-1.8zM71.0 317.9h1.8v1.8h-1.8zM84.5 316.9h1.8v1.8h-1.8zM66.0 321.8h1.8v1.8h-1.8zM79.4 324.8h1.8v1.8h-1.8zM95.1 323.7h1.8v1.8h-1.8zM91.1 328.8h1.8v1.8h-1.8zM107.8 329.8h1.8v1.8h-1.8zM75.5 331.7h1.8v1.8h-1.8zM87.1 336.6h1.8v1.8h-1.8z" fill="#000"/>
<path d="M365.8 317.4h1.8v1.8h-1.8zM380.4 326.1h1.8v1.8h-1.8zM370.1 311.1h1.8v1.8h-1.8zM369.3 313.3h1.8v1.8h-1.8zM367.9 313.5h1.8v1.8h-1.8zM363.5 316.1h1.8v1.8h-1.8zM367.4 315.2h1.8v1.8h-1.8zM357.9 317.6h1.8v1.8h-1.8zM379.3 321.3h1.8v1.8h-1.8zM367.0 308.0h1.8v1.8h-1.8zM358.8 307.8h1.8v1.8h-1.8zM366.0 314.2h1.8v1.8h-1.8zM353.6 321.5h1.8v1.8h-1.8zM356.2 311.4h1.8v1.8h-1.8zM365.1 322.7h1.8v1.8h-1.8zM370.0 313.6h1.8v1.8h-1.8zM370.8 315.2h1.8v1.8h-1.8zM371.8 310.6h1.8v1.8h-1.8zM376.9 312.6h1.8v1.8h-1.8zM379.3 308.5h1.8v1.8h-1.8zM353.7 321.7h1.8v1.8h-1.8zM367.9 307.9h1.8v1.8h-1.8zM377.8 312.7h1.8v1.8h-1.8zM381.0 312.4h1.8v1.8h-1.8zM382.8 317.6h1.8v1.8h-1.8zM376.9 317.7h1.8v1.8h-1.8zM369.0 313.8h1.8v1.8h-1.8zM377.9 321.8h1.8v1.8h-1.8zM368.6 333.1h1.8v1.8h-1.8zM391.4 308.0h1.8v1.8h-1.8zM384.8 316.0h1.8v1.8h-1.8zM375.5 310.7h1.8v1.8h-1.8zM391.0 310.4h1.8v1.8h-1.8zM372.1 311.1h1.8v1.8h-1.8zM358.7 313.2h1.8v1.8h-1.8zM377.0 313.3h1.8v1.8h-1.8zM369.2 308.5h1.8v1.8h-1.8zM375.7 308.4h1.8v1.8h-1.8zM382.0 334.2h1.8v1.8h-1.8zM369.5 328.7h1.8v1.8h-1.8zM377.1 311.6h1.8v1.8h-1.8zM369.3 309.4h1.8v1.8h-1.8zM374.2 321.7h1.8v1.8h-1.8zM383.1 314.5h1.8v1.8h-1.8zM360.0 316.0h1.8v1.8h-1.8zM391.2 318.6h1.8v1.8h-1.8zM372.3 301.2h1.8v1.8h-1.8zM368.3 320.5h1.8v1.8h-1.8zM362.7 326.5h1.8v1.8h-1.8zM366.9 310.1h1.8v1.8h-1.8zM366.7 315.8h1.8v1.8h-1.8zM383.8 312.3h1.8v1.8h-1.8zM353.7 315.9h1.8v1.8h-1.8zM378.7 327.9h1.8v1.8h-1.8zM360.8 327.4h1.8v1.8h-1.8zM380.3 319.9h1.8v1.8h-1.8zM364.7 310.0h1.8v1.8h-1.8zM362.7 323.4h1.8v1.8h-1.8zM375.4 324.4h1.8v1.8h-1.8zM372.5 330.6h1.8v1.8h-1.8zM358.9 313.2h1.8v1.8h-1.8zM369.0 313.7h1.8v1.8h-1.8zM374.6 310.4h1.8v1.8h-1.8zM385.6 306.5h1.8v1.8h-1.8zM364.2 304.1h1.8v1.8h-1.8zM357.8 320.8h1.8v1.8h-1.8zM379.8 315.1h1.8v1.8h-1.8zM382.1 321.1h1.8v1.8h-1.8zM366.8 316.2h1.8v1.8h-1.8zM377.0 331.3h1.8v1.8h-1.8zM368.2 319.3h1.8v1.8h-1.8zM378.9 325.5h1.8v1.8h-1.8zM377.6 324.4h1.8v1.8h-1.8zM361.5 314.6h1.8v1.8h-1.8zM352.1 316.2h1.8v1.8h-1.8zM374.0 318.5h1.8v1.8h-1.8zM374.6 306.8h1.8v1.8h-1.8zM365.5 315.3h1.8v1.8h-1.8zM374.8 310.2h1.8v1.8h-1.8zM371.9 311.2h1.8v1.8h-1.8zM358.7 311.7h1.8v1.8h-1.8zM364.3 322.7h1.8v1.8h-1.8zM387.5 320.8h1.8v1.8h-1.8zM370.7 312.5h1.8v1.8h-1.8zM356.0 312.7h1.8v1.8h-1.8zM389.9 325.0h1.8v1.8h-1.8zM375.4 314.7h1.8v1.8h-1.8zM373.0 319.6h1.8v1.8h-1.8zM372.9 319.7h1.8v1.8h-1.8zM364.7 316.9h1.8v1.8h-1.8zM369.2 324.4h1.8v1.8h-1.8zM359.6 326.0h1.8v1.8h-1.8zM372.1 312.9h1.8v1.8h-1.8zM373.2 317.5h1.8v1.8h-1.8zM370.5 319.7h1.8v1.8h-1.8zM366.8 304.2h1.8v1.8h-1.8zM380.5 316.4h1.8v1.8h-1.8zM391.0 319.4h1.8v1.8h-1.8zM351.4 325.6h1.8v1.8h-1.8zM365.6 320.6h1.8v1.8h-1.8zM361.2 315.9h1.8v1.8h-1.8zM355.6 321.4h1.8v1.8h-1.8zM379.1 309.0h1.8v1.8h-1.8zM377.9 323.4h1.8v1.8h-1.8zM381.7 311.7h1.8v1.8h-1.8zM365.5 308.4h1.8v1.8h-1.8zM359.0 318.9h1.8v1.8h-1.8zM373.4 326.1h1.8v1.8h-1.8zM376.0 314.2h1.8v1.8h-1.8zM357.6 327.8h1.8v1.8h-1.8zM374.8 316.3h1.8v1.8h-1.8zM362.1 308.9h1.8v1.8h-1.8zM379.8 309.5h1.8v1.8h-1.8zM379.3 321.1h1.8v1.8h-1.8zM368.9 304.7h1.8v1.8h-1.8zM377.4 326.8h1.8v1.8h-1.8zM364.1 307.3h1.8v1.8h-1.8zM384.8 317.6h1.8v1.8h-1.8zM366.3 325.5h1.8v1.8h-1.8zM370.0 319.9h1.8v1.8h-1.8zM368.7 311.1h1.8v1.8h-1.8zM375.4 310.3h1.8v1.8h-1.8zM353.8 312.6h1.8v1.8h-1.8zM386.3 324.6h1.8v1.8h-1.8zM390.4 318.4h1.8v1.8h-1.8zM368.3 320.0h1.8v1.8h-1.8zM362.7 321.9h1.8v1.8h-1.8zM368.2 318.5h1.8v1.8h-1.8zM363.8 315.6h1.8v1.8h-1.8zM383.6 315.0h1.8v1.8h-1.8zM365.7 318.6h1.8v1.8h-1.8zM382.5 315.2h1.8v1.8h-1.8zM360.4 305.2h1.8v1.8h-1.8zM358.5 324.3h1.8v1.8h-1.8zM372.0 320.1h1.8v1.8h-1.8zM384.6 318.6h1.8v1.8h-1.8zM378.2 312.9h1.8v1.8h-1.8zM355.6 321.1h1.8v1.8h-1.8zM372.0 320.8h1.8v1.8h-1.8zM361.5 315.5h1.8v1.8h-1.8zM374.1 326.1h1.8v1.8h-1.8zM370.5 317.5h1.8v1.8h-1.8zM350.0 322.2h1.8v1.8h-1.8zM368.2 325.9h1.8v1.8h-1.8zM372.0 313.9h1.8v1.8h-1.8zM377.7 314.8h1.8v1.8h-1.8zM367.4 327.8h1.8v1.8h-1.8zM383.6 317.4h1.8v1.8h-1.8zM381.7 322.6h1.8v1.8h-1.8zM379.3 316.9h1.8v1.8h-1.8zM373.8 319.5h1.8v1.8h-1.8zM379.1 319.2h1.8v1.8h-1.8zM367.1 316.0h1.8v1.8h-1.8zM377.9 309.5h1.8v1.8h-1.8zM372.9 322.1h1.8v1.8h-1.8zM374.8 314.5h1.8v1.8h-1.8zM372.8 313.1h1.8v1.8h-1.8zM383.6 313.9h1.8v1.8h-1.8zM355.1 307.9h1.8v1.8h-1.8zM376.2 318.1h1.8v1.8h-1.8zM367.9 307.1h1.8v1.8h-1.8zM371.4 310.5h1.8v1.8h-1.8zM365.9 316.6h1.8v1.8h-1.8zM364.7 318.8h1.8v1.8h-1.8zM365.0 313.3h1.8v1.8h-1.8zM370.6 327.1h1.8v1.8h-1.8zM390.0 323.4h1.8v1.8h-1.8zM365.1 316.6h1.8v1.8h-1.8zM382.8 322.4h1.8v1.8h-1.8zM355.5 316.2h1.8v1.8h-1.8zM365.0 322.0h1.8v1.8h-1.8zM379.9 312.8h1.8v1.8h-1.8zM372.1 330.2h1.8v1.8h-1.8zM367.3 313.2h1.8v1.8h-1.8zM388.9 316.3h1.8v1.8h-1.8zM378.1 307.6h1.8v1.8h-1.8zM376.8 321.7h1.8v1.8h-1.8zM367.6 313.2h1.8v1.8h-1.8zM356.1 319.3h1.8v1.8h-1.8zM386.3 322.8h1.8v1.8h-1.8zM382.9 321.7h1.8v1.8h-1.8zM363.1 307.3h1.8v1.8h-1.8zM379.9 317.8h1.8v1.8h-1.8zM383.6 314.6h1.8v1.8h-1.8zM363.5 319.8h1.8v1.8h-1.8zM367.0 304.9h1.8v1.8h-1.8zM366.5 310.3h1.8v1.8h-1.8zM361.0 312.7h1.8v1.8h-1.8zM383.2 333.4h1.8v1.8h-1.8zM391.6 313.7h1.8v1.8h-1.8zM385.3 316.1h1.8v1.8h-1.8zM377.3 311.8h1.8v1.8h-1.8zM372.2 304.6h1.8v1.8h-1.8zM379.3 312.4h1.8v1.8h-1.8zM375.9 308.2h1.8v1.8h-1.8zM369.0 323.1h1.8v1.8h-1.8zM379.4 302.7h1.8v1.8h-1.8zM382.2 307.3h1.8v1.8h-1.8zM376.1 320.3h1.8v1.8h-1.8zM366.1 314.4h1.8v1.8h-1.8zM370.4 319.5h1.8v1.8h-1.8zM382.8 326.3h1.8v1.8h-1.8zM376.5 330.9h1.8v1.8h-1.8zM362.8 329.3h1.8v1.8h-1.8zM370.2 322.1h1.8v1.8h-1.8zM371.6 317.2h1.8v1.8h-1.8zM363.1 319.4h1.8v1.8h-1.8zM372.8 316.7h1.8v1.8h-1.8zM380.7 315.2h1.8v1.8h-1.8zM373.0 318.2h1.8v1.8h-1.8zM387.0 323.4h1.8v1.8h-1.8zM361.7 312.1h1.8v1.8h-1.8zM373.2 322.7h1.8v1.8h-1.8zM383.4 315.1h1.8v1.8h-1.8zM388.1 326.8h1.8v1.8h-1.8zM390.2 318.1h1.8v1.8h-1.8zM379.2 305.7h1.8v1.8h-1.8zM353.8 312.3h1.8v1.8h-1.8zM380.7 324.2h1.8v1.8h-1.8zM371.9 324.0h1.8v1.8h-1.8zM379.2 327.5h1.8v1.8h-1.8zM355.9 310.7h1.8v1.8h-1.8zM362.7 309.2h1.8v1.8h-1.8zM390.8 310.0h1.8v1.8h-1.8zM364.1 313.8h1.8v1.8h-1.8zM382.5 313.3h1.8v1.8h-1.8zM380.9 320.5h1.8v1.8h-1.8zM366.1 299.8h1.8v1.8h-1.8zM363.1 307.7h1.8v1.8h-1.8zM390.6 311.5h1.8v1.8h-1.8zM361.5 319.3h1.8v1.8h-1.8zM373.6 310.0h1.8v1.8h-1.8zM384.8 323.1h1.8v1.8h-1.8zM376.0 311.2h1.8v1.8h-1.8zM363.6 302.0h1.8v1.8h-1.8zM377.1 319.4h1.8v1.8h-1.8zM363.1 316.8h1.8v1.8h-1.8zM354.6 321.0h1.8v1.8h-1.8zM368.4 313.1h1.8v1.8h-1.8zM379.7 315.7h1.8v1.8h-1.8zM383.7 320.3h1.8v1.8h-1.8zM385.5 317.5h1.8v1.8h-1.8zM349.7 326.3h1.8v1.8h-1.8zM354.7 324.0h1.8v1.8h-1.8zM375.7 306.7h1.8v1.8h-1.8zM373.7 322.9h1.8v1.8h-1.8zM362.0 316.9h1.8v1.8h-1.8zM365.0 309.4h1.8v1.8h-1.8zM366.3 325.7h1.8v1.8h-1.8zM380.4 316.4h1.8v1.8h-1.8zM372.1 317.5h1.8v1.8h-1.8zM376.1 317.9h1.8v1.8h-1.8zM354.5 323.1h1.8v1.8h-1.8zM380.6 308.0h1.8v1.8h-1.8zM371.5 315.9h1.8v1.8h-1.8zM366.6 320.4h1.8v1.8h-1.8zM370.1 314.6h1.8v1.8h-1.8zM362.7 314.6h1.8v1.8h-1.8zM361.8 316.9h1.8v1.8h-1.8zM387.3 323.8h1.8v1.8h-1.8zM377.6 306.9h1.8v1.8h-1.8zM384.1 323.2h1.8v1.8h-1.8zM373.2 314.2h1.8v1.8h-1.8zM384.8 308.8h1.8v1.8h-1.8zM368.9 333.1h1.8v1.8h-1.8zM383.7 302.4h1.8v1.8h-1.8zM373.2 326.3h1.8v1.8h-1.8zM366.3 320.8h1.8v1.8h-1.8zM374.1 306.1h1.8v1.8h-1.8zM366.2 324.7h1.8v1.8h-1.8zM385.8 312.3h1.8v1.8h-1.8zM385.2 311.5h1.8v1.8h-1.8zM375.7 316.4h1.8v1.8h-1.8zM359.5 318.9h1.8v1.8h-1.8zM364.0 310.5h1.8v1.8h-1.8zM364.0 309.6h1.8v1.8h-1.8zM365.6 299.0h1.8v1.8h-1.8zM382.6 317.1h1.8v1.8h-1.8zM375.8 314.7h1.8v1.8h-1.8zM373.7 314.7h1.8v1.8h-1.8zM361.2 305.7h1.8v1.8h-1.8zM373.8 323.8h1.8v1.8h-1.8zM375.5 328.1h1.8v1.8h-1.8zM358.2 314.7h1.8v1.8h-1.8zM366.3 325.4h1.8v1.8h-1.8zM391.3 312.8h1.8v1.8h-1.8zM380.9 314.8h1.8v1.8h-1.8zM362.2 315.8h1.8v1.8h-1.8zM361.7 327.6h1.8v1.8h-1.8zM379.4 325.0h1.8v1.8h-1.8zM376.9 299.1h1.8v1.8h-1.8zM381.7 317.2h1.8v1.8h-1.8zM347.2 317.3h1.8v1.8h-1.8zM383.9 328.8h1.8v1.8h-1.8zM361.9 322.2h1.8v1.8h-1.8zM376.6 315.3h1.8v1.8h-1.8zM369.9 320.3h1.8v1.8h-1.8zM379.2 321.3h1.8v1.8h-1.8zM368.6 307.1h1.8v1.8h-1.8zM387.3 325.8h1.8v1.8h-1.8zM366.9 316.3h1.8v1.8h-1.8zM381.7 303.9h1.8v1.8h-1.8zM378.4 333.9h1.8v1.8h-1.8zM375.9 311.5h1.8v1.8h-1.8zM375.3 313.5h1.8v1.8h-1.8zM375.0 303.7h1.8v1.8h-1.8zM359.1 305.9h1.8v1.8h-1.8zM382.8 315.9h1.8v1.8h-1.8zM385.5 301.9h1.8v1.8h-1.8zM366.5 327.0h1.8v1.8h-1.8zM364.4 303.1h1.8v1.8h-1.8zM364.9 314.0h1.8v1.8h-1.8zM372.9 325.9h1.8v1.8h-1.8zM387.4 327.7h1.8v1.8h-1.8zM379.3 312.9h1.8v1.8h-1.8zM367.6 305.9h1.8v1.8h-1.8zM386.8 325.5h1.8v1.8h-1.8zM374.0 310.1h1.8v1.8h-1.8zM380.3 320.0h1.8v1.8h-1.8zM374.7 308.2h1.8v1.8h-1.8zM375.6 312.4h1.8v1.8h-1.8zM381.0 320.8h1.8v1.8h-1.8zM377.8 313.4h1.8v1.8h-1.8zM389.5 322.1h1.8v1.8h-1.8zM386.7 322.5h1.8v1.8h-1.8zM380.2 319.3h1.8v1.8h-1.8zM361.4 303.4h1.8v1.8h-1.8zM362.9 320.9h1.8v1.8h-1.8zM382.8 317.8h1.8v1.8h-1.8zM374.0 329.7h1.8v1.8h-1.8zM368.7 303.7h1.8v1.8h-1.8zM356.3 314.2h1.8v1.8h-1.8zM380.6 321.8h1.8v1.8h-1.8zM370.6 322.4h1.8v1.8h-1.8zM372.5 311.3h1.8v1.8h-1.8zM368.9 321.9h1.8v1.8h-1.8zM383.3 308.4h1.8v1.8h-1.8zM362.3 317.4h1.8v1.8h-1.8zM359.5 319.5h1.8v1.8h-1.8zM378.5 312.1h1.8v1.8h-1.8zM372.7 320.0h1.8v1.8h-1.8zM354.2 316.3h1.8v1.8h-1.8zM379.5 323.1h1.8v1.8h-1.8zM385.6 316.0h1.8v1.8h-1.8zM357.4 326.2h1.8v1.8h-1.8zM381.3 311.9h1.8v1.8h-1.8zM384.2 324.0h1.8v1.8h-1.8zM371.5 299.5h1.8v1.8h-1.8zM367.9 311.1h1.8v1.8h-1.8zM364.0 315.9h1.8v1.8h-1.8zM361.3 319.3h1.8v1.8h-1.8zM384.2 312.7h1.8v1.8h-1.8zM378.9 315.6h1.8v1.8h-1.8zM386.8 311.4h1.8v1.8h-1.8zM380.9 310.9h1.8v1.8h-1.8zM375.5 316.4h1.8v1.8h-1.8zM384.7 305.2h1.8v1.8h-1.8zM358.5 326.5h1.8v1.8h-1.8zM377.2 328.7h1.8v1.8h-1.8zM361.9 318.0h1.8v1.8h-1.8zM379.5 329.2h1.8v1.8h-1.8zM372.4 313.3h1.8v1.8h-1.8zM380.7 315.8h1.8v1.8h-1.8zM364.9 322.0h1.8v1.8h-1.8zM352.5 309.2h1.8v1.8h-1.8zM387.7 312.9h1.8v1.8h-1.8zM369.5 319.2h1.8v1.8h-1.8zM385.1 320.3h1.8v1.8h-1.8zM362.6 312.4h1.8v1.8h-1.8zM384.3 315.6h1.8v1.8h-1.8zM366.2 322.8h1.8v1.8h-1.8zM385.3 332.1h1.8v1.8h-1.8zM361.4 311.4h1.8v1.8h-1.8zM365.5 319.1h1.8v1.8h-1.8zM367.9 324.5h1.8v1.8h-1.8zM366.1 314.5h1.8v1.8h-1.8zM379.1 318.0h1.8v1.8h-1.8zM362.1 327.3h1.8v1.8h-1.8zM379.2 313.0h1.8v1.8h-1.8zM375.2 308.5h1.8v1.8h-1.8zM359.8 314.3h1.8v1.8h-1.8zM376.9 317.2h1.8v1.8h-1.8zM364.7 306.5h1.8v1.8h-1.8zM355.0 328.0h1.8v1.8h-1.8zM377.0 310.7h1.8v1.8h-1.8zM385.7 320.4h1.8v1.8h-1.8zM368.6 312.1h1.8v1.8h-1.8zM385.2 318.9h1.8v1.8h-1.8zM390.6 319.1h1.8v1.8h-1.8zM366.7 312.2h1.8v1.8h-1.8zM365.5 318.3h1.8v1.8h-1.8zM375.7 320.9h1.8v1.8h-1.8zM377.8 308.9h1.8v1.8h-1.8zM370.8 309.7h1.8v1.8h-1.8zM378.2 307.0h1.8v1.8h-1.8zM366.8 310.3h1.8v1.8h-1.8zM366.4 314.7h1.8v1.8h-1.8zM389.2 314.7h1.8v1.8h-1.8zM357.6 314.3h1.8v1.8h-1.8zM381.0 320.5h1.8v1.8h-1.8zM375.6 330.8h1.8v1.8h-1.8zM384.9 317.2h1.8v1.8h-1.8zM386.0 306.9h1.8v1.8h-1.8zM371.2 310.3h1.8v1.8h-1.8zM374.9 328.1h1.8v1.8h-1.8zM367.7 328.0h1.8v1.8h-1.8zM362.1 326.8h1.8v1.8h-1.8zM354.9 310.4h1.8v1.8h-1.8zM383.7 315.8h1.8v1.8h-1.8zM374.6 316.4h1.8v1.8h-1.8zM374.9 315.2h1.8v1.8h-1.8zM362.5 314.4h1.8v1.8h-1.8zM374.2 310.0h1.8v1.8h-1.8zM378.0 329.2h1.8v1.8h-1.8zM355.4 312.6h1.8v1.8h-1.8zM370.0 316.6h1.8v1.8h-1.8zM374.0 311.3h1.8v1.8h-1.8zM372.6 316.5h1.8v1.8h-1.8zM372.1 327.6h1.8v1.8h-1.8zM374.4 305.9h1.8v1.8h-1.8zM356.3 320.8h1.8v1.8h-1.8zM369.4 312.1h1.8v1.8h-1.8zM358.5 314.3h1.8v1.8h-1.8zM372.0 311.6h1.8v1.8h-1.8zM369.2 322.9h1.8v1.8h-1.8zM381.4 320.4h1.8v1.8h-1.8zM371.1 306.7h1.8v1.8h-1.8zM381.3 327.3h1.8v1.8h-1.8zM386.6 324.9h1.8v1.8h-1.8zM376.0 319.2h1.8v1.8h-1.8zM372.9 325.5h1.8v1.8h-1.8zM370.1 331.9h1.8v1.8h-1.8zM381.3 314.2h1.8v1.8h-1.8zM373.0 304.9h1.8v1.8h-1.8zM365.2 314.3h1.8v1.8h-1.8zM382.8 317.1h1.8v1.8h-1.8zM369.8 321.0h1.8v1.8h-1.8zM351.7 323.3h1.8v1.8h-1.8zM372.3 317.7h1.8v1.8h-1.8zM380.1 313.0h1.8v1.8h-1.8zM374.3 320.1h1.8v1.8h-1.8zM369.3 319.3h1.8v1.8h-1.8zM376.6 321.6h1.8v1.8h-1.8zM362.5 312.6h1.8v1.8h-1.8zM368.4 325.1h1.8v1.8h-1.8zM375.7 304.6h1.8v1.8h-1.8zM359.4 330.5h1.8v1.8h-1.8zM376.6 307.2h1.8v1.8h-1.8zM363.3 317.5h1.8v1.8h-1.8zM388.2 328.2h1.8v1.8h-1.8zM369.1 314.3h1.8v1.8h-1.8zM389.7 318.9h1.8v1.8h-1.8zM374.0 325.8h1.8v1.8h-1.8zM378.2 310.5h1.8v1.8h-1.8zM356.7 316.6h1.8v1.8h-1.8zM378.5 326.3h1.8v1.8h-1.8zM379.6 327.4h1.8v1.8h-1.8zM381.5 318.0h1.8v1.8h-1.8zM377.6 319.4h1.8v1.8h-1.8zM366.3 315.7h1.8v1.8h-1.8zM374.4 313.3h1.8v1.8h-1.8zM357.4 306.1h1.8v1.8h-1.8zM378.4 320.3h1.8v1.8h-1.8zM374.2 308.1h1.8v1.8h-1.8zM382.1 313.7h1.8v1.8h-1.8zM350.8 327.8h1.8v1.8h-1.8zM357.1 332.7h1.8v1.8h-1.8zM378.7 313.3h1.8v1.8h-1.8zM347.9 311.4h1.8v1.8h-1.8zM388.8 326.3h1.8v1.8h-1.8zM375.8 304.2h1.8v1.8h-1.8zM368.9 314.5h1.8v1.8h-1.8zM377.9 315.6h1.8v1.8h-1.8zM376.7 304.7h1.8v1.8h-1.8zM366.1 326.9h1.8v1.8h-1.8zM357.5 323.2h1.8v1.8h-1.8zM358.2 325.5h1.8v1.8h-1.8zM353.2 318.9h1.8v1.8h-1.8zM368.6 325.4h1.8v1.8h-1.8zM385.6 317.9h1.8v1.8h-1.8zM367.9 309.4h1.8v1.8h-1.8zM377.4 315.7h1.8v1.8h-1.8zM368.0 304.9h1.8v1.8h-1.8zM371.5 315.7h1.8v1.8h-1.8zM383.5 312.8h1.8v1.8h-1.8zM356.3 308.8h1.8v1.8h-1.8zM372.6 318.3h1.8v1.8h-1.8zM380.7 313.7h1.8v1.8h-1.8zM378.8 317.5h1.8v1.8h-1.8zM391.0 316.1h1.8v1.8h-1.8zM374.5 320.6h1.8v1.8h-1.8zM386.0 309.9h1.8v1.8h-1.8zM367.9 314.5h1.8v1.8h-1.8zM350.2 325.9h1.8v1.8h-1.8zM384.5 316.7h1.8v1.8h-1.8zM382.7 306.3h1.8v1.8h-1.8zM389.4 319.5h1.8v1.8h-1.8zM360.2 316.9h1.8v1.8h-1.8zM381.1 323.6h1.8v1.8h-1.8zM374.9 312.7h1.8v1.8h-1.8zM379.1 310.7h1.8v1.8h-1.8zM366.9 325.4h1.8v1.8h-1.8zM347.0 321.6h1.8v1.8h-1.8zM350.1 317.1h1.8v1.8h-1.8zM378.4 317.5h1.8v1.8h-1.8zM381.3 318.9h1.8v1.8h-1.8zM365.0 322.7h1.8v1.8h-1.8zM364.5 319.3h1.8v1.8h-1.8zM383.2 312.5h1.8v1.8h-1.8zM384.8 307.3h1.8v1.8h-1.8zM364.8 301.3h1.8v1.8h-1.8zM360.3 333.3h1.8v1.8h-1.8zM373.2 330.2h1.8v1.8h-1.8zM374.8 326.0h1.8v1.8h-1.8zM380.2 301.9h1.8v1.8h-1.8zM375.5 317.3h1.8v1.8h-1.8zM369.8 322.6h1.8v1.8h-1.8zM363.9 301.7h1.8v1.8h-1.8zM352.4 304.1h1.8v1.8h-1.8zM348.8 316.7h1.8v1.8h-1.8zM387.1 311.1h1.8v1.8h-1.8zM356.9 306.9h1.8v1.8h-1.8zM360.9 315.7h1.8v1.8h-1.8zM354.0 322.7h1.8v1.8h-1.8zM350.5 323.3h1.8v1.8h-1.8zM358.4 325.6h1.8v1.8h-1.8zM355.0 322.3h1.8v1.8h-1.8zM374.4 317.2h1.8v1.8h-1.8zM391.8 319.7h1.8v1.8h-1.8zM355.0 324.7h1.8v1.8h-1.8zM356.0 312.8h1.8v1.8h-1.8zM368.2 319.8h1.8v1.8h-1.8zM364.2 328.9h1.8v1.8h-1.8zM365.7 321.1h1.8v1.8h-1.8zM390.3 306.1h1.8v1.8h-1.8zM368.6 325.7h1.8v1.8h-1.8zM359.4 301.1h1.8v1.8h-1.8zM353.4 319.9h1.8v1.8h-1.8zM370.8 335.8h1.8v1.8h-1.8zM387.4 303.1h1.8v1.8h-1.8zM383.2 326.8h1.8v1.8h-1.8zM391.7 316.5h1.8v1.8h-1.8zM359.9 319.4h1.8v1.8h-1.8zM390.6 324.0h1.8v1.8h-1.8zM359.4 308.2h1.8v1.8h-1.8zM362.9 314.9h1.8v1.8h-1.8zM354.7 312.5h1.8v1.8h-1.8zM367.1 312.9h1.8v1.8h-1.8zM369.8 327.1h1.8v1.8h-1.8zM356.1 314.1h1.8v1.8h-1.8zM377.9 332.5h1.8v1.8h-1.8zM350.5 339.0h1.8v1.8h-1.8zM380.8 315.3h1.8v1.8h-1.8zM362.3 315.0h1.8v1.8h-1.8zM350.3 325.5h1.8v1.8h-1.8zM359.1 311.0h1.8v1.8h-1.8zM375.6 319.1h1.8v1.8h-1.8zM359.5 315.7h1.8v1.8h-1.8zM360.8 331.0h1.8v1.8h-1.8zM382.7 311.0h1.8v1.8h-1.8zM367.4 331.3h1.8v1.8h-1.8zM363.8 335.2h1.8v1.8h-1.8zM374.5 324.5h1.8v1.8h-1.8zM373.0 323.6h1.8v1.8h-1.8zM375.0 323.1h1.8v1.8h-1.8zM360.6 326.7h1.8v1.8h-1.8zM368.9 307.8h1.8v1.8h-1.8zM353.1 319.6h1.8v1.8h-1.8zM359.2 323.4h1.8v1.8h-1.8zM388.6 333.6h1.8v1.8h-1.8zM353.2 330.0h1.8v1.8h-1.8zM350.2 321.0h1.8v1.8h-1.8zM370.5 324.0h1.8v1.8h-1.8zM356.3 331.0h1.8v1.8h-1.8zM367.0 317.8h1.8v1.8h-1.8zM364.1 307.7h1.8v1.8h-1.8zM378.6 321.3h1.8v1.8h-1.8zM374.7 336.1h1.8v1.8h-1.8zM355.3 315.2h1.8v1.8h-1.8zM368.1 326.3h1.8v1.8h-1.8zM365.4 327.1h1.8v1.8h-1.8zM374.7 300.9h1.8v1.8h-1.8zM363.8 314.0h1.8v1.8h-1.8zM376.6 319.7h1.8v1.8h-1.8zM367.1 330.2h1.8v1.8h-1.8zM376.7 306.1h1.8v1.8h-1.8zM357.9 321.2h1.8v1.8h-1.8zM365.5 320.6h1.8v1.8h-1.8zM379.5 317.1h1.8v1.8h-1.8zM372.3 313.9h1.8v1.8h-1.8zM359.9 310.3h1.8v1.8h-1.8zM377.6 312.6h1.8v1.8h-1.8zM376.1 321.9h1.8v1.8h-1.8zM353.9 306.2h1.8v1.8h-1.8zM365.6 325.8h1.8v1.8h-1.8zM387.9 321.7h1.8v1.8h-1.8zM362.3 323.2h1.8v1.8h-1.8zM368.1 324.0h1.8v1.8h-1.8zM352.9 307.4h1.8v1.8h-1.8zM358.6 317.6h1.8v1.8h-1.8zM373.1 314.6h1.8v1.8h-1.8zM373.1 324.6h1.8v1.8h-1.8zM351.0 317.0h1.8v1.8h-1.8zM381.3 311.1h1.8v1.8h-1.8zM381.0 319.0h1.8v1.8h-1.8zM380.7 328.6h1.8v1.8h-1.8zM369.6 312.9h1.8v1.8h-1.8zM359.9 336.8h1.8v1.8h-1.8zM365.3 313.6h1.8v1.8h-1.8zM357.6 301.6h1.8v1.8h-1.8zM360.7 321.2h1.8v1.8h-1.8zM360.9 310.6h1.8v1.8h-1.8zM374.0 322.5h1.8v1.8h-1.8zM361.6 321.0h1.8v1.8h-1.8zM353.7 326.4h1.8v1.8h-1.8zM353.6 314.7h1.8v1.8h-1.8zM370.0 313.9h1.8v1.8h-1.8zM351.2 338.4h1.8v1.8h-1.8zM390.2 301.0h1.8v1.8h-1.8zM369.8 305.7h1.8v1.8h-1.8zM372.6 305.3h1.8v1.8h-1.8zM376.5 323.2h1.8v1.8h-1.8zM361.3 327.2h1.8v1.8h-1.8zM361.3 316.9h1.8v1.8h-1.8zM360.7 300.9h1.8v1.8h-1.8zM364.5 323.1h1.8v1.8h-1.8zM369.7 302.7h1.8v1.8h-1.8zM358.5 324.6h1.8v1.8h-1.8zM384.1 333.5h1.8v1.8h-1.8zM360.9 325.4h1.8v1.8h-1.8zM378.4 311.7h1.8v1.8h-1.8zM362.7 308.5h1.8v1.8h-1.8zM384.3 305.1h1.8v1.8h-1.8zM354.6 314.8h1.8v1.8h-1.8zM363.4 338.6h1.8v1.8h-1.8zM372.0 309.9h1.8v1.8h-1.8zM376.5 321.3h1.8v1.8h-1.8zM372.1 317.4h1.8v1.8h-1.8zM374.8 306.6h1.8v1.8h-1.8zM350.4 313.9h1.8v1.8h-1.8zM351.8 324.8h1.8v1.8h-1.8zM374.5 321.3h1.8v1.8h-1.8zM358.0 305.4h1.8v1.8h-1.8zM376.0 303.6h1.8v1.8h-1.8zM372.4 316.6h1.8v1.8h-1.8zM379.0 318.5h1.8v1.8h-1.8zM369.6 312.3h1.8v1.8h-1.8zM378.2 328.2h1.8v1.8h-1.8zM388.2 308.3h1.8v1.8h-1.8zM354.3 324.8h1.8v1.8h-1.8zM372.6 303.2h1.8v1.8h-1.8zM359.9 333.3h1.8v1.8h-1.8zM347.7 333.6h1.8v1.8h-1.8zM361.4 308.0h1.8v1.8h-1.8zM364.1 306.7h1.8v1.8h-1.8zM373.0 313.4h1.8v1.8h-1.8zM355.6 331.5h1.8v1.8h-1.8zM374.4 309.3h1.8v1.8h-1.8zM389.7 317.5h1.8v1.8h-1.8zM375.4 319.4h1.8v1.8h-1.8zM385.3 324.0h1.8v1.8h-1.8zM362.9 325.0h1.8v1.8h-1.8zM362.3 319.3h1.8v1.8h-1.8zM352.8 314.1h1.8v1.8h-1.8zM360.7 330.7h1.8v1.8h-1.8zM391.2 313.6h1.8v1.8h-1.8zM370.7 314.5h1.8v1.8h-1.8zM377.8 324.5h1.8v1.8h-1.8zM379.0 325.5h1.8v1.8h-1.8zM378.3 316.2h1.8v1.8h-1.8zM368.6 320.1h1.8v1.8h-1.8zM367.2 321.4h1.8v1.8h-1.8zM355.5 316.5h1.8v1.8h-1.8zM359.1 306.6h1.8v1.8h-1.8zM357.6 313.2h1.8v1.8h-1.8zM365.8 302.8h1.8v1.8h-1.8zM364.2 307.0h1.8v1.8h-1.8zM356.0 319.8h1.8v1.8h-1.8zM384.3 320.8h1.8v1.8h-1.8zM360.8 313.7h1.8v1.8h-1.8zM387.7 302.2h1.8v1.8h-1.8zM384.7 303.4h1.8v1.8h-1.8zM358.7 318.5h1.8v1.8h-1.8zM364.8 334.2h1.8v1.8h-1.8zM375.3 317.5h1.8v1.8h-1.8zM382.0 318.4h1.8v1.8h-1.8zM356.2 329.0h1.8v1.8h-1.8zM390.0 330.5h1.8v1.8h-1.8zM350.8 336.6h1.8v1.8h-1.8zM361.9 325.5h1.8v1.8h-1.8zM385.3 322.8h1.8v1.8h-1.8zM374.5 316.2h1.8v1.8h-1.8zM367.9 320.3h1.8v1.8h-1.8zM379.1 315.4h1.8v1.8h-1.8zM354.8 314.5h1.8v1.8h-1.8zM366.8 336.5h1.8v1.8h-1.8zM383.5 319.2h1.8v1.8h-1.8zM378.8 315.4h1.8v1.8h-1.8zM354.7 327.8h1.8v1.8h-1.8zM370.0 333.6h1.8v1.8h-1.8zM400.9 306.5h1.8v1.8h-1.8zM405.7 307.3h1.8v1.8h-1.8zM400.6 304.5h1.8v1.8h-1.8zM405.0 309.3h1.8v1.8h-1.8zM417.3 307.9h1.8v1.8h-1.8zM420.9 306.3h1.8v1.8h-1.8zM396.7 307.3h1.8v1.8h-1.8zM401.5 302.1h1.8v1.8h-1.8zM407.5 304.6h1.8v1.8h-1.8zM408.0 315.5h1.8v1.8h-1.8zM412.8 308.8h1.8v1.8h-1.8zM399.0 307.0h1.8v1.8h-1.8zM410.6 306.0h1.8v1.8h-1.8zM406.3 311.8h1.8v1.8h-1.8zM395.9 305.7h1.8v1.8h-1.8zM406.5 308.0h1.8v1.8h-1.8zM402.0 305.9h1.8v1.8h-1.8zM402.5 315.3h1.8v1.8h-1.8zM413.7 301.7h1.8v1.8h-1.8zM403.4 308.4h1.8v1.8h-1.8zM403.3 302.6h1.8v1.8h-1.8zM402.0 308.6h1.8v1.8h-1.8zM397.7 309.2h1.8v1.8h-1.8zM403.8 309.5h1.8v1.8h-1.8zM401.7 306.2h1.8v1.8h-1.8zM404.5 312.2h1.8v1.8h-1.8zM410.1 307.7h1.8v1.8h-1.8zM399.3 312.2h1.8v1.8h-1.8zM407.2 311.5h1.8v1.8h-1.8zM400.8 304.6h1.8v1.8h-1.8zM392.1 304.0h1.8v1.8h-1.8zM393.1 307.4h1.8v1.8h-1.8zM394.5 308.9h1.8v1.8h-1.8zM397.0 304.4h1.8v1.8h-1.8zM398.0 306.4h1.8v1.8h-1.8zM398.5 308.4h1.8v1.8h-1.8zM400.0 309.9h1.8v1.8h-1.8zM401.4 304.0h1.8v1.8h-1.8zM402.4 306.9h1.8v1.8h-1.8zM402.9 311.3h1.8v1.8h-1.8zM401.0 312.8h1.8v1.8h-1.8zM397.0 312.3h1.8v1.8h-1.8zM395.0 315.3h1.8v1.8h-1.8zM392.6 311.8h1.8v1.8h-1.8zM392.6 315.3h1.8v1.8h-1.8zM403.9 308.9h1.8v1.8h-1.8zM405.9 305.9h1.8v1.8h-1.8zM406.9 308.4h1.8v1.8h-1.8zM406.4 311.3h1.8v1.8h-1.8zM407.4 314.8h1.8v1.8h-1.8zM405.4 316.3h1.8v1.8h-1.8zM408.8 315.3h1.8v1.8h-1.8zM409.8 303.5h1.8v1.8h-1.8zM410.8 306.9h1.8v1.8h-1.8zM411.3 309.9h1.8v1.8h-1.8zM411.8 314.8h1.8v1.8h-1.8zM412.8 304.0h1.8v1.8h-1.8zM413.3 306.9h1.8v1.8h-1.8zM414.3 308.9h1.8v1.8h-1.8zM414.7 311.8h1.8v1.8h-1.8zM415.2 301.5h1.8v1.8h-1.8zM414.7 314.8h1.8v1.8h-1.8zM416.7 306.9h1.8v1.8h-1.8zM417.7 304.0h1.8v1.8h-1.8zM418.2 311.3h1.8v1.8h-1.8zM419.7 303.5h1.8v1.8h-1.8zM421.6 299.5h1.8v1.8h-1.8zM423.1 310.4h1.8v1.8h-1.8zM424.1 309.4h1.8v1.8h-1.8zM426.6 303.5h1.8v1.8h-1.8zM426.6 308.4h1.8v1.8h-1.8zM426.6 317.7h1.8v1.8h-1.8zM403.9 318.7h1.8v1.8h-1.8zM400.5 316.8h1.8v1.8h-1.8zM398.0 319.7h1.8v1.8h-1.8zM395.0 319.2h1.8v1.8h-1.8zM392.1 320.7h1.8v1.8h-1.8zM395.5 322.7h1.8v1.8h-1.8zM417.2 320.2h1.8v1.8h-1.8zM417.7 325.6h1.8v1.8h-1.8zM415.7 324.6h1.8v1.8h-1.8zM408.3 324.6h1.8v1.8h-1.8zM412.3 326.6h1.8v1.8h-1.8zM403.4 326.6h1.8v1.8h-1.8zM400.5 326.6h1.8v1.8h-1.8zM394.5 326.1h1.8v1.8h-1.8zM392.1 327.1h1.8v1.8h-1.8zM391.6 331.0h1.8v1.8h-1.8zM397.0 334.0h1.8v1.8h-1.8zM398.0 338.4h1.8v1.8h-1.8zM426.1 332.5h1.8v1.8h-1.8zM420.7 338.4h1.8v1.8h-1.8zM429.0 337.4h1.8v1.8h-1.8zM328.4 310.0h1.8v1.8h-1.8zM328.9 312.0h1.8v1.8h-1.8zM329.9 318.2h1.8v1.8h-1.8zM331.3 319.2h1.8v1.8h-1.8zM333.3 314.4h1.8v1.8h-1.8zM333.7 318.7h1.8v1.8h-1.8zM335.2 312.9h1.8v1.8h-1.8zM336.2 315.4h1.8v1.8h-1.8zM336.6 312.0h1.8v1.8h-1.8zM337.6 304.7h1.8v1.8h-1.8zM338.6 321.1h1.8v1.8h-1.8zM338.1 325.0h1.8v1.8h-1.8zM340.0 309.6h1.8v1.8h-1.8zM340.5 305.7h1.8v1.8h-1.8zM341.5 306.7h1.8v1.8h-1.8zM342.4 312.5h1.8v1.8h-1.8zM342.9 317.3h1.8v1.8h-1.8zM343.4 311.0h1.8v1.8h-1.8zM343.9 314.4h1.8v1.8h-1.8zM344.4 323.1h1.8v1.8h-1.8zM344.8 326.9h1.8v1.8h-1.8zM341.9 326.4h1.8v1.8h-1.8zM339.5 326.9h1.8v1.8h-1.8zM334.7 329.8h1.8v1.8h-1.8zM340.5 330.8h1.8v1.8h-1.8zM344.8 333.2h1.8v1.8h-1.8zM345.8 307.6h1.8v1.8h-1.8zM347.2 304.7h1.8v1.8h-1.8zM348.2 310.5h1.8v1.8h-1.8zM348.7 315.8h1.8v1.8h-1.8zM349.2 321.6h1.8v1.8h-1.8zM347.2 326.0h1.8v1.8h-1.8zM352.1 302.3h1.8v1.8h-1.8zM351.6 306.7h1.8v1.8h-1.8zM350.1 308.1h1.8v1.8h-1.8zM355.0 333.7h1.8v1.8h-1.8zM355.9 336.6h1.8v1.8h-1.8z" fill="#000"/>
</svg></body></html>
